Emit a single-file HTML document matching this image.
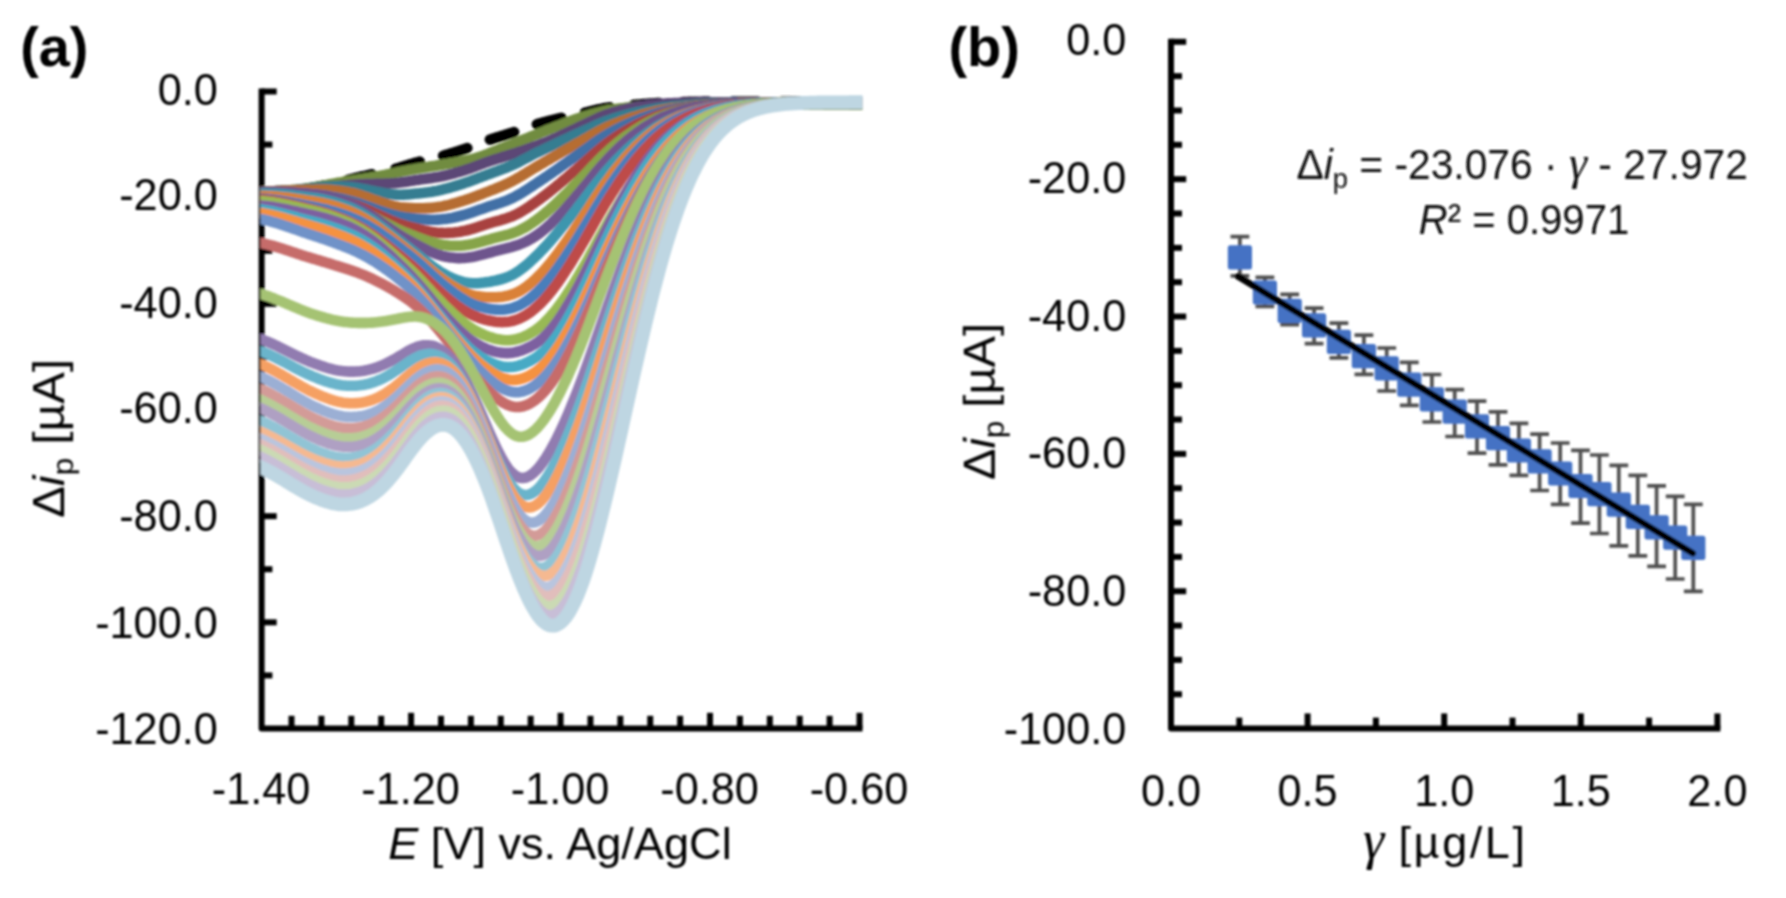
<!DOCTYPE html>
<html><head><meta charset="utf-8"><title>Figure</title>
<style>html,body{margin:0;padding:0;background:#fff;}svg{display:block;}</style></head>
<body>
<svg width="1786" height="898" viewBox="0 0 1786 898">
<defs><filter id="soft" x="0" y="0" width="1786" height="898" filterUnits="userSpaceOnUse"><feGaussianBlur stdDeviation="0.8"/></filter></defs>
<rect width="1786" height="898" fill="#fff"/>
<g filter="url(#soft)">
<g id="chartA">
<g stroke="#000" stroke-width="6" fill="none" stroke-linecap="butt">
<path d="M261.6,88.5 V728.5 H862.5" stroke-linejoin="round"/>
<path d="M261.6,91.50 H276.7"/>
<path d="M261.6,144.58 H272.4"/>
<path d="M261.6,197.67 H276.7"/>
<path d="M261.6,250.75 H272.4"/>
<path d="M261.6,303.83 H276.7"/>
<path d="M261.6,356.92 H272.4"/>
<path d="M261.6,410.00 H276.7"/>
<path d="M261.6,463.08 H272.4"/>
<path d="M261.6,516.17 H276.7"/>
<path d="M261.6,569.25 H272.4"/>
<path d="M261.6,622.33 H276.7"/>
<path d="M261.6,675.42 H272.4"/>
<path d="M291.50,728.5 V715.8"/>
<path d="M321.39,728.5 V715.8"/>
<path d="M351.29,728.5 V715.8"/>
<path d="M381.18,728.5 V715.8"/>
<path d="M411.08,728.5 V712.8"/>
<path d="M440.97,728.5 V715.8"/>
<path d="M470.87,728.5 V715.8"/>
<path d="M500.76,728.5 V715.8"/>
<path d="M530.65,728.5 V715.8"/>
<path d="M560.55,728.5 V712.8"/>
<path d="M590.44,728.5 V715.8"/>
<path d="M620.34,728.5 V715.8"/>
<path d="M650.24,728.5 V715.8"/>
<path d="M680.13,728.5 V715.8"/>
<path d="M710.03,728.5 V712.8"/>
<path d="M739.92,728.5 V715.8"/>
<path d="M769.82,728.5 V715.8"/>
<path d="M799.71,728.5 V715.8"/>
<path d="M829.61,728.5 V715.8"/>
<path d="M859.50,728.5 V712.8"/>
</g>
<clipPath id="clipA"><rect x="260.5" y="60" width="602" height="640"/></clipPath>
<path d="M262.0,192.0 L263.0,192.0 L264.0,192.0 L265.0,192.0 L266.0,191.9 L267.0,191.9 L268.0,191.9 L269.0,191.9 L270.0,191.8 L271.0,191.8 L272.0,191.7 L273.0,191.7 L274.0,191.6 L275.0,191.6 L276.0,191.5 L277.0,191.5 L278.0,191.4 L279.0,191.3 L280.0,191.3 L281.0,191.2 L282.0,191.1 L283.0,191.0 L284.0,191.0 L285.0,190.9 L286.0,190.8 L287.0,190.7 L288.0,190.6 L289.0,190.5 L290.0,190.4 L291.0,190.4 L292.0,190.3 L293.0,190.2 L294.0,190.1 L295.0,190.0 L296.0,189.9 L297.0,189.8 L298.0,189.7 L299.0,189.6 L300.0,189.5 L301.0,189.4 L302.0,189.3 L303.0,189.2 L304.0,189.0 L305.0,188.9 L306.0,188.8 L307.0,188.6 L308.0,188.5 L309.0,188.3 L310.0,188.2 L311.0,188.0 L312.0,187.8 L313.0,187.7 L314.0,187.5 L315.0,187.3 L316.0,187.1 L317.0,186.9 L318.0,186.7 L319.0,186.5 L320.0,186.3 L321.0,186.1 L322.0,185.9 L323.0,185.7 L324.0,185.5 L325.0,185.3 L326.0,185.1 L327.0,184.9 L328.0,184.7 L329.0,184.5 L330.0,184.3 L331.0,184.1 L332.0,183.9 L333.0,183.7 L334.0,183.4 L335.0,183.2 L336.0,183.0 L337.0,182.8 L338.0,182.5 L339.0,182.3 L340.0,182.0 L341.0,181.8 L342.0,181.5 L343.0,181.3 L344.0,181.0 L345.0,180.8 L346.0,180.5 L347.0,180.3 L348.0,180.0 L349.0,179.8 L350.0,179.5 L351.0,179.2 L352.0,179.0 L353.0,178.7 L354.0,178.5 L355.0,178.2 L356.0,178.0 L357.0,177.7 L358.0,177.5 L359.0,177.2 L360.0,177.0 L361.0,176.8 L362.0,176.5 L363.0,176.3 L364.0,176.1 L365.0,175.8 L366.0,175.6 L367.0,175.4 L368.0,175.2 L369.0,174.9 L370.0,174.7 L371.0,174.5 L372.0,174.3 L373.0,174.1 L374.0,173.8 L375.0,173.6 L376.0,173.4 L377.0,173.2 L378.0,173.0 L379.0,172.7 L380.0,172.5 L381.0,172.3 L382.0,172.1 L383.0,171.8 L384.0,171.6 L385.0,171.4 L386.0,171.1 L387.0,170.9 L388.0,170.7 L389.0,170.4 L390.0,170.2 L391.0,169.9 L392.0,169.7 L393.0,169.4 L394.0,169.2 L395.0,168.9 L396.0,168.6 L397.0,168.3 L398.0,168.1 L399.0,167.8 L400.0,167.5 L401.0,167.2 L402.0,166.9 L403.0,166.6 L404.0,166.2 L405.0,165.9 L406.0,165.6 L407.0,165.3 L408.0,165.0 L409.0,164.7 L410.0,164.4 L411.0,164.1 L412.0,163.8 L413.0,163.5 L414.0,163.2 L415.0,162.9 L416.0,162.6 L417.0,162.3 L418.0,162.1 L419.0,161.8 L420.0,161.5 L421.0,161.3 L422.0,161.0 L423.0,160.8 L424.0,160.5 L425.0,160.3 L426.0,160.1 L427.0,159.8 L428.0,159.6 L429.0,159.3 L430.0,159.1 L431.0,158.9 L432.0,158.6 L433.0,158.4 L434.0,158.1 L435.0,157.9 L436.0,157.6 L437.0,157.4 L438.0,157.1 L439.0,156.9 L440.0,156.6 L441.0,156.3 L442.0,156.1 L443.0,155.8 L444.0,155.5 L445.0,155.2 L446.0,154.9 L447.0,154.6 L448.0,154.3 L449.0,154.0 L450.0,153.7 L451.0,153.4 L452.0,153.1 L453.0,152.8 L454.0,152.5 L455.0,152.2 L456.0,151.9 L457.0,151.6 L458.0,151.2 L459.0,150.9 L460.0,150.6 L461.0,150.2 L462.0,149.9 L463.0,149.6 L464.0,149.2 L465.0,148.9 L466.0,148.6 L467.0,148.2 L468.0,147.9 L469.0,147.5 L470.0,147.1 L471.0,146.8 L472.0,146.4 L473.0,146.0 L474.0,145.6 L475.0,145.2 L476.0,144.9 L477.0,144.5 L478.0,144.1 L479.0,143.7 L480.0,143.3 L481.0,142.9 L482.0,142.5 L483.0,142.1 L484.0,141.8 L485.0,141.4 L486.0,141.0 L487.0,140.7 L488.0,140.3 L489.0,140.0 L490.0,139.6 L491.0,139.3 L492.0,139.0 L493.0,138.6 L494.0,138.3 L495.0,138.0 L496.0,137.7 L497.0,137.4 L498.0,137.1 L499.0,136.8 L500.0,136.5 L501.0,136.2 L502.0,135.9 L503.0,135.6 L504.0,135.3 L505.0,135.0 L506.0,134.6 L507.0,134.3 L508.0,134.0 L509.0,133.7 L510.0,133.4 L511.0,133.1 L512.0,132.8 L513.0,132.4 L514.0,132.1 L515.0,131.8 L516.0,131.4 L517.0,131.1 L518.0,130.7 L519.0,130.4 L520.0,130.0 L521.0,129.6 L522.0,129.3 L523.0,128.9 L524.0,128.6 L525.0,128.2 L526.0,127.9 L527.0,127.5 L528.0,127.2 L529.0,126.8 L530.0,126.5 L531.0,126.1 L532.0,125.8 L533.0,125.5 L534.0,125.2 L535.0,124.8 L536.0,124.5 L537.0,124.2 L538.0,124.0 L539.0,123.7 L540.0,123.4 L541.0,123.1 L542.0,122.8 L543.0,122.5 L544.0,122.3 L545.0,122.0 L546.0,121.7 L547.0,121.5 L548.0,121.2 L549.0,121.0 L550.0,120.7 L551.0,120.4 L552.0,120.2 L553.0,119.9 L554.0,119.7 L555.0,119.4 L556.0,119.2 L557.0,118.9 L558.0,118.7 L559.0,118.5 L560.0,118.2 L561.0,118.0 L562.0,117.7 L563.0,117.5 L564.0,117.3 L565.0,117.0 L566.0,116.8 L567.0,116.6 L568.0,116.4 L569.0,116.1 L570.0,115.9 L571.0,115.7 L572.0,115.5 L573.0,115.3 L574.0,115.0 L575.0,114.8 L576.0,114.6 L577.0,114.4 L578.0,114.2 L579.0,114.0 L580.0,113.7 L581.0,113.5 L582.0,113.3 L583.0,113.1 L584.0,112.9 L585.0,112.6 L586.0,112.4 L587.0,112.2 L588.0,111.9 L589.0,111.7 L590.0,111.4 L591.0,111.2 L592.0,111.0 L593.0,110.7 L594.0,110.5 L595.0,110.2 L596.0,110.0 L597.0,109.8 L598.0,109.5 L599.0,109.3 L600.0,109.1 L601.0,108.9 L602.0,108.7 L603.0,108.5 L604.0,108.3 L605.0,108.1 L606.0,108.0 L607.0,107.8 L608.0,107.7 L609.0,107.5 L610.0,107.4 L611.0,107.3 L612.0,107.1 L613.0,107.0 L614.0,106.9 L615.0,106.7 L616.0,106.6 L617.0,106.5 L618.0,106.4 L619.0,106.3 L620.0,106.2 L621.0,106.1 L622.0,106.0 L623.0,105.9 L624.0,105.8 L625.0,105.7 L626.0,105.6 L627.0,105.5 L628.0,105.4 L629.0,105.3 L630.0,105.2 L631.0,105.1 L632.0,105.0 L633.0,104.9 L634.0,104.9 L635.0,104.8 L636.0,104.7 L637.0,104.6 L638.0,104.5 L639.0,104.5 L640.0,104.4 L641.0,104.3 L642.0,104.2 L643.0,104.1 L644.0,104.1 L645.0,104.0 L646.0,103.9 L647.0,103.8 L648.0,103.7 L649.0,103.7 L650.0,103.6 L651.0,103.5 L652.0,103.5 L653.0,103.4 L654.0,103.3 L655.0,103.3 L656.0,103.2 L657.0,103.1 L658.0,103.1 L659.0,103.0 L660.0,102.9 L661.0,102.9 L662.0,102.8 L663.0,102.8 L664.0,102.7 L665.0,102.7 L666.0,102.6 L667.0,102.6 L668.0,102.6 L669.0,102.5 L670.0,102.5 L671.0,102.5 L672.0,102.4 L673.0,102.4 L674.0,102.4 L675.0,102.3 L676.0,102.3 L677.0,102.3 L678.0,102.3 L679.0,102.2 L680.0,102.2 L681.0,102.2 L682.0,102.1 L683.0,102.1 L684.0,102.1 L685.0,102.1 L686.0,102.0 L687.0,102.0 L688.0,102.0 L689.0,101.9 L690.0,101.9 L691.0,101.9 L692.0,101.9 L693.0,101.8 L694.0,101.8 L695.0,101.8 L696.0,101.8 L697.0,101.8 L698.0,101.7 L699.0,101.7 L700.0,101.7 L701.0,101.7 L702.0,101.7 L703.0,101.6 L704.0,101.6 L705.0,101.6 L706.0,101.6 L707.0,101.6 L708.0,101.6 L709.0,101.6 L710.0,101.6 L711.0,101.5 L712.0,101.5 L713.0,101.5 L714.0,101.5 L715.0,101.5 L716.0,101.5 L717.0,101.5 L718.0,101.5 L719.0,101.5 L720.0,101.5 L721.0,101.5 L722.0,101.5 L723.0,101.5 L724.0,101.5 L725.0,101.5 L726.0,101.5 L727.0,101.5 L728.0,101.5 L729.0,101.5 L730.0,101.5 L731.0,101.5 L732.0,101.5 L733.0,101.5 L734.0,101.5 L735.0,101.5 L736.0,101.5 L737.0,101.5 L738.0,101.5 L739.0,101.5 L740.0,101.5 L741.0,101.5 L742.0,101.5 L743.0,101.5 L744.0,101.5 L745.0,101.5 L746.0,101.5 L747.0,101.5 L748.0,101.5 L749.0,101.5 L750.0,101.5 L751.0,101.5 L752.0,101.5 L753.0,101.5 L754.0,101.5 L755.0,101.5 L756.0,101.5 L757.0,101.5 L758.0,101.5 L759.0,101.5 L760.0,101.5 L761.0,101.5 L762.0,101.5 L763.0,101.5 L764.0,101.5 L765.0,101.5 L766.0,101.5 L767.0,101.5 L768.0,101.5 L769.0,101.5 L770.0,101.5 L771.0,101.5 L772.0,101.5 L773.0,101.5 L774.0,101.5 L775.0,101.5 L776.0,101.5 L777.0,101.5 L778.0,101.5 L779.0,101.5 L780.0,101.5 L781.0,101.5 L782.0,101.5 L783.0,101.5 L784.0,101.5 L785.0,101.5 L786.0,101.5 L787.0,101.5 L788.0,101.5 L789.0,101.5 L790.0,101.5 L791.0,101.5 L792.0,101.5 L793.0,101.5 L794.0,101.5 L795.0,101.5 L796.0,101.5 L797.0,101.5 L798.0,101.5 L799.0,101.5 L800.0,101.5 L801.0,101.5 L802.0,101.5 L803.0,101.5 L804.0,101.5 L805.0,101.5 L806.0,101.5 L807.0,101.5 L808.0,101.5 L809.0,101.5 L810.0,101.5 L811.0,101.5 L812.0,101.5 L813.0,101.5 L814.0,101.5 L815.0,101.5 L816.0,101.5 L817.0,101.5 L818.0,101.5 L819.0,101.5 L820.0,101.5 L821.0,101.5 L822.0,101.5 L823.0,101.5 L824.0,101.5 L825.0,101.5 L826.0,101.5 L827.0,101.5 L828.0,101.5 L829.0,101.5 L830.0,101.5 L831.0,101.5 L832.0,101.5 L833.0,101.5 L834.0,101.5 L835.0,101.5 L836.0,101.5 L837.0,101.5 L838.0,101.5 L839.0,101.5 L840.0,101.5 L841.0,101.5 L842.0,101.5 L843.0,101.5 L844.0,101.5 L845.0,101.5 L846.0,101.5 L847.0,101.5 L848.0,101.5 L849.0,101.5 L850.0,101.5 L851.0,101.5 L852.0,101.5 L853.0,101.5 L854.0,101.5 L855.0,101.5 L856.0,101.5 L857.0,101.5 L858.0,101.5 L859.0,101.5 L860.0,101.5 L861.0,101.5 L862.0,101.5" fill="none" stroke="#000" stroke-width="10.6" stroke-dasharray="25.4 24.1" stroke-dashoffset="-36.9" stroke-linecap="round" clip-path="url(#clipA)"/>
<g fill="none" stroke-width="10.6" stroke-linejoin="round" stroke-linecap="butt" clip-path="url(#clipA)">
<path d="M240.0,191.8 L242.0,191.8 L244.0,191.8 L246.0,191.8 L248.0,191.8 L250.0,191.8 L252.0,191.8 L254.0,191.8 L256.0,191.8 L258.0,191.8 L260.0,191.8 L262.0,191.8 L264.0,191.8 L266.0,191.7 L268.0,191.6 L270.0,191.6 L272.0,191.5 L274.0,191.4 L276.0,191.3 L278.0,191.1 L280.0,191.0 L282.0,190.9 L284.0,190.7 L286.0,190.5 L288.0,190.4 L290.0,190.2 L292.0,190.0 L294.0,189.9 L296.0,189.7 L298.0,189.5 L300.0,189.3 L302.0,189.1 L304.0,188.9 L306.0,188.6 L308.0,188.3 L310.0,188.0 L312.0,187.7 L314.0,187.4 L316.0,187.0 L318.0,186.6 L320.0,186.3 L322.0,185.9 L324.0,185.5 L326.0,185.1 L328.0,184.7 L330.0,184.3 L332.0,183.9 L334.0,183.6 L336.0,183.2 L338.0,182.8 L340.0,182.5 L342.0,182.2 L344.0,181.8 L346.0,181.5 L348.0,181.2 L350.0,180.9 L352.0,180.6 L354.0,180.2 L356.0,179.9 L358.0,179.6 L360.0,179.3 L362.0,179.0 L364.0,178.6 L366.0,178.3 L368.0,178.0 L370.0,177.6 L372.0,177.3 L374.0,177.0 L376.0,176.6 L378.0,176.3 L380.0,175.9 L382.0,175.5 L384.0,175.1 L386.0,174.7 L388.0,174.3 L390.0,173.9 L392.0,173.5 L394.0,173.1 L396.0,172.6 L398.0,172.2 L400.0,171.8 L402.0,171.4 L404.0,171.0 L406.0,170.6 L408.0,170.2 L410.0,169.8 L412.0,169.5 L414.0,169.2 L416.0,168.8 L418.0,168.5 L420.0,168.2 L422.0,167.9 L424.0,167.6 L426.0,167.2 L428.0,166.9 L430.0,166.6 L432.0,166.3 L434.0,166.0 L436.0,165.7 L438.0,165.3 L440.0,165.0 L442.0,164.7 L444.0,164.3 L446.0,164.0 L448.0,163.7 L450.0,163.3 L452.0,163.0 L454.0,162.7 L456.0,162.3 L458.0,162.0 L460.0,161.6 L462.0,161.2 L464.0,160.8 L466.0,160.4 L468.0,160.0 L470.0,159.6 L472.0,159.1 L474.0,158.6 L476.0,158.0 L478.0,157.4 L480.0,156.8 L482.0,156.1 L484.0,155.3 L486.0,154.6 L488.0,153.8 L490.0,153.0 L492.0,152.2 L494.0,151.4 L496.0,150.6 L498.0,149.8 L500.0,149.0 L502.0,148.2 L504.0,147.5 L506.0,146.7 L508.0,145.9 L510.0,145.1 L512.0,144.3 L514.0,143.5 L516.0,142.7 L518.0,141.9 L520.0,141.1 L522.0,140.2 L524.0,139.4 L526.0,138.6 L528.0,137.8 L530.0,137.0 L532.0,136.2 L534.0,135.4 L536.0,134.6 L538.0,133.8 L540.0,132.9 L542.0,132.1 L544.0,131.3 L546.0,130.5 L548.0,129.7 L550.0,128.9 L552.0,128.2 L554.0,127.4 L556.0,126.6 L558.0,125.9 L560.0,125.1 L562.0,124.3 L564.0,123.5 L566.0,122.8 L568.0,122.0 L570.0,121.3 L572.0,120.5 L574.0,119.8 L576.0,119.1 L578.0,118.4 L580.0,117.8 L582.0,117.1 L584.0,116.5 L586.0,115.9 L588.0,115.4 L590.0,114.8 L592.0,114.2 L594.0,113.6 L596.0,113.1 L598.0,112.6 L600.0,112.1 L602.0,111.6 L604.0,111.1 L606.0,110.7 L608.0,110.3 L610.0,110.0 L612.0,109.7 L614.0,109.4 L616.0,109.1 L618.0,108.8 L620.0,108.5 L622.0,108.2 L624.0,108.0 L626.0,107.7 L628.0,107.5 L630.0,107.3 L632.0,107.1 L634.0,106.9 L636.0,106.7 L638.0,106.6 L640.0,106.5 L642.0,106.4 L644.0,106.3 L646.0,106.2 L648.0,106.1 L650.0,106.0 L652.0,105.9 L654.0,105.9 L656.0,105.8 L658.0,105.7 L660.0,105.6 L662.0,105.6 L664.0,105.5 L666.0,105.4 L668.0,105.3 L670.0,105.3 L672.0,105.2 L674.0,105.2 L676.0,105.1 L678.0,105.1 L680.0,105.0 L682.0,105.0 L684.0,104.9 L686.0,104.9 L688.0,104.9 L690.0,104.9 L692.0,104.8 L694.0,104.8 L696.0,104.8 L698.0,104.8 L700.0,104.8 L702.0,104.8 L704.0,104.8 L706.0,104.8 L708.0,104.8 L710.0,104.8 L712.0,104.8 L714.0,104.8 L716.0,104.8 L718.0,104.8 L720.0,104.8 L722.0,104.8 L724.0,104.8 L726.0,104.8 L728.0,104.8 L730.0,104.8 L732.0,104.8 L734.0,104.8 L736.0,104.8 L738.0,104.8 L740.0,104.8 L742.0,104.8 L744.0,104.8 L746.0,104.8 L748.0,104.8 L750.0,104.8 L752.0,104.8 L754.0,104.8 L756.0,104.8 L758.0,104.8 L760.0,104.8 L762.0,104.8 L764.0,104.8 L766.0,104.8 L768.0,104.8 L770.0,104.8 L772.0,104.8 L774.0,104.8 L776.0,104.8 L778.0,104.8 L780.0,104.8 L782.0,104.8 L784.0,104.8 L786.0,104.8 L788.0,104.8 L790.0,104.8 L792.0,104.8 L794.0,104.8 L796.0,104.8 L798.0,104.8 L800.0,104.8 L802.0,104.8 L804.0,104.8 L806.0,104.8 L808.0,104.8 L810.0,104.8 L812.0,104.8 L814.0,104.8 L816.0,104.8 L818.0,104.8 L820.0,104.8 L822.0,104.8 L824.0,104.8 L826.0,104.8 L828.0,104.8 L830.0,104.8 L832.0,104.8 L834.0,104.8 L836.0,104.8 L838.0,104.8 L840.0,104.8 L842.0,104.8 L844.0,104.8 L846.0,104.8 L848.0,104.8 L850.0,104.8 L852.0,104.8 L854.0,104.8 L856.0,104.8 L858.0,104.8 L860.0,104.8 L862.0,104.8 L864.0,104.8 L866.0,104.8 L868.0,104.8 L870.0,104.8 L872.0,104.8" stroke="#718C3F"/>
<path d="M240.0,194.6 L242.0,194.3 L244.0,194.1 L246.0,193.8 L248.0,193.5 L250.0,193.3 L252.0,193.0 L254.0,192.8 L256.0,192.6 L258.0,192.4 L260.0,192.2 L262.0,192.0 L264.0,191.9 L266.0,191.7 L268.0,191.6 L270.0,191.4 L272.0,191.3 L274.0,191.2 L276.0,191.1 L278.0,191.0 L280.0,191.0 L282.0,190.9 L284.0,190.8 L286.0,190.7 L288.0,190.6 L290.0,190.6 L292.0,190.5 L294.0,190.4 L296.0,190.3 L298.0,190.2 L300.0,190.0 L302.0,189.9 L304.0,189.7 L306.0,189.6 L308.0,189.4 L310.0,189.2 L312.0,188.9 L314.0,188.7 L316.0,188.5 L318.0,188.3 L320.0,188.0 L322.0,187.8 L324.0,187.6 L326.0,187.4 L328.0,187.2 L330.0,187.0 L332.0,186.8 L334.0,186.6 L336.0,186.4 L338.0,186.2 L340.0,186.0 L342.0,185.8 L344.0,185.6 L346.0,185.4 L348.0,185.2 L350.0,185.0 L352.0,184.9 L354.0,184.7 L356.0,184.6 L358.0,184.5 L360.0,184.4 L362.0,184.3 L364.0,184.2 L366.0,184.1 L368.0,184.1 L370.0,184.0 L372.0,184.0 L374.0,184.0 L376.0,183.9 L378.0,183.9 L380.0,183.8 L382.0,183.8 L384.0,183.7 L386.0,183.6 L388.0,183.6 L390.0,183.5 L392.0,183.3 L394.0,183.2 L396.0,183.0 L398.0,182.8 L400.0,182.6 L402.0,182.3 L404.0,182.0 L406.0,181.7 L408.0,181.4 L410.0,181.1 L412.0,180.8 L414.0,180.4 L416.0,180.1 L418.0,179.9 L420.0,179.6 L422.0,179.3 L424.0,179.1 L426.0,178.8 L428.0,178.5 L430.0,178.2 L432.0,177.9 L434.0,177.6 L436.0,177.3 L438.0,177.0 L440.0,176.6 L442.0,176.2 L444.0,175.8 L446.0,175.3 L448.0,174.8 L450.0,174.3 L452.0,173.8 L454.0,173.3 L456.0,172.7 L458.0,172.2 L460.0,171.6 L462.0,171.0 L464.0,170.4 L466.0,169.7 L468.0,169.1 L470.0,168.4 L472.0,167.7 L474.0,166.9 L476.0,166.2 L478.0,165.4 L480.0,164.7 L482.0,163.9 L484.0,163.2 L486.0,162.4 L488.0,161.7 L490.0,161.0 L492.0,160.4 L494.0,159.7 L496.0,159.1 L498.0,158.5 L500.0,157.9 L502.0,157.2 L504.0,156.6 L506.0,156.0 L508.0,155.4 L510.0,154.8 L512.0,154.2 L514.0,153.6 L516.0,152.9 L518.0,152.2 L520.0,151.6 L522.0,150.9 L524.0,150.2 L526.0,149.5 L528.0,148.8 L530.0,148.1 L532.0,147.3 L534.0,146.6 L536.0,145.9 L538.0,145.2 L540.0,144.5 L542.0,143.7 L544.0,142.9 L546.0,142.1 L548.0,141.3 L550.0,140.5 L552.0,139.6 L554.0,138.7 L556.0,137.9 L558.0,136.9 L560.0,136.0 L562.0,135.1 L564.0,134.2 L566.0,133.2 L568.0,132.3 L570.0,131.3 L572.0,130.4 L574.0,129.5 L576.0,128.5 L578.0,127.6 L580.0,126.6 L582.0,125.7 L584.0,124.7 L586.0,123.8 L588.0,122.8 L590.0,121.8 L592.0,120.9 L594.0,119.9 L596.0,119.0 L598.0,118.1 L600.0,117.2 L602.0,116.3 L604.0,115.5 L606.0,114.8 L608.0,114.1 L610.0,113.5 L612.0,112.8 L614.0,112.2 L616.0,111.6 L618.0,111.1 L620.0,110.5 L622.0,110.0 L624.0,109.6 L626.0,109.1 L628.0,108.7 L630.0,108.2 L632.0,107.9 L634.0,107.5 L636.0,107.1 L638.0,106.8 L640.0,106.5 L642.0,106.2 L644.0,105.9 L646.0,105.6 L648.0,105.3 L650.0,105.0 L652.0,104.8 L654.0,104.6 L656.0,104.4 L658.0,104.2 L660.0,104.0 L662.0,103.8 L664.0,103.7 L666.0,103.5 L668.0,103.4 L670.0,103.3 L672.0,103.2 L674.0,103.1 L676.0,103.0 L678.0,103.0 L680.0,102.9 L682.0,102.8 L684.0,102.8 L686.0,102.7 L688.0,102.7 L690.0,102.6 L692.0,102.6 L694.0,102.5 L696.0,102.5 L698.0,102.4 L700.0,102.4 L702.0,102.4 L704.0,102.3 L706.0,102.3 L708.0,102.3 L710.0,102.3 L712.0,102.3 L714.0,102.2 L716.0,102.2 L718.0,102.2 L720.0,102.2 L722.0,102.2 L724.0,102.2 L726.0,102.2 L728.0,102.2 L730.0,102.2 L732.0,102.2 L734.0,102.2 L736.0,102.2 L738.0,102.2 L740.0,102.2 L742.0,102.2 L744.0,102.2 L746.0,102.2 L748.0,102.2 L750.0,102.2 L752.0,102.2 L754.0,102.2 L756.0,102.2 L758.0,102.2 L760.0,102.2 L762.0,102.2 L764.0,102.2 L766.0,102.2 L768.0,102.2 L770.0,102.2 L772.0,102.2 L774.0,102.2 L776.0,102.2 L778.0,102.2 L780.0,102.2 L782.0,102.2 L784.0,102.2 L786.0,102.2 L788.0,102.2 L790.0,102.2 L792.0,102.2 L794.0,102.2 L796.0,102.2 L798.0,102.2 L800.0,102.2 L802.0,102.2 L804.0,102.2 L806.0,102.2 L808.0,102.2 L810.0,102.2 L812.0,102.2 L814.0,102.2 L816.0,102.2 L818.0,102.2 L820.0,102.2 L822.0,102.2 L824.0,102.2 L826.0,102.2 L828.0,102.2 L830.0,102.2 L832.0,102.2 L834.0,102.2 L836.0,102.2 L838.0,102.2 L840.0,102.2 L842.0,102.2 L844.0,102.2 L846.0,102.2 L848.0,102.2 L850.0,102.2 L852.0,102.2 L854.0,102.2 L856.0,102.2 L858.0,102.2 L860.0,102.2 L862.0,102.2 L864.0,102.2 L866.0,102.2 L868.0,102.2 L870.0,102.2 L872.0,102.2" stroke="#5C4776"/>
<path d="M240.0,194.6 L242.0,194.3 L244.0,194.1 L246.0,193.8 L248.0,193.5 L250.0,193.3 L252.0,193.0 L254.0,192.8 L256.0,192.6 L258.0,192.4 L260.0,192.2 L262.0,192.0 L264.0,191.8 L266.0,191.7 L268.0,191.5 L270.0,191.4 L272.0,191.3 L274.0,191.2 L276.0,191.1 L278.0,190.9 L280.0,190.8 L282.0,190.7 L284.0,190.6 L286.0,190.5 L288.0,190.4 L290.0,190.3 L292.0,190.2 L294.0,190.1 L296.0,189.9 L298.0,189.8 L300.0,189.7 L302.0,189.5 L304.0,189.3 L306.0,189.1 L308.0,188.9 L310.0,188.6 L312.0,188.4 L314.0,188.1 L316.0,187.9 L318.0,187.7 L320.0,187.5 L322.0,187.3 L324.0,187.1 L326.0,186.9 L328.0,186.8 L330.0,186.7 L332.0,186.7 L334.0,186.6 L336.0,186.6 L338.0,186.6 L340.0,186.6 L342.0,186.6 L344.0,186.7 L346.0,186.8 L348.0,186.9 L350.0,187.1 L352.0,187.3 L354.0,187.5 L356.0,187.8 L358.0,188.1 L360.0,188.4 L362.0,188.7 L364.0,189.1 L366.0,189.5 L368.0,189.9 L370.0,190.4 L372.0,190.8 L374.0,191.2 L376.0,191.6 L378.0,192.0 L380.0,192.4 L382.0,192.8 L384.0,193.2 L386.0,193.5 L388.0,193.8 L390.0,194.1 L392.0,194.3 L394.0,194.5 L396.0,194.6 L398.0,194.7 L400.0,194.7 L402.0,194.7 L404.0,194.6 L406.0,194.5 L408.0,194.4 L410.0,194.2 L412.0,194.0 L414.0,193.8 L416.0,193.6 L418.0,193.4 L420.0,193.2 L422.0,193.0 L424.0,192.8 L426.0,192.5 L428.0,192.3 L430.0,192.0 L432.0,191.7 L434.0,191.3 L436.0,191.0 L438.0,190.6 L440.0,190.1 L442.0,189.7 L444.0,189.2 L446.0,188.7 L448.0,188.2 L450.0,187.6 L452.0,187.0 L454.0,186.4 L456.0,185.8 L458.0,185.2 L460.0,184.6 L462.0,183.9 L464.0,183.3 L466.0,182.6 L468.0,181.9 L470.0,181.2 L472.0,180.5 L474.0,179.7 L476.0,179.0 L478.0,178.2 L480.0,177.4 L482.0,176.7 L484.0,175.9 L486.0,175.2 L488.0,174.4 L490.0,173.7 L492.0,173.0 L494.0,172.3 L496.0,171.6 L498.0,170.8 L500.0,170.1 L502.0,169.3 L504.0,168.6 L506.0,167.8 L508.0,166.9 L510.0,166.1 L512.0,165.2 L514.0,164.3 L516.0,163.4 L518.0,162.4 L520.0,161.4 L522.0,160.3 L524.0,159.3 L526.0,158.3 L528.0,157.2 L530.0,156.2 L532.0,155.1 L534.0,154.1 L536.0,153.1 L538.0,152.1 L540.0,151.2 L542.0,150.2 L544.0,149.2 L546.0,148.3 L548.0,147.3 L550.0,146.4 L552.0,145.4 L554.0,144.5 L556.0,143.5 L558.0,142.6 L560.0,141.7 L562.0,140.7 L564.0,139.8 L566.0,138.9 L568.0,138.0 L570.0,137.0 L572.0,136.1 L574.0,135.2 L576.0,134.3 L578.0,133.4 L580.0,132.5 L582.0,131.6 L584.0,130.7 L586.0,129.8 L588.0,128.9 L590.0,128.0 L592.0,127.1 L594.0,126.1 L596.0,125.2 L598.0,124.3 L600.0,123.5 L602.0,122.6 L604.0,121.8 L606.0,121.1 L608.0,120.4 L610.0,119.7 L612.0,119.0 L614.0,118.4 L616.0,117.8 L618.0,117.2 L620.0,116.6 L622.0,116.0 L624.0,115.5 L626.0,114.9 L628.0,114.4 L630.0,113.9 L632.0,113.4 L634.0,112.9 L636.0,112.5 L638.0,112.0 L640.0,111.6 L642.0,111.2 L644.0,110.8 L646.0,110.4 L648.0,110.0 L650.0,109.6 L652.0,109.2 L654.0,108.9 L656.0,108.5 L658.0,108.2 L660.0,107.9 L662.0,107.6 L664.0,107.3 L666.0,107.0 L668.0,106.8 L670.0,106.6 L672.0,106.3 L674.0,106.1 L676.0,105.9 L678.0,105.7 L680.0,105.6 L682.0,105.4 L684.0,105.2 L686.0,105.0 L688.0,104.9 L690.0,104.7 L692.0,104.6 L694.0,104.4 L696.0,104.3 L698.0,104.2 L700.0,104.1 L702.0,104.0 L704.0,103.8 L706.0,103.7 L708.0,103.6 L710.0,103.6 L712.0,103.5 L714.0,103.4 L716.0,103.3 L718.0,103.3 L720.0,103.2 L722.0,103.1 L724.0,103.1 L726.0,103.0 L728.0,103.0 L730.0,102.9 L732.0,102.9 L734.0,102.8 L736.0,102.8 L738.0,102.8 L740.0,102.7 L742.0,102.7 L744.0,102.7 L746.0,102.6 L748.0,102.6 L750.0,102.6 L752.0,102.6 L754.0,102.5 L756.0,102.5 L758.0,102.5 L760.0,102.5 L762.0,102.5 L764.0,102.4 L766.0,102.4 L768.0,102.4 L770.0,102.4 L772.0,102.4 L774.0,102.4 L776.0,102.4 L778.0,102.3 L780.0,102.3 L782.0,102.3 L784.0,102.3 L786.0,102.3 L788.0,102.3 L790.0,102.3 L792.0,102.3 L794.0,102.3 L796.0,102.3 L798.0,102.3 L800.0,102.3 L802.0,102.3 L804.0,102.3 L806.0,102.2 L808.0,102.2 L810.0,102.2 L812.0,102.2 L814.0,102.2 L816.0,102.2 L818.0,102.2 L820.0,102.2 L822.0,102.2 L824.0,102.2 L826.0,102.2 L828.0,102.2 L830.0,102.2 L832.0,102.2 L834.0,102.2 L836.0,102.2 L838.0,102.2 L840.0,102.2 L842.0,102.2 L844.0,102.2 L846.0,102.2 L848.0,102.2 L850.0,102.2 L852.0,102.2 L854.0,102.2 L856.0,102.2 L858.0,102.2 L860.0,102.2 L862.0,102.2 L864.0,102.2 L866.0,102.2 L868.0,102.2 L870.0,102.2 L872.0,102.2" stroke="#357D91"/>
<path d="M240.0,194.6 L242.0,194.3 L244.0,194.1 L246.0,193.8 L248.0,193.5 L250.0,193.3 L252.0,193.0 L254.0,192.8 L256.0,192.6 L258.0,192.4 L260.0,192.2 L262.0,192.0 L264.0,191.9 L266.0,191.7 L268.0,191.6 L270.0,191.4 L272.0,191.3 L274.0,191.2 L276.0,191.1 L278.0,191.0 L280.0,191.0 L282.0,190.9 L284.0,190.8 L286.0,190.8 L288.0,190.7 L290.0,190.6 L292.0,190.6 L294.0,190.5 L296.0,190.4 L298.0,190.4 L300.0,190.3 L302.0,190.2 L304.0,190.1 L306.0,190.0 L308.0,189.9 L310.0,189.8 L312.0,189.7 L314.0,189.7 L316.0,189.6 L318.0,189.5 L320.0,189.5 L322.0,189.5 L324.0,189.5 L326.0,189.6 L328.0,189.7 L330.0,189.8 L332.0,190.0 L334.0,190.2 L336.0,190.4 L338.0,190.6 L340.0,190.9 L342.0,191.1 L344.0,191.5 L346.0,191.8 L348.0,192.2 L350.0,192.6 L352.0,193.0 L354.0,193.5 L356.0,194.0 L358.0,194.6 L360.0,195.2 L362.0,195.8 L364.0,196.5 L366.0,197.1 L368.0,197.8 L370.0,198.5 L372.0,199.2 L374.0,199.9 L376.0,200.6 L378.0,201.3 L380.0,202.0 L382.0,202.7 L384.0,203.3 L386.0,203.9 L388.0,204.5 L390.0,205.1 L392.0,205.6 L394.0,206.1 L396.0,206.5 L398.0,206.9 L400.0,207.2 L402.0,207.4 L404.0,207.6 L406.0,207.8 L408.0,207.9 L410.0,208.0 L412.0,208.1 L414.0,208.2 L416.0,208.2 L418.0,208.2 L420.0,208.2 L422.0,208.2 L424.0,208.2 L426.0,208.1 L428.0,208.0 L430.0,207.9 L432.0,207.7 L434.0,207.5 L436.0,207.3 L438.0,207.0 L440.0,206.7 L442.0,206.4 L444.0,206.0 L446.0,205.5 L448.0,205.1 L450.0,204.6 L452.0,204.0 L454.0,203.5 L456.0,202.9 L458.0,202.3 L460.0,201.7 L462.0,201.1 L464.0,200.5 L466.0,199.8 L468.0,199.2 L470.0,198.5 L472.0,197.8 L474.0,197.0 L476.0,196.3 L478.0,195.5 L480.0,194.7 L482.0,194.0 L484.0,193.2 L486.0,192.4 L488.0,191.6 L490.0,190.8 L492.0,190.1 L494.0,189.3 L496.0,188.5 L498.0,187.7 L500.0,186.8 L502.0,186.0 L504.0,185.1 L506.0,184.2 L508.0,183.2 L510.0,182.2 L512.0,181.2 L514.0,180.2 L516.0,179.1 L518.0,177.9 L520.0,176.8 L522.0,175.6 L524.0,174.4 L526.0,173.2 L528.0,171.9 L530.0,170.7 L532.0,169.5 L534.0,168.3 L536.0,167.1 L538.0,165.9 L540.0,164.7 L542.0,163.6 L544.0,162.4 L546.0,161.2 L548.0,160.1 L550.0,158.9 L552.0,157.7 L554.0,156.6 L556.0,155.4 L558.0,154.3 L560.0,153.1 L562.0,151.9 L564.0,150.8 L566.0,149.6 L568.0,148.5 L570.0,147.4 L572.0,146.3 L574.0,145.1 L576.0,144.0 L578.0,142.9 L580.0,141.8 L582.0,140.7 L584.0,139.5 L586.0,138.4 L588.0,137.3 L590.0,136.1 L592.0,135.0 L594.0,133.9 L596.0,132.7 L598.0,131.6 L600.0,130.6 L602.0,129.5 L604.0,128.6 L606.0,127.6 L608.0,126.7 L610.0,125.8 L612.0,125.0 L614.0,124.2 L616.0,123.4 L618.0,122.6 L620.0,121.8 L622.0,121.1 L624.0,120.4 L626.0,119.7 L628.0,119.0 L630.0,118.3 L632.0,117.7 L634.0,117.1 L636.0,116.5 L638.0,115.9 L640.0,115.3 L642.0,114.7 L644.0,114.2 L646.0,113.7 L648.0,113.1 L650.0,112.6 L652.0,112.1 L654.0,111.7 L656.0,111.2 L658.0,110.8 L660.0,110.4 L662.0,110.0 L664.0,109.6 L666.0,109.2 L668.0,108.9 L670.0,108.6 L672.0,108.3 L674.0,108.0 L676.0,107.7 L678.0,107.4 L680.0,107.2 L682.0,106.9 L684.0,106.7 L686.0,106.4 L688.0,106.2 L690.0,106.0 L692.0,105.8 L694.0,105.6 L696.0,105.4 L698.0,105.2 L700.0,105.0 L702.0,104.9 L704.0,104.7 L706.0,104.6 L708.0,104.4 L710.0,104.3 L712.0,104.2 L714.0,104.1 L716.0,104.0 L718.0,103.9 L720.0,103.8 L722.0,103.7 L724.0,103.6 L726.0,103.5 L728.0,103.4 L730.0,103.4 L732.0,103.3 L734.0,103.2 L736.0,103.2 L738.0,103.1 L740.0,103.1 L742.0,103.0 L744.0,103.0 L746.0,102.9 L748.0,102.9 L750.0,102.8 L752.0,102.8 L754.0,102.7 L756.0,102.7 L758.0,102.7 L760.0,102.6 L762.0,102.6 L764.0,102.6 L766.0,102.6 L768.0,102.5 L770.0,102.5 L772.0,102.5 L774.0,102.5 L776.0,102.5 L778.0,102.4 L780.0,102.4 L782.0,102.4 L784.0,102.4 L786.0,102.4 L788.0,102.4 L790.0,102.4 L792.0,102.3 L794.0,102.3 L796.0,102.3 L798.0,102.3 L800.0,102.3 L802.0,102.3 L804.0,102.3 L806.0,102.3 L808.0,102.3 L810.0,102.3 L812.0,102.3 L814.0,102.3 L816.0,102.3 L818.0,102.3 L820.0,102.2 L822.0,102.2 L824.0,102.2 L826.0,102.2 L828.0,102.2 L830.0,102.2 L832.0,102.2 L834.0,102.2 L836.0,102.2 L838.0,102.2 L840.0,102.2 L842.0,102.2 L844.0,102.2 L846.0,102.2 L848.0,102.2 L850.0,102.2 L852.0,102.2 L854.0,102.2 L856.0,102.2 L858.0,102.2 L860.0,102.2 L862.0,102.2 L864.0,102.2 L866.0,102.2 L868.0,102.2 L870.0,102.2 L872.0,102.2" stroke="#B66D31"/>
<path d="M240.0,194.7 L242.0,194.4 L244.0,194.2 L246.0,193.9 L248.0,193.7 L250.0,193.5 L252.0,193.3 L254.0,193.1 L256.0,192.9 L258.0,192.7 L260.0,192.6 L262.0,192.5 L264.0,192.4 L266.0,192.3 L268.0,192.2 L270.0,192.2 L272.0,192.1 L274.0,192.1 L276.0,192.1 L278.0,192.2 L280.0,192.2 L282.0,192.3 L284.0,192.3 L286.0,192.4 L288.0,192.5 L290.0,192.6 L292.0,192.8 L294.0,192.9 L296.0,193.0 L298.0,193.2 L300.0,193.3 L302.0,193.5 L304.0,193.6 L306.0,193.8 L308.0,193.9 L310.0,194.1 L312.0,194.2 L314.0,194.4 L316.0,194.6 L318.0,194.8 L320.0,195.0 L322.0,195.2 L324.0,195.5 L326.0,195.8 L328.0,196.1 L330.0,196.5 L332.0,196.9 L334.0,197.2 L336.0,197.6 L338.0,198.1 L340.0,198.5 L342.0,198.9 L344.0,199.4 L346.0,199.9 L348.0,200.4 L350.0,200.9 L352.0,201.4 L354.0,202.0 L356.0,202.6 L358.0,203.2 L360.0,203.8 L362.0,204.5 L364.0,205.2 L366.0,205.9 L368.0,206.6 L370.0,207.3 L372.0,208.0 L374.0,208.7 L376.0,209.4 L378.0,210.2 L380.0,210.9 L382.0,211.5 L384.0,212.2 L386.0,212.9 L388.0,213.5 L390.0,214.1 L392.0,214.7 L394.0,215.2 L396.0,215.7 L398.0,216.2 L400.0,216.6 L402.0,216.9 L404.0,217.3 L406.0,217.6 L408.0,217.8 L410.0,218.1 L412.0,218.3 L414.0,218.5 L416.0,218.7 L418.0,218.9 L420.0,219.1 L422.0,219.2 L424.0,219.4 L426.0,219.5 L428.0,219.6 L430.0,219.7 L432.0,219.7 L434.0,219.7 L436.0,219.7 L438.0,219.6 L440.0,219.5 L442.0,219.3 L444.0,219.1 L446.0,218.9 L448.0,218.6 L450.0,218.2 L452.0,217.9 L454.0,217.5 L456.0,217.0 L458.0,216.5 L460.0,216.0 L462.0,215.5 L464.0,215.0 L466.0,214.4 L468.0,213.8 L470.0,213.1 L472.0,212.5 L474.0,211.7 L476.0,211.0 L478.0,210.3 L480.0,209.6 L482.0,208.9 L484.0,208.2 L486.0,207.5 L488.0,206.8 L490.0,206.1 L492.0,205.5 L494.0,204.9 L496.0,204.3 L498.0,203.6 L500.0,203.0 L502.0,202.3 L504.0,201.6 L506.0,200.8 L508.0,200.0 L510.0,199.1 L512.0,198.2 L514.0,197.2 L516.0,196.1 L518.0,195.0 L520.0,193.9 L522.0,192.7 L524.0,191.4 L526.0,190.2 L528.0,188.9 L530.0,187.6 L532.0,186.3 L534.0,184.9 L536.0,183.6 L538.0,182.3 L540.0,181.0 L542.0,179.6 L544.0,178.3 L546.0,176.9 L548.0,175.6 L550.0,174.2 L552.0,172.8 L554.0,171.4 L556.0,170.1 L558.0,168.7 L560.0,167.2 L562.0,165.8 L564.0,164.4 L566.0,163.0 L568.0,161.6 L570.0,160.2 L572.0,158.8 L574.0,157.4 L576.0,155.9 L578.0,154.5 L580.0,153.1 L582.0,151.7 L584.0,150.3 L586.0,148.9 L588.0,147.4 L590.0,146.0 L592.0,144.6 L594.0,143.1 L596.0,141.7 L598.0,140.3 L600.0,139.0 L602.0,137.7 L604.0,136.4 L606.0,135.2 L608.0,134.0 L610.0,132.9 L612.0,131.7 L614.0,130.6 L616.0,129.6 L618.0,128.6 L620.0,127.5 L622.0,126.6 L624.0,125.6 L626.0,124.7 L628.0,123.8 L630.0,122.9 L632.0,122.0 L634.0,121.2 L636.0,120.4 L638.0,119.6 L640.0,118.8 L642.0,118.1 L644.0,117.4 L646.0,116.7 L648.0,116.0 L650.0,115.3 L652.0,114.7 L654.0,114.1 L656.0,113.5 L658.0,112.9 L660.0,112.3 L662.0,111.8 L664.0,111.3 L666.0,110.8 L668.0,110.4 L670.0,110.0 L672.0,109.6 L674.0,109.2 L676.0,108.8 L678.0,108.5 L680.0,108.1 L682.0,107.8 L684.0,107.5 L686.0,107.2 L688.0,106.9 L690.0,106.6 L692.0,106.4 L694.0,106.1 L696.0,105.9 L698.0,105.7 L700.0,105.4 L702.0,105.2 L704.0,105.1 L706.0,104.9 L708.0,104.7 L710.0,104.5 L712.0,104.4 L714.0,104.2 L716.0,104.1 L718.0,104.0 L720.0,103.9 L722.0,103.8 L724.0,103.7 L726.0,103.6 L728.0,103.5 L730.0,103.4 L732.0,103.3 L734.0,103.2 L736.0,103.2 L738.0,103.1 L740.0,103.0 L742.0,103.0 L744.0,102.9 L746.0,102.9 L748.0,102.8 L750.0,102.8 L752.0,102.7 L754.0,102.7 L756.0,102.7 L758.0,102.6 L760.0,102.6 L762.0,102.6 L764.0,102.5 L766.0,102.5 L768.0,102.5 L770.0,102.5 L772.0,102.5 L774.0,102.4 L776.0,102.4 L778.0,102.4 L780.0,102.4 L782.0,102.4 L784.0,102.4 L786.0,102.3 L788.0,102.3 L790.0,102.3 L792.0,102.3 L794.0,102.3 L796.0,102.3 L798.0,102.3 L800.0,102.3 L802.0,102.3 L804.0,102.3 L806.0,102.3 L808.0,102.3 L810.0,102.2 L812.0,102.2 L814.0,102.2 L816.0,102.2 L818.0,102.2 L820.0,102.2 L822.0,102.2 L824.0,102.2 L826.0,102.2 L828.0,102.2 L830.0,102.2 L832.0,102.2 L834.0,102.2 L836.0,102.2 L838.0,102.2 L840.0,102.2 L842.0,102.2 L844.0,102.2 L846.0,102.2 L848.0,102.2 L850.0,102.2 L852.0,102.2 L854.0,102.2 L856.0,102.2 L858.0,102.2 L860.0,102.2 L862.0,102.2 L864.0,102.2 L866.0,102.2 L868.0,102.2 L870.0,102.2 L872.0,102.2" stroke="#426FA6"/>
<path d="M240.0,194.8 L242.0,194.5 L244.0,194.3 L246.0,194.0 L248.0,193.8 L250.0,193.6 L252.0,193.4 L254.0,193.2 L256.0,193.1 L258.0,192.9 L260.0,192.8 L262.0,192.7 L264.0,192.6 L266.0,192.5 L268.0,192.5 L270.0,192.5 L272.0,192.5 L274.0,192.5 L276.0,192.6 L278.0,192.6 L280.0,192.7 L282.0,192.8 L284.0,192.9 L286.0,193.0 L288.0,193.1 L290.0,193.3 L292.0,193.4 L294.0,193.6 L296.0,193.8 L298.0,193.9 L300.0,194.1 L302.0,194.3 L304.0,194.5 L306.0,194.7 L308.0,194.9 L310.0,195.1 L312.0,195.3 L314.0,195.5 L316.0,195.7 L318.0,196.0 L320.0,196.3 L322.0,196.5 L324.0,196.9 L326.0,197.2 L328.0,197.6 L330.0,198.0 L332.0,198.5 L334.0,198.9 L336.0,199.4 L338.0,199.9 L340.0,200.4 L342.0,200.9 L344.0,201.5 L346.0,202.0 L348.0,202.6 L350.0,203.2 L352.0,203.9 L354.0,204.6 L356.0,205.3 L358.0,206.0 L360.0,206.8 L362.0,207.6 L364.0,208.4 L366.0,209.3 L368.0,210.2 L370.0,211.0 L372.0,211.9 L374.0,212.9 L376.0,213.8 L378.0,214.7 L380.0,215.6 L382.0,216.5 L384.0,217.4 L386.0,218.3 L388.0,219.2 L390.0,220.1 L392.0,220.9 L394.0,221.7 L396.0,222.5 L398.0,223.2 L400.0,223.9 L402.0,224.6 L404.0,225.2 L406.0,225.8 L408.0,226.3 L410.0,226.9 L412.0,227.4 L414.0,227.9 L416.0,228.5 L418.0,229.0 L420.0,229.5 L422.0,229.9 L424.0,230.4 L426.0,230.8 L428.0,231.2 L430.0,231.6 L432.0,232.0 L434.0,232.2 L436.0,232.5 L438.0,232.7 L440.0,232.9 L442.0,232.9 L444.0,233.0 L446.0,233.0 L448.0,232.9 L450.0,232.8 L452.0,232.7 L454.0,232.5 L456.0,232.2 L458.0,232.0 L460.0,231.7 L462.0,231.3 L464.0,230.9 L466.0,230.5 L468.0,230.0 L470.0,229.5 L472.0,228.9 L474.0,228.3 L476.0,227.7 L478.0,227.0 L480.0,226.3 L482.0,225.7 L484.0,225.0 L486.0,224.3 L488.0,223.7 L490.0,223.1 L492.0,222.5 L494.0,221.9 L496.0,221.4 L498.0,220.8 L500.0,220.3 L502.0,219.7 L504.0,219.1 L506.0,218.5 L508.0,217.8 L510.0,217.1 L512.0,216.3 L514.0,215.4 L516.0,214.5 L518.0,213.5 L520.0,212.4 L522.0,211.2 L524.0,210.0 L526.0,208.8 L528.0,207.5 L530.0,206.1 L532.0,204.7 L534.0,203.3 L536.0,201.9 L538.0,200.5 L540.0,199.1 L542.0,197.6 L544.0,196.1 L546.0,194.5 L548.0,193.0 L550.0,191.4 L552.0,189.8 L554.0,188.2 L556.0,186.6 L558.0,184.9 L560.0,183.3 L562.0,181.6 L564.0,179.9 L566.0,178.2 L568.0,176.5 L570.0,174.8 L572.0,173.1 L574.0,171.4 L576.0,169.7 L578.0,167.9 L580.0,166.2 L582.0,164.5 L584.0,162.7 L586.0,161.0 L588.0,159.2 L590.0,157.5 L592.0,155.7 L594.0,153.9 L596.0,152.2 L598.0,150.5 L600.0,148.8 L602.0,147.2 L604.0,145.6 L606.0,144.0 L608.0,142.5 L610.0,141.1 L612.0,139.7 L614.0,138.3 L616.0,136.9 L618.0,135.6 L620.0,134.3 L622.0,133.1 L624.0,131.8 L626.0,130.6 L628.0,129.5 L630.0,128.3 L632.0,127.2 L634.0,126.2 L636.0,125.1 L638.0,124.1 L640.0,123.1 L642.0,122.2 L644.0,121.2 L646.0,120.3 L648.0,119.5 L650.0,118.6 L652.0,117.8 L654.0,117.0 L656.0,116.3 L658.0,115.5 L660.0,114.8 L662.0,114.2 L664.0,113.5 L666.0,112.9 L668.0,112.3 L670.0,111.8 L672.0,111.3 L674.0,110.8 L676.0,110.3 L678.0,109.9 L680.0,109.4 L682.0,109.0 L684.0,108.6 L686.0,108.2 L688.0,107.9 L690.0,107.5 L692.0,107.2 L694.0,106.9 L696.0,106.6 L698.0,106.3 L700.0,106.1 L702.0,105.8 L704.0,105.6 L706.0,105.3 L708.0,105.1 L710.0,104.9 L712.0,104.7 L714.0,104.6 L716.0,104.4 L718.0,104.3 L720.0,104.1 L722.0,104.0 L724.0,103.9 L726.0,103.8 L728.0,103.6 L730.0,103.5 L732.0,103.4 L734.0,103.4 L736.0,103.3 L738.0,103.2 L740.0,103.1 L742.0,103.1 L744.0,103.0 L746.0,102.9 L748.0,102.9 L750.0,102.8 L752.0,102.8 L754.0,102.7 L756.0,102.7 L758.0,102.7 L760.0,102.6 L762.0,102.6 L764.0,102.6 L766.0,102.5 L768.0,102.5 L770.0,102.5 L772.0,102.5 L774.0,102.4 L776.0,102.4 L778.0,102.4 L780.0,102.4 L782.0,102.4 L784.0,102.3 L786.0,102.3 L788.0,102.3 L790.0,102.3 L792.0,102.3 L794.0,102.3 L796.0,102.3 L798.0,102.3 L800.0,102.3 L802.0,102.3 L804.0,102.3 L806.0,102.3 L808.0,102.2 L810.0,102.2 L812.0,102.2 L814.0,102.2 L816.0,102.2 L818.0,102.2 L820.0,102.2 L822.0,102.2 L824.0,102.2 L826.0,102.2 L828.0,102.2 L830.0,102.2 L832.0,102.2 L834.0,102.2 L836.0,102.2 L838.0,102.2 L840.0,102.2 L842.0,102.2 L844.0,102.2 L846.0,102.2 L848.0,102.2 L850.0,102.2 L852.0,102.2 L854.0,102.2 L856.0,102.2 L858.0,102.2 L860.0,102.2 L862.0,102.2 L864.0,102.2 L866.0,102.2 L868.0,102.2 L870.0,102.2 L872.0,102.2" stroke="#A8423F"/>
<path d="M240.0,195.0 L242.0,194.7 L244.0,194.5 L246.0,194.3 L248.0,194.1 L250.0,193.9 L252.0,193.7 L254.0,193.6 L256.0,193.4 L258.0,193.3 L260.0,193.2 L262.0,193.2 L264.0,193.1 L266.0,193.1 L268.0,193.1 L270.0,193.1 L272.0,193.2 L274.0,193.2 L276.0,193.3 L278.0,193.4 L280.0,193.5 L282.0,193.7 L284.0,193.8 L286.0,194.0 L288.0,194.2 L290.0,194.4 L292.0,194.6 L294.0,194.8 L296.0,195.1 L298.0,195.3 L300.0,195.5 L302.0,195.8 L304.0,196.0 L306.0,196.3 L308.0,196.5 L310.0,196.8 L312.0,197.1 L314.0,197.3 L316.0,197.6 L318.0,198.0 L320.0,198.3 L322.0,198.6 L324.0,199.0 L326.0,199.5 L328.0,199.9 L330.0,200.4 L332.0,200.9 L334.0,201.4 L336.0,202.0 L338.0,202.5 L340.0,203.1 L342.0,203.7 L344.0,204.3 L346.0,204.9 L348.0,205.6 L350.0,206.3 L352.0,207.0 L354.0,207.8 L356.0,208.6 L358.0,209.4 L360.0,210.3 L362.0,211.2 L364.0,212.1 L366.0,213.1 L368.0,214.1 L370.0,215.1 L372.0,216.1 L374.0,217.1 L376.0,218.2 L378.0,219.2 L380.0,220.3 L382.0,221.4 L384.0,222.4 L386.0,223.5 L388.0,224.5 L390.0,225.6 L392.0,226.6 L394.0,227.6 L396.0,228.6 L398.0,229.5 L400.0,230.4 L402.0,231.3 L404.0,232.1 L406.0,232.9 L408.0,233.7 L410.0,234.5 L412.0,235.3 L414.0,236.0 L416.0,236.8 L418.0,237.6 L420.0,238.3 L422.0,239.1 L424.0,239.8 L426.0,240.5 L428.0,241.2 L430.0,241.8 L432.0,242.4 L434.0,243.0 L436.0,243.5 L438.0,244.0 L440.0,244.4 L442.0,244.8 L444.0,245.1 L446.0,245.3 L448.0,245.5 L450.0,245.7 L452.0,245.8 L454.0,245.8 L456.0,245.8 L458.0,245.8 L460.0,245.7 L462.0,245.6 L464.0,245.4 L466.0,245.1 L468.0,244.9 L470.0,244.5 L472.0,244.1 L474.0,243.7 L476.0,243.2 L478.0,242.6 L480.0,242.1 L482.0,241.5 L484.0,241.0 L486.0,240.4 L488.0,239.8 L490.0,239.3 L492.0,238.7 L494.0,238.2 L496.0,237.7 L498.0,237.2 L500.0,236.7 L502.0,236.2 L504.0,235.7 L506.0,235.1 L508.0,234.6 L510.0,234.0 L512.0,233.3 L514.0,232.7 L516.0,231.9 L518.0,231.0 L520.0,230.1 L522.0,229.1 L524.0,228.1 L526.0,226.9 L528.0,225.7 L530.0,224.4 L532.0,223.1 L534.0,221.7 L536.0,220.3 L538.0,218.8 L540.0,217.3 L542.0,215.7 L544.0,214.1 L546.0,212.4 L548.0,210.7 L550.0,209.0 L552.0,207.2 L554.0,205.4 L556.0,203.5 L558.0,201.7 L560.0,199.7 L562.0,197.8 L564.0,195.8 L566.0,193.9 L568.0,191.9 L570.0,189.9 L572.0,187.8 L574.0,185.8 L576.0,183.8 L578.0,181.7 L580.0,179.6 L582.0,177.5 L584.0,175.5 L586.0,173.4 L588.0,171.3 L590.0,169.1 L592.0,167.0 L594.0,164.9 L596.0,162.8 L598.0,160.7 L600.0,158.7 L602.0,156.7 L604.0,154.8 L606.0,152.9 L608.0,151.1 L610.0,149.3 L612.0,147.5 L614.0,145.8 L616.0,144.1 L618.0,142.5 L620.0,140.9 L622.0,139.3 L624.0,137.8 L626.0,136.3 L628.0,134.9 L630.0,133.5 L632.0,132.1 L634.0,130.8 L636.0,129.5 L638.0,128.3 L640.0,127.1 L642.0,125.9 L644.0,124.7 L646.0,123.6 L648.0,122.5 L650.0,121.5 L652.0,120.5 L654.0,119.5 L656.0,118.6 L658.0,117.7 L660.0,116.9 L662.0,116.1 L664.0,115.3 L666.0,114.6 L668.0,113.9 L670.0,113.2 L672.0,112.6 L674.0,112.0 L676.0,111.4 L678.0,110.9 L680.0,110.4 L682.0,109.9 L684.0,109.4 L686.0,108.9 L688.0,108.5 L690.0,108.1 L692.0,107.7 L694.0,107.4 L696.0,107.0 L698.0,106.7 L700.0,106.4 L702.0,106.1 L704.0,105.8 L706.0,105.6 L708.0,105.3 L710.0,105.1 L712.0,104.9 L714.0,104.7 L716.0,104.5 L718.0,104.3 L720.0,104.2 L722.0,104.0 L724.0,103.9 L726.0,103.8 L728.0,103.7 L730.0,103.5 L732.0,103.4 L734.0,103.4 L736.0,103.3 L738.0,103.2 L740.0,103.1 L742.0,103.0 L744.0,103.0 L746.0,102.9 L748.0,102.8 L750.0,102.8 L752.0,102.7 L754.0,102.7 L756.0,102.7 L758.0,102.6 L760.0,102.6 L762.0,102.5 L764.0,102.5 L766.0,102.5 L768.0,102.5 L770.0,102.4 L772.0,102.4 L774.0,102.4 L776.0,102.4 L778.0,102.4 L780.0,102.3 L782.0,102.3 L784.0,102.3 L786.0,102.3 L788.0,102.3 L790.0,102.3 L792.0,102.3 L794.0,102.3 L796.0,102.3 L798.0,102.3 L800.0,102.3 L802.0,102.2 L804.0,102.2 L806.0,102.2 L808.0,102.2 L810.0,102.2 L812.0,102.2 L814.0,102.2 L816.0,102.2 L818.0,102.2 L820.0,102.2 L822.0,102.2 L824.0,102.2 L826.0,102.2 L828.0,102.2 L830.0,102.2 L832.0,102.2 L834.0,102.2 L836.0,102.2 L838.0,102.2 L840.0,102.2 L842.0,102.2 L844.0,102.2 L846.0,102.2 L848.0,102.2 L850.0,102.2 L852.0,102.2 L854.0,102.2 L856.0,102.2 L858.0,102.2 L860.0,102.2 L862.0,102.2 L864.0,102.2 L866.0,102.2 L868.0,102.2 L870.0,102.2 L872.0,102.2" stroke="#86A44A"/>
<path d="M240.0,194.7 L242.0,194.4 L244.0,194.2 L246.0,193.9 L248.0,193.7 L250.0,193.5 L252.0,193.2 L254.0,193.0 L256.0,192.9 L258.0,192.7 L260.0,192.5 L262.0,192.4 L264.0,192.3 L266.0,192.2 L268.0,192.1 L270.0,192.1 L272.0,192.0 L274.0,192.0 L276.0,192.0 L278.0,192.1 L280.0,192.1 L282.0,192.1 L284.0,192.2 L286.0,192.3 L288.0,192.4 L290.0,192.5 L292.0,192.6 L294.0,192.7 L296.0,192.8 L298.0,193.0 L300.0,193.1 L302.0,193.3 L304.0,193.5 L306.0,193.6 L308.0,193.8 L310.0,194.0 L312.0,194.2 L314.0,194.4 L316.0,194.6 L318.0,194.9 L320.0,195.1 L322.0,195.5 L324.0,195.8 L326.0,196.2 L328.0,196.7 L330.0,197.2 L332.0,197.7 L334.0,198.2 L336.0,198.8 L338.0,199.4 L340.0,200.1 L342.0,200.7 L344.0,201.5 L346.0,202.2 L348.0,203.0 L350.0,203.8 L352.0,204.7 L354.0,205.7 L356.0,206.6 L358.0,207.7 L360.0,208.8 L362.0,209.9 L364.0,211.1 L366.0,212.3 L368.0,213.5 L370.0,214.8 L372.0,216.1 L374.0,217.5 L376.0,218.8 L378.0,220.2 L380.0,221.6 L382.0,223.0 L384.0,224.4 L386.0,225.8 L388.0,227.2 L390.0,228.6 L392.0,230.0 L394.0,231.3 L396.0,232.7 L398.0,234.0 L400.0,235.2 L402.0,236.5 L404.0,237.7 L406.0,238.8 L408.0,240.0 L410.0,241.1 L412.0,242.2 L414.0,243.3 L416.0,244.4 L418.0,245.5 L420.0,246.6 L422.0,247.6 L424.0,248.6 L426.0,249.6 L428.0,250.6 L430.0,251.5 L432.0,252.3 L434.0,253.1 L436.0,253.9 L438.0,254.6 L440.0,255.2 L442.0,255.8 L444.0,256.3 L446.0,256.7 L448.0,257.1 L450.0,257.4 L452.0,257.6 L454.0,257.8 L456.0,258.0 L458.0,258.1 L460.0,258.1 L462.0,258.0 L464.0,258.0 L466.0,257.8 L468.0,257.6 L470.0,257.3 L472.0,257.0 L474.0,256.6 L476.0,256.2 L478.0,255.7 L480.0,255.2 L482.0,254.7 L484.0,254.1 L486.0,253.6 L488.0,253.0 L490.0,252.5 L492.0,252.0 L494.0,251.4 L496.0,250.9 L498.0,250.4 L500.0,249.9 L502.0,249.4 L504.0,248.9 L506.0,248.4 L508.0,247.8 L510.0,247.3 L512.0,246.8 L514.0,246.2 L516.0,245.6 L518.0,244.9 L520.0,244.2 L522.0,243.4 L524.0,242.5 L526.0,241.6 L528.0,240.5 L530.0,239.4 L532.0,238.3 L534.0,237.0 L536.0,235.7 L538.0,234.3 L540.0,232.9 L542.0,231.3 L544.0,229.7 L546.0,228.0 L548.0,226.3 L550.0,224.5 L552.0,222.6 L554.0,220.6 L556.0,218.6 L558.0,216.6 L560.0,214.5 L562.0,212.4 L564.0,210.2 L566.0,208.0 L568.0,205.8 L570.0,203.5 L572.0,201.2 L574.0,198.9 L576.0,196.6 L578.0,194.2 L580.0,191.9 L582.0,189.5 L584.0,187.1 L586.0,184.7 L588.0,182.3 L590.0,179.8 L592.0,177.4 L594.0,174.9 L596.0,172.5 L598.0,170.1 L600.0,167.8 L602.0,165.4 L604.0,163.2 L606.0,161.0 L608.0,158.8 L610.0,156.7 L612.0,154.7 L614.0,152.6 L616.0,150.7 L618.0,148.7 L620.0,146.8 L622.0,145.0 L624.0,143.2 L626.0,141.4 L628.0,139.7 L630.0,138.1 L632.0,136.5 L634.0,134.9 L636.0,133.4 L638.0,131.9 L640.0,130.5 L642.0,129.1 L644.0,127.7 L646.0,126.4 L648.0,125.2 L650.0,124.0 L652.0,122.8 L654.0,121.7 L656.0,120.6 L658.0,119.6 L660.0,118.6 L662.0,117.6 L664.0,116.7 L666.0,115.9 L668.0,115.1 L670.0,114.3 L672.0,113.6 L674.0,112.9 L676.0,112.3 L678.0,111.6 L680.0,111.0 L682.0,110.5 L684.0,109.9 L686.0,109.4 L688.0,108.9 L690.0,108.5 L692.0,108.1 L694.0,107.7 L696.0,107.3 L698.0,106.9 L700.0,106.6 L702.0,106.2 L704.0,105.9 L706.0,105.7 L708.0,105.4 L710.0,105.2 L712.0,104.9 L714.0,104.7 L716.0,104.5 L718.0,104.3 L720.0,104.2 L722.0,104.0 L724.0,103.9 L726.0,103.8 L728.0,103.6 L730.0,103.5 L732.0,103.4 L734.0,103.3 L736.0,103.2 L738.0,103.1 L740.0,103.1 L742.0,103.0 L744.0,102.9 L746.0,102.9 L748.0,102.8 L750.0,102.7 L752.0,102.7 L754.0,102.7 L756.0,102.6 L758.0,102.6 L760.0,102.5 L762.0,102.5 L764.0,102.5 L766.0,102.5 L768.0,102.4 L770.0,102.4 L772.0,102.4 L774.0,102.4 L776.0,102.4 L778.0,102.3 L780.0,102.3 L782.0,102.3 L784.0,102.3 L786.0,102.3 L788.0,102.3 L790.0,102.3 L792.0,102.3 L794.0,102.3 L796.0,102.3 L798.0,102.2 L800.0,102.2 L802.0,102.2 L804.0,102.2 L806.0,102.2 L808.0,102.2 L810.0,102.2 L812.0,102.2 L814.0,102.2 L816.0,102.2 L818.0,102.2 L820.0,102.2 L822.0,102.2 L824.0,102.2 L826.0,102.2 L828.0,102.2 L830.0,102.2 L832.0,102.2 L834.0,102.2 L836.0,102.2 L838.0,102.2 L840.0,102.2 L842.0,102.2 L844.0,102.2 L846.0,102.2 L848.0,102.2 L850.0,102.2 L852.0,102.2 L854.0,102.2 L856.0,102.2 L858.0,102.2 L860.0,102.2 L862.0,102.2 L864.0,102.2 L866.0,102.2 L868.0,102.2 L870.0,102.2 L872.0,102.2" stroke="#6E548D"/>
<path d="M240.0,195.3 L242.0,195.1 L244.0,194.9 L246.0,194.7 L248.0,194.5 L250.0,194.3 L252.0,194.2 L254.0,194.0 L256.0,193.9 L258.0,193.8 L260.0,193.7 L262.0,193.7 L264.0,193.6 L266.0,193.6 L268.0,193.6 L270.0,193.7 L272.0,193.7 L274.0,193.8 L276.0,193.9 L278.0,194.0 L280.0,194.1 L282.0,194.3 L284.0,194.4 L286.0,194.6 L288.0,194.8 L290.0,195.0 L292.0,195.2 L294.0,195.5 L296.0,195.7 L298.0,195.9 L300.0,196.2 L302.0,196.4 L304.0,196.7 L306.0,196.9 L308.0,197.2 L310.0,197.4 L312.0,197.7 L314.0,198.0 L316.0,198.3 L318.0,198.6 L320.0,198.9 L322.0,199.3 L324.0,199.7 L326.0,200.1 L328.0,200.6 L330.0,201.1 L332.0,201.6 L334.0,202.2 L336.0,202.8 L338.0,203.4 L340.0,204.0 L342.0,204.7 L344.0,205.4 L346.0,206.1 L348.0,206.9 L350.0,207.7 L352.0,208.5 L354.0,209.5 L356.0,210.4 L358.0,211.4 L360.0,212.5 L362.0,213.6 L364.0,214.7 L366.0,216.0 L368.0,217.2 L370.0,218.5 L372.0,219.8 L374.0,221.2 L376.0,222.6 L378.0,224.1 L380.0,225.5 L382.0,227.0 L384.0,228.6 L386.0,230.1 L388.0,231.7 L390.0,233.2 L392.0,234.8 L394.0,236.4 L396.0,238.0 L398.0,239.5 L400.0,241.1 L402.0,242.6 L404.0,244.2 L406.0,245.7 L408.0,247.3 L410.0,248.8 L412.0,250.4 L414.0,251.9 L416.0,253.5 L418.0,255.1 L420.0,256.7 L422.0,258.3 L424.0,259.9 L426.0,261.5 L428.0,263.1 L430.0,264.6 L432.0,266.1 L434.0,267.5 L436.0,269.0 L438.0,270.3 L440.0,271.6 L442.0,272.9 L444.0,274.0 L446.0,275.1 L448.0,276.2 L450.0,277.2 L452.0,278.1 L454.0,278.9 L456.0,279.7 L458.0,280.4 L460.0,281.0 L462.0,281.6 L464.0,282.1 L466.0,282.5 L468.0,282.8 L470.0,283.0 L472.0,283.2 L474.0,283.3 L476.0,283.2 L478.0,283.2 L480.0,283.0 L482.0,282.8 L484.0,282.6 L486.0,282.3 L488.0,282.0 L490.0,281.7 L492.0,281.3 L494.0,280.9 L496.0,280.5 L498.0,280.0 L500.0,279.5 L502.0,279.0 L504.0,278.3 L506.0,277.7 L508.0,276.9 L510.0,276.0 L512.0,275.1 L514.0,274.0 L516.0,272.8 L518.0,271.5 L520.0,270.1 L522.0,268.6 L524.0,267.0 L526.0,265.4 L528.0,263.7 L530.0,261.9 L532.0,260.0 L534.0,258.1 L536.0,256.2 L538.0,254.2 L540.0,252.2 L542.0,250.1 L544.0,248.0 L546.0,245.9 L548.0,243.7 L550.0,241.4 L552.0,239.2 L554.0,236.8 L556.0,234.5 L558.0,232.1 L560.0,229.7 L562.0,227.2 L564.0,224.8 L566.0,222.3 L568.0,219.8 L570.0,217.3 L572.0,214.7 L574.0,212.2 L576.0,209.7 L578.0,207.1 L580.0,204.5 L582.0,202.0 L584.0,199.4 L586.0,196.8 L588.0,194.2 L590.0,191.6 L592.0,188.9 L594.0,186.4 L596.0,183.8 L598.0,181.2 L600.0,178.7 L602.0,176.3 L604.0,173.8 L606.0,171.5 L608.0,169.2 L610.0,167.0 L612.0,164.8 L614.0,162.6 L616.0,160.5 L618.0,158.4 L620.0,156.4 L622.0,154.4 L624.0,152.5 L626.0,150.6 L628.0,148.7 L630.0,146.9 L632.0,145.1 L634.0,143.4 L636.0,141.8 L638.0,140.1 L640.0,138.5 L642.0,137.0 L644.0,135.5 L646.0,134.0 L648.0,132.6 L650.0,131.2 L652.0,129.9 L654.0,128.6 L656.0,127.3 L658.0,126.1 L660.0,124.9 L662.0,123.8 L664.0,122.8 L666.0,121.7 L668.0,120.8 L670.0,119.8 L672.0,118.9 L674.0,118.1 L676.0,117.3 L678.0,116.5 L680.0,115.7 L682.0,115.0 L684.0,114.3 L686.0,113.6 L688.0,113.0 L690.0,112.4 L692.0,111.8 L694.0,111.2 L696.0,110.7 L698.0,110.2 L700.0,109.7 L702.0,109.3 L704.0,108.8 L706.0,108.4 L708.0,108.1 L710.0,107.7 L712.0,107.3 L714.0,107.0 L716.0,106.7 L718.0,106.4 L720.0,106.2 L722.0,105.9 L724.0,105.7 L726.0,105.4 L728.0,105.2 L730.0,105.0 L732.0,104.8 L734.0,104.7 L736.0,104.5 L738.0,104.3 L740.0,104.2 L742.0,104.0 L744.0,103.9 L746.0,103.8 L748.0,103.7 L750.0,103.6 L752.0,103.5 L754.0,103.4 L756.0,103.3 L758.0,103.2 L760.0,103.1 L762.0,103.1 L764.0,103.0 L766.0,102.9 L768.0,102.9 L770.0,102.8 L772.0,102.8 L774.0,102.7 L776.0,102.7 L778.0,102.7 L780.0,102.6 L782.0,102.6 L784.0,102.6 L786.0,102.5 L788.0,102.5 L790.0,102.5 L792.0,102.4 L794.0,102.4 L796.0,102.4 L798.0,102.4 L800.0,102.4 L802.0,102.4 L804.0,102.3 L806.0,102.3 L808.0,102.3 L810.0,102.3 L812.0,102.3 L814.0,102.3 L816.0,102.3 L818.0,102.3 L820.0,102.3 L822.0,102.3 L824.0,102.3 L826.0,102.3 L828.0,102.2 L830.0,102.2 L832.0,102.2 L834.0,102.2 L836.0,102.2 L838.0,102.2 L840.0,102.2 L842.0,102.2 L844.0,102.2 L846.0,102.2 L848.0,102.2 L850.0,102.2 L852.0,102.2 L854.0,102.2 L856.0,102.2 L858.0,102.2 L860.0,102.2 L862.0,102.2 L864.0,102.2 L866.0,102.2 L868.0,102.2 L870.0,102.2 L872.0,102.2" stroke="#3D96AE"/>
<path d="M240.0,197.4 L242.0,197.2 L244.0,197.0 L246.0,196.8 L248.0,196.7 L250.0,196.5 L252.0,196.4 L254.0,196.3 L256.0,196.2 L258.0,196.2 L260.0,196.1 L262.0,196.1 L264.0,196.1 L266.0,196.1 L268.0,196.2 L270.0,196.3 L272.0,196.4 L274.0,196.5 L276.0,196.6 L278.0,196.8 L280.0,197.0 L282.0,197.2 L284.0,197.4 L286.0,197.6 L288.0,197.8 L290.0,198.1 L292.0,198.4 L294.0,198.6 L296.0,198.9 L298.0,199.2 L300.0,199.5 L302.0,199.8 L304.0,200.1 L306.0,200.4 L308.0,200.7 L310.0,201.0 L312.0,201.3 L314.0,201.6 L316.0,201.9 L318.0,202.3 L320.0,202.6 L322.0,203.0 L324.0,203.5 L326.0,203.9 L328.0,204.4 L330.0,204.9 L332.0,205.5 L334.0,206.0 L336.0,206.6 L338.0,207.2 L340.0,207.9 L342.0,208.5 L344.0,209.2 L346.0,209.9 L348.0,210.7 L350.0,211.5 L352.0,212.3 L354.0,213.2 L356.0,214.2 L358.0,215.1 L360.0,216.2 L362.0,217.3 L364.0,218.4 L366.0,219.6 L368.0,220.8 L370.0,222.0 L372.0,223.3 L374.0,224.7 L376.0,226.1 L378.0,227.5 L380.0,228.9 L382.0,230.4 L384.0,231.9 L386.0,233.4 L388.0,234.9 L390.0,236.5 L392.0,238.0 L394.0,239.6 L396.0,241.2 L398.0,242.8 L400.0,244.3 L402.0,245.9 L404.0,247.5 L406.0,249.1 L408.0,250.7 L410.0,252.3 L412.0,253.9 L414.0,255.6 L416.0,257.2 L418.0,258.9 L420.0,260.7 L422.0,262.4 L424.0,264.1 L426.0,265.9 L428.0,267.6 L430.0,269.3 L432.0,271.0 L434.0,272.7 L436.0,274.4 L438.0,276.0 L440.0,277.6 L442.0,279.1 L444.0,280.5 L446.0,282.0 L448.0,283.3 L450.0,284.6 L452.0,285.9 L454.0,287.1 L456.0,288.3 L458.0,289.3 L460.0,290.4 L462.0,291.3 L464.0,292.2 L466.0,293.1 L468.0,293.8 L470.0,294.5 L472.0,295.1 L474.0,295.6 L476.0,296.0 L478.0,296.3 L480.0,296.6 L482.0,296.9 L484.0,297.0 L486.0,297.2 L488.0,297.2 L490.0,297.3 L492.0,297.3 L494.0,297.3 L496.0,297.2 L498.0,297.1 L500.0,296.9 L502.0,296.7 L504.0,296.4 L506.0,296.0 L508.0,295.6 L510.0,295.0 L512.0,294.4 L514.0,293.7 L516.0,292.9 L518.0,292.0 L520.0,290.9 L522.0,289.7 L524.0,288.4 L526.0,287.0 L528.0,285.5 L530.0,283.9 L532.0,282.2 L534.0,280.4 L536.0,278.6 L538.0,276.6 L540.0,274.6 L542.0,272.5 L544.0,270.3 L546.0,268.1 L548.0,265.7 L550.0,263.3 L552.0,260.9 L554.0,258.4 L556.0,255.8 L558.0,253.1 L560.0,250.4 L562.0,247.7 L564.0,244.9 L566.0,242.1 L568.0,239.2 L570.0,236.3 L572.0,233.4 L574.0,230.5 L576.0,227.5 L578.0,224.5 L580.0,221.5 L582.0,218.5 L584.0,215.5 L586.0,212.4 L588.0,209.4 L590.0,206.3 L592.0,203.2 L594.0,200.2 L596.0,197.1 L598.0,194.1 L600.0,191.1 L602.0,188.2 L604.0,185.3 L606.0,182.5 L608.0,179.8 L610.0,177.1 L612.0,174.4 L614.0,171.8 L616.0,169.3 L618.0,166.8 L620.0,164.3 L622.0,161.9 L624.0,159.6 L626.0,157.3 L628.0,155.1 L630.0,152.9 L632.0,150.8 L634.0,148.7 L636.0,146.7 L638.0,144.8 L640.0,142.9 L642.0,141.0 L644.0,139.2 L646.0,137.5 L648.0,135.8 L650.0,134.2 L652.0,132.6 L654.0,131.1 L656.0,129.6 L658.0,128.2 L660.0,126.9 L662.0,125.6 L664.0,124.3 L666.0,123.2 L668.0,122.0 L670.0,120.9 L672.0,119.9 L674.0,118.9 L676.0,118.0 L678.0,117.1 L680.0,116.2 L682.0,115.4 L684.0,114.6 L686.0,113.9 L688.0,113.2 L690.0,112.5 L692.0,111.9 L694.0,111.3 L696.0,110.7 L698.0,110.1 L700.0,109.6 L702.0,109.1 L704.0,108.7 L706.0,108.2 L708.0,107.8 L710.0,107.4 L712.0,107.1 L714.0,106.7 L716.0,106.4 L718.0,106.1 L720.0,105.9 L722.0,105.6 L724.0,105.4 L726.0,105.1 L728.0,104.9 L730.0,104.7 L732.0,104.5 L734.0,104.4 L736.0,104.2 L738.0,104.0 L740.0,103.9 L742.0,103.8 L744.0,103.6 L746.0,103.5 L748.0,103.4 L750.0,103.3 L752.0,103.2 L754.0,103.2 L756.0,103.1 L758.0,103.0 L760.0,102.9 L762.0,102.9 L764.0,102.8 L766.0,102.8 L768.0,102.7 L770.0,102.7 L772.0,102.6 L774.0,102.6 L776.0,102.6 L778.0,102.5 L780.0,102.5 L782.0,102.5 L784.0,102.4 L786.0,102.4 L788.0,102.4 L790.0,102.4 L792.0,102.4 L794.0,102.4 L796.0,102.3 L798.0,102.3 L800.0,102.3 L802.0,102.3 L804.0,102.3 L806.0,102.3 L808.0,102.3 L810.0,102.3 L812.0,102.3 L814.0,102.3 L816.0,102.2 L818.0,102.2 L820.0,102.2 L822.0,102.2 L824.0,102.2 L826.0,102.2 L828.0,102.2 L830.0,102.2 L832.0,102.2 L834.0,102.2 L836.0,102.2 L838.0,102.2 L840.0,102.2 L842.0,102.2 L844.0,102.2 L846.0,102.2 L848.0,102.2 L850.0,102.2 L852.0,102.2 L854.0,102.2 L856.0,102.2 L858.0,102.2 L860.0,102.2 L862.0,102.2 L864.0,102.2 L866.0,102.2 L868.0,102.2 L870.0,102.2 L872.0,102.2" stroke="#DA8137"/>
<path d="M240.0,198.6 L242.0,198.5 L244.0,198.4 L246.0,198.3 L248.0,198.3 L250.0,198.3 L252.0,198.3 L254.0,198.3 L256.0,198.3 L258.0,198.4 L260.0,198.5 L262.0,198.6 L264.0,198.7 L266.0,198.9 L268.0,199.0 L270.0,199.2 L272.0,199.5 L274.0,199.7 L276.0,200.0 L278.0,200.3 L280.0,200.6 L282.0,200.9 L284.0,201.2 L286.0,201.6 L288.0,201.9 L290.0,202.3 L292.0,202.7 L294.0,203.1 L296.0,203.4 L298.0,203.8 L300.0,204.2 L302.0,204.6 L304.0,205.0 L306.0,205.4 L308.0,205.8 L310.0,206.1 L312.0,206.5 L314.0,206.9 L316.0,207.3 L318.0,207.7 L320.0,208.1 L322.0,208.6 L324.0,209.0 L326.0,209.5 L328.0,210.0 L330.0,210.6 L332.0,211.1 L334.0,211.7 L336.0,212.3 L338.0,212.9 L340.0,213.5 L342.0,214.2 L344.0,214.8 L346.0,215.5 L348.0,216.2 L350.0,217.0 L352.0,217.8 L354.0,218.6 L356.0,219.5 L358.0,220.4 L360.0,221.3 L362.0,222.3 L364.0,223.4 L366.0,224.5 L368.0,225.6 L370.0,226.8 L372.0,228.0 L374.0,229.2 L376.0,230.5 L378.0,231.8 L380.0,233.2 L382.0,234.6 L384.0,236.0 L386.0,237.4 L388.0,238.8 L390.0,240.3 L392.0,241.8 L394.0,243.3 L396.0,244.8 L398.0,246.3 L400.0,247.8 L402.0,249.3 L404.0,250.9 L406.0,252.4 L408.0,254.0 L410.0,255.6 L412.0,257.2 L414.0,258.8 L416.0,260.5 L418.0,262.2 L420.0,264.0 L422.0,265.8 L424.0,267.6 L426.0,269.4 L428.0,271.2 L430.0,273.0 L432.0,274.9 L434.0,276.7 L436.0,278.5 L438.0,280.2 L440.0,282.0 L442.0,283.7 L444.0,285.3 L446.0,286.9 L448.0,288.5 L450.0,290.1 L452.0,291.6 L454.0,293.1 L456.0,294.5 L458.0,295.8 L460.0,297.2 L462.0,298.4 L464.0,299.6 L466.0,300.8 L468.0,301.9 L470.0,302.9 L472.0,303.8 L474.0,304.6 L476.0,305.4 L478.0,306.1 L480.0,306.7 L482.0,307.2 L484.0,307.7 L486.0,308.2 L488.0,308.6 L490.0,308.9 L492.0,309.2 L494.0,309.5 L496.0,309.6 L498.0,309.7 L500.0,309.8 L502.0,309.7 L504.0,309.6 L506.0,309.4 L508.0,309.0 L510.0,308.6 L512.0,308.1 L514.0,307.5 L516.0,306.7 L518.0,305.9 L520.0,304.9 L522.0,303.8 L524.0,302.6 L526.0,301.3 L528.0,299.9 L530.0,298.3 L532.0,296.7 L534.0,295.0 L536.0,293.2 L538.0,291.3 L540.0,289.3 L542.0,287.3 L544.0,285.1 L546.0,282.8 L548.0,280.5 L550.0,278.0 L552.0,275.5 L554.0,272.9 L556.0,270.3 L558.0,267.5 L560.0,264.7 L562.0,261.9 L564.0,259.0 L566.0,256.0 L568.0,253.0 L570.0,249.9 L572.0,246.8 L574.0,243.7 L576.0,240.6 L578.0,237.4 L580.0,234.1 L582.0,230.9 L584.0,227.6 L586.0,224.4 L588.0,221.0 L590.0,217.7 L592.0,214.4 L594.0,211.0 L596.0,207.7 L598.0,204.4 L600.0,201.2 L602.0,198.0 L604.0,194.8 L606.0,191.8 L608.0,188.7 L610.0,185.8 L612.0,182.8 L614.0,180.0 L616.0,177.2 L618.0,174.4 L620.0,171.7 L622.0,169.0 L624.0,166.4 L626.0,163.9 L628.0,161.4 L630.0,158.9 L632.0,156.6 L634.0,154.3 L636.0,152.0 L638.0,149.9 L640.0,147.7 L642.0,145.7 L644.0,143.6 L646.0,141.7 L648.0,139.8 L650.0,138.0 L652.0,136.2 L654.0,134.5 L656.0,132.9 L658.0,131.3 L660.0,129.8 L662.0,128.3 L664.0,126.9 L666.0,125.6 L668.0,124.3 L670.0,123.1 L672.0,122.0 L674.0,120.8 L676.0,119.8 L678.0,118.8 L680.0,117.8 L682.0,116.9 L684.0,116.0 L686.0,115.2 L688.0,114.4 L690.0,113.6 L692.0,112.9 L694.0,112.2 L696.0,111.6 L698.0,111.0 L700.0,110.4 L702.0,109.8 L704.0,109.3 L706.0,108.8 L708.0,108.4 L710.0,107.9 L712.0,107.5 L714.0,107.2 L716.0,106.8 L718.0,106.5 L720.0,106.2 L722.0,105.9 L724.0,105.6 L726.0,105.4 L728.0,105.1 L730.0,104.9 L732.0,104.7 L734.0,104.5 L736.0,104.3 L738.0,104.2 L740.0,104.0 L742.0,103.9 L744.0,103.7 L746.0,103.6 L748.0,103.5 L750.0,103.4 L752.0,103.3 L754.0,103.2 L756.0,103.1 L758.0,103.0 L760.0,103.0 L762.0,102.9 L764.0,102.8 L766.0,102.8 L768.0,102.7 L770.0,102.7 L772.0,102.6 L774.0,102.6 L776.0,102.6 L778.0,102.5 L780.0,102.5 L782.0,102.5 L784.0,102.5 L786.0,102.4 L788.0,102.4 L790.0,102.4 L792.0,102.4 L794.0,102.4 L796.0,102.3 L798.0,102.3 L800.0,102.3 L802.0,102.3 L804.0,102.3 L806.0,102.3 L808.0,102.3 L810.0,102.3 L812.0,102.3 L814.0,102.3 L816.0,102.2 L818.0,102.2 L820.0,102.2 L822.0,102.2 L824.0,102.2 L826.0,102.2 L828.0,102.2 L830.0,102.2 L832.0,102.2 L834.0,102.2 L836.0,102.2 L838.0,102.2 L840.0,102.2 L842.0,102.2 L844.0,102.2 L846.0,102.2 L848.0,102.2 L850.0,102.2 L852.0,102.2 L854.0,102.2 L856.0,102.2 L858.0,102.2 L860.0,102.2 L862.0,102.2 L864.0,102.2 L866.0,102.2 L868.0,102.2 L870.0,102.2 L872.0,102.2" stroke="#4A7EBB"/>
<path d="M240.0,199.2 L242.0,199.1 L244.0,199.0 L246.0,199.0 L248.0,199.0 L250.0,199.0 L252.0,199.1 L254.0,199.1 L256.0,199.2 L258.0,199.3 L260.0,199.4 L262.0,199.6 L264.0,199.8 L266.0,200.0 L268.0,200.2 L270.0,200.5 L272.0,200.8 L274.0,201.1 L276.0,201.4 L278.0,201.7 L280.0,202.1 L282.0,202.5 L284.0,202.9 L286.0,203.3 L288.0,203.7 L290.0,204.2 L292.0,204.6 L294.0,205.1 L296.0,205.6 L298.0,206.1 L300.0,206.5 L302.0,207.0 L304.0,207.5 L306.0,208.0 L308.0,208.4 L310.0,208.9 L312.0,209.4 L314.0,209.9 L316.0,210.4 L318.0,210.9 L320.0,211.4 L322.0,212.0 L324.0,212.5 L326.0,213.1 L328.0,213.8 L330.0,214.4 L332.0,215.1 L334.0,215.8 L336.0,216.5 L338.0,217.2 L340.0,218.0 L342.0,218.7 L344.0,219.5 L346.0,220.3 L348.0,221.2 L350.0,222.1 L352.0,223.0 L354.0,223.9 L356.0,224.9 L358.0,226.0 L360.0,227.1 L362.0,228.2 L364.0,229.4 L366.0,230.6 L368.0,231.9 L370.0,233.2 L372.0,234.5 L374.0,235.9 L376.0,237.3 L378.0,238.7 L380.0,240.2 L382.0,241.7 L384.0,243.2 L386.0,244.7 L388.0,246.3 L390.0,247.9 L392.0,249.5 L394.0,251.1 L396.0,252.7 L398.0,254.3 L400.0,255.9 L402.0,257.6 L404.0,259.2 L406.0,260.8 L408.0,262.5 L410.0,264.2 L412.0,265.9 L414.0,267.7 L416.0,269.4 L418.0,271.3 L420.0,273.1 L422.0,275.0 L424.0,276.9 L426.0,278.8 L428.0,280.7 L430.0,282.6 L432.0,284.5 L434.0,286.3 L436.0,288.2 L438.0,290.0 L440.0,291.9 L442.0,293.6 L444.0,295.4 L446.0,297.1 L448.0,298.7 L450.0,300.3 L452.0,301.9 L454.0,303.5 L456.0,305.0 L458.0,306.4 L460.0,307.8 L462.0,309.1 L464.0,310.4 L466.0,311.6 L468.0,312.8 L470.0,313.8 L472.0,314.8 L474.0,315.7 L476.0,316.6 L478.0,317.3 L480.0,318.1 L482.0,318.7 L484.0,319.3 L486.0,319.8 L488.0,320.3 L490.0,320.7 L492.0,321.1 L494.0,321.4 L496.0,321.7 L498.0,321.9 L500.0,322.0 L502.0,322.1 L504.0,322.0 L506.0,321.9 L508.0,321.7 L510.0,321.4 L512.0,321.0 L514.0,320.5 L516.0,319.9 L518.0,319.1 L520.0,318.3 L522.0,317.3 L524.0,316.3 L526.0,315.1 L528.0,313.8 L530.0,312.4 L532.0,310.9 L534.0,309.3 L536.0,307.6 L538.0,305.8 L540.0,303.9 L542.0,301.9 L544.0,299.8 L546.0,297.6 L548.0,295.3 L550.0,292.9 L552.0,290.4 L554.0,287.8 L556.0,285.1 L558.0,282.3 L560.0,279.5 L562.0,276.5 L564.0,273.6 L566.0,270.5 L568.0,267.4 L570.0,264.3 L572.0,261.1 L574.0,257.8 L576.0,254.5 L578.0,251.2 L580.0,247.8 L582.0,244.4 L584.0,241.0 L586.0,237.5 L588.0,234.0 L590.0,230.5 L592.0,227.0 L594.0,223.4 L596.0,219.9 L598.0,216.4 L600.0,212.9 L602.0,209.5 L604.0,206.1 L606.0,202.8 L608.0,199.6 L610.0,196.4 L612.0,193.2 L614.0,190.1 L616.0,187.0 L618.0,184.0 L620.0,181.0 L622.0,178.1 L624.0,175.2 L626.0,172.4 L628.0,169.7 L630.0,167.0 L632.0,164.4 L634.0,161.9 L636.0,159.4 L638.0,157.0 L640.0,154.6 L642.0,152.3 L644.0,150.1 L646.0,147.9 L648.0,145.8 L650.0,143.7 L652.0,141.7 L654.0,139.8 L656.0,138.0 L658.0,136.2 L660.0,134.4 L662.0,132.8 L664.0,131.2 L666.0,129.7 L668.0,128.2 L670.0,126.9 L672.0,125.5 L674.0,124.3 L676.0,123.0 L678.0,121.9 L680.0,120.8 L682.0,119.7 L684.0,118.7 L686.0,117.7 L688.0,116.8 L690.0,115.9 L692.0,115.0 L694.0,114.3 L696.0,113.5 L698.0,112.8 L700.0,112.1 L702.0,111.5 L704.0,110.8 L706.0,110.3 L708.0,109.7 L710.0,109.2 L712.0,108.7 L714.0,108.3 L716.0,107.9 L718.0,107.5 L720.0,107.1 L722.0,106.8 L724.0,106.4 L726.0,106.1 L728.0,105.8 L730.0,105.6 L732.0,105.3 L734.0,105.1 L736.0,104.9 L738.0,104.7 L740.0,104.5 L742.0,104.3 L744.0,104.1 L746.0,104.0 L748.0,103.8 L750.0,103.7 L752.0,103.6 L754.0,103.5 L756.0,103.4 L758.0,103.3 L760.0,103.2 L762.0,103.1 L764.0,103.0 L766.0,103.0 L768.0,102.9 L770.0,102.8 L772.0,102.8 L774.0,102.7 L776.0,102.7 L778.0,102.6 L780.0,102.6 L782.0,102.6 L784.0,102.5 L786.0,102.5 L788.0,102.5 L790.0,102.4 L792.0,102.4 L794.0,102.4 L796.0,102.4 L798.0,102.4 L800.0,102.3 L802.0,102.3 L804.0,102.3 L806.0,102.3 L808.0,102.3 L810.0,102.3 L812.0,102.3 L814.0,102.3 L816.0,102.3 L818.0,102.3 L820.0,102.3 L822.0,102.2 L824.0,102.2 L826.0,102.2 L828.0,102.2 L830.0,102.2 L832.0,102.2 L834.0,102.2 L836.0,102.2 L838.0,102.2 L840.0,102.2 L842.0,102.2 L844.0,102.2 L846.0,102.2 L848.0,102.2 L850.0,102.2 L852.0,102.2 L854.0,102.2 L856.0,102.2 L858.0,102.2 L860.0,102.2 L862.0,102.2 L864.0,102.2 L866.0,102.2 L868.0,102.2 L870.0,102.2 L872.0,102.2" stroke="#BE4B48"/>
<path d="M240.0,201.0 L242.0,200.9 L244.0,200.8 L246.0,200.8 L248.0,200.8 L250.0,200.8 L252.0,200.8 L254.0,200.8 L256.0,200.9 L258.0,201.0 L260.0,201.1 L262.0,201.3 L264.0,201.4 L266.0,201.6 L268.0,201.8 L270.0,202.1 L272.0,202.3 L274.0,202.6 L276.0,203.0 L278.0,203.3 L280.0,203.6 L282.0,204.0 L284.0,204.4 L286.0,204.8 L288.0,205.2 L290.0,205.6 L292.0,206.1 L294.0,206.5 L296.0,207.0 L298.0,207.4 L300.0,207.9 L302.0,208.4 L304.0,208.9 L306.0,209.3 L308.0,209.8 L310.0,210.2 L312.0,210.7 L314.0,211.2 L316.0,211.7 L318.0,212.2 L320.0,212.7 L322.0,213.3 L324.0,213.8 L326.0,214.4 L328.0,215.1 L330.0,215.7 L332.0,216.4 L334.0,217.1 L336.0,217.9 L338.0,218.6 L340.0,219.4 L342.0,220.2 L344.0,221.0 L346.0,221.8 L348.0,222.7 L350.0,223.6 L352.0,224.6 L354.0,225.6 L356.0,226.7 L358.0,227.8 L360.0,228.9 L362.0,230.1 L364.0,231.4 L366.0,232.7 L368.0,234.0 L370.0,235.4 L372.0,236.8 L374.0,238.3 L376.0,239.8 L378.0,241.3 L380.0,242.9 L382.0,244.5 L384.0,246.2 L386.0,247.8 L388.0,249.5 L390.0,251.3 L392.0,253.0 L394.0,254.8 L396.0,256.6 L398.0,258.4 L400.0,260.2 L402.0,262.0 L404.0,263.8 L406.0,265.6 L408.0,267.5 L410.0,269.4 L412.0,271.3 L414.0,273.3 L416.0,275.3 L418.0,277.3 L420.0,279.4 L422.0,281.5 L424.0,283.6 L426.0,285.8 L428.0,287.9 L430.0,290.1 L432.0,292.3 L434.0,294.4 L436.0,296.6 L438.0,298.7 L440.0,300.8 L442.0,302.8 L444.0,304.9 L446.0,306.9 L448.0,308.8 L450.0,310.7 L452.0,312.6 L454.0,314.5 L456.0,316.2 L458.0,318.0 L460.0,319.7 L462.0,321.3 L464.0,322.9 L466.0,324.4 L468.0,325.9 L470.0,327.3 L472.0,328.6 L474.0,329.8 L476.0,330.9 L478.0,332.0 L480.0,333.0 L482.0,333.9 L484.0,334.8 L486.0,335.6 L488.0,336.4 L490.0,337.1 L492.0,337.7 L494.0,338.3 L496.0,338.8 L498.0,339.3 L500.0,339.6 L502.0,339.9 L504.0,340.1 L506.0,340.2 L508.0,340.2 L510.0,340.1 L512.0,339.9 L514.0,339.6 L516.0,339.2 L518.0,338.7 L520.0,338.1 L522.0,337.4 L524.0,336.6 L526.0,335.7 L528.0,334.7 L530.0,333.6 L532.0,332.4 L534.0,331.2 L536.0,329.8 L538.0,328.3 L540.0,326.7 L542.0,324.9 L544.0,323.1 L546.0,321.1 L548.0,319.1 L550.0,316.9 L552.0,314.6 L554.0,312.2 L556.0,309.7 L558.0,307.1 L560.0,304.4 L562.0,301.6 L564.0,298.7 L566.0,295.8 L568.0,292.7 L570.0,289.7 L572.0,286.5 L574.0,283.3 L576.0,280.0 L578.0,276.6 L580.0,273.2 L582.0,269.8 L584.0,266.3 L586.0,262.8 L588.0,259.2 L590.0,255.5 L592.0,251.8 L594.0,248.2 L596.0,244.5 L598.0,240.8 L600.0,237.1 L602.0,233.4 L604.0,229.8 L606.0,226.2 L608.0,222.7 L610.0,219.2 L612.0,215.7 L614.0,212.3 L616.0,208.9 L618.0,205.6 L620.0,202.2 L622.0,199.0 L624.0,195.7 L626.0,192.6 L628.0,189.4 L630.0,186.4 L632.0,183.4 L634.0,180.4 L636.0,177.5 L638.0,174.7 L640.0,171.9 L642.0,169.2 L644.0,166.5 L646.0,163.9 L648.0,161.3 L650.0,158.8 L652.0,156.4 L654.0,154.1 L656.0,151.8 L658.0,149.6 L660.0,147.4 L662.0,145.4 L664.0,143.4 L666.0,141.4 L668.0,139.6 L670.0,137.8 L672.0,136.1 L674.0,134.4 L676.0,132.8 L678.0,131.3 L680.0,129.8 L682.0,128.4 L684.0,127.0 L686.0,125.7 L688.0,124.4 L690.0,123.2 L692.0,122.1 L694.0,120.9 L696.0,119.9 L698.0,118.9 L700.0,117.9 L702.0,117.0 L704.0,116.1 L706.0,115.3 L708.0,114.5 L710.0,113.8 L712.0,113.0 L714.0,112.4 L716.0,111.7 L718.0,111.1 L720.0,110.6 L722.0,110.0 L724.0,109.5 L726.0,109.0 L728.0,108.6 L730.0,108.2 L732.0,107.8 L734.0,107.4 L736.0,107.0 L738.0,106.7 L740.0,106.4 L742.0,106.1 L744.0,105.8 L746.0,105.6 L748.0,105.3 L750.0,105.1 L752.0,104.9 L754.0,104.7 L756.0,104.5 L758.0,104.3 L760.0,104.2 L762.0,104.0 L764.0,103.9 L766.0,103.7 L768.0,103.6 L770.0,103.5 L772.0,103.4 L774.0,103.3 L776.0,103.2 L778.0,103.1 L780.0,103.1 L782.0,103.0 L784.0,102.9 L786.0,102.9 L788.0,102.8 L790.0,102.8 L792.0,102.7 L794.0,102.7 L796.0,102.6 L798.0,102.6 L800.0,102.6 L802.0,102.5 L804.0,102.5 L806.0,102.5 L808.0,102.4 L810.0,102.4 L812.0,102.4 L814.0,102.4 L816.0,102.4 L818.0,102.3 L820.0,102.3 L822.0,102.3 L824.0,102.3 L826.0,102.3 L828.0,102.3 L830.0,102.3 L832.0,102.3 L834.0,102.3 L836.0,102.3 L838.0,102.3 L840.0,102.2 L842.0,102.2 L844.0,102.2 L846.0,102.2 L848.0,102.2 L850.0,102.2 L852.0,102.2 L854.0,102.2 L856.0,102.2 L858.0,102.2 L860.0,102.2 L862.0,102.2 L864.0,102.2 L866.0,102.2 L868.0,102.2 L870.0,102.2 L872.0,102.2" stroke="#98B954"/>
<path d="M240.0,205.2 L242.0,205.1 L244.0,205.1 L246.0,205.1 L248.0,205.1 L250.0,205.1 L252.0,205.1 L254.0,205.2 L256.0,205.3 L258.0,205.4 L260.0,205.5 L262.0,205.7 L264.0,205.9 L266.0,206.1 L268.0,206.3 L270.0,206.6 L272.0,206.8 L274.0,207.1 L276.0,207.5 L278.0,207.8 L280.0,208.2 L282.0,208.5 L284.0,208.9 L286.0,209.3 L288.0,209.7 L290.0,210.1 L292.0,210.6 L294.0,211.0 L296.0,211.4 L298.0,211.9 L300.0,212.3 L302.0,212.8 L304.0,213.2 L306.0,213.6 L308.0,214.1 L310.0,214.5 L312.0,214.9 L314.0,215.4 L316.0,215.8 L318.0,216.3 L320.0,216.8 L322.0,217.3 L324.0,217.8 L326.0,218.4 L328.0,219.0 L330.0,219.6 L332.0,220.3 L334.0,220.9 L336.0,221.6 L338.0,222.3 L340.0,223.0 L342.0,223.8 L344.0,224.6 L346.0,225.4 L348.0,226.2 L350.0,227.1 L352.0,228.1 L354.0,229.0 L356.0,230.1 L358.0,231.2 L360.0,232.3 L362.0,233.5 L364.0,234.7 L366.0,236.1 L368.0,237.4 L370.0,238.8 L372.0,240.3 L374.0,241.8 L376.0,243.3 L378.0,244.9 L380.0,246.6 L382.0,248.2 L384.0,250.0 L386.0,251.7 L388.0,253.5 L390.0,255.3 L392.0,257.2 L394.0,259.1 L396.0,261.0 L398.0,262.9 L400.0,264.9 L402.0,266.8 L404.0,268.8 L406.0,270.8 L408.0,272.8 L410.0,274.9 L412.0,277.0 L414.0,279.2 L416.0,281.4 L418.0,283.7 L420.0,286.0 L422.0,288.3 L424.0,290.7 L426.0,293.1 L428.0,295.5 L430.0,297.9 L432.0,300.3 L434.0,302.7 L436.0,305.1 L438.0,307.4 L440.0,309.8 L442.0,312.1 L444.0,314.3 L446.0,316.6 L448.0,318.8 L450.0,320.9 L452.0,323.0 L454.0,325.1 L456.0,327.1 L458.0,329.1 L460.0,331.0 L462.0,332.8 L464.0,334.6 L466.0,336.3 L468.0,337.9 L470.0,339.4 L472.0,340.9 L474.0,342.2 L476.0,343.5 L478.0,344.6 L480.0,345.7 L482.0,346.7 L484.0,347.7 L486.0,348.6 L488.0,349.4 L490.0,350.1 L492.0,350.8 L494.0,351.4 L496.0,351.9 L498.0,352.3 L500.0,352.6 L502.0,352.9 L504.0,353.0 L506.0,353.1 L508.0,353.1 L510.0,353.0 L512.0,352.7 L514.0,352.4 L516.0,352.0 L518.0,351.5 L520.0,350.9 L522.0,350.2 L524.0,349.5 L526.0,348.6 L528.0,347.7 L530.0,346.8 L532.0,345.7 L534.0,344.6 L536.0,343.4 L538.0,342.0 L540.0,340.5 L542.0,338.9 L544.0,337.1 L546.0,335.1 L548.0,333.1 L550.0,330.8 L552.0,328.4 L554.0,325.9 L556.0,323.3 L558.0,320.5 L560.0,317.6 L562.0,314.5 L564.0,311.4 L566.0,308.1 L568.0,304.8 L570.0,301.4 L572.0,297.9 L574.0,294.3 L576.0,290.6 L578.0,286.9 L580.0,283.1 L582.0,279.2 L584.0,275.3 L586.0,271.4 L588.0,267.3 L590.0,263.2 L592.0,259.1 L594.0,255.0 L596.0,250.9 L598.0,246.7 L600.0,242.6 L602.0,238.5 L604.0,234.5 L606.0,230.5 L608.0,226.5 L610.0,222.6 L612.0,218.7 L614.0,214.9 L616.0,211.1 L618.0,207.4 L620.0,203.7 L622.0,200.1 L624.0,196.5 L626.0,193.0 L628.0,189.6 L630.0,186.2 L632.0,182.9 L634.0,179.7 L636.0,176.5 L638.0,173.4 L640.0,170.4 L642.0,167.5 L644.0,164.6 L646.0,161.8 L648.0,159.1 L650.0,156.5 L652.0,153.9 L654.0,151.4 L656.0,149.0 L658.0,146.7 L660.0,144.5 L662.0,142.3 L664.0,140.3 L666.0,138.3 L668.0,136.4 L670.0,134.6 L672.0,132.8 L674.0,131.2 L676.0,129.6 L678.0,128.0 L680.0,126.6 L682.0,125.2 L684.0,123.8 L686.0,122.5 L688.0,121.3 L690.0,120.2 L692.0,119.1 L694.0,118.0 L696.0,117.0 L698.0,116.1 L700.0,115.2 L702.0,114.3 L704.0,113.5 L706.0,112.8 L708.0,112.0 L710.0,111.4 L712.0,110.7 L714.0,110.1 L716.0,109.6 L718.0,109.1 L720.0,108.6 L722.0,108.1 L724.0,107.7 L726.0,107.3 L728.0,106.9 L730.0,106.6 L732.0,106.2 L734.0,105.9 L736.0,105.6 L738.0,105.4 L740.0,105.1 L742.0,104.9 L744.0,104.7 L746.0,104.5 L748.0,104.3 L750.0,104.1 L752.0,104.0 L754.0,103.8 L756.0,103.7 L758.0,103.6 L760.0,103.4 L762.0,103.3 L764.0,103.2 L766.0,103.1 L768.0,103.1 L770.0,103.0 L772.0,102.9 L774.0,102.9 L776.0,102.8 L778.0,102.7 L780.0,102.7 L782.0,102.6 L784.0,102.6 L786.0,102.6 L788.0,102.5 L790.0,102.5 L792.0,102.5 L794.0,102.4 L796.0,102.4 L798.0,102.4 L800.0,102.4 L802.0,102.4 L804.0,102.3 L806.0,102.3 L808.0,102.3 L810.0,102.3 L812.0,102.3 L814.0,102.3 L816.0,102.3 L818.0,102.3 L820.0,102.3 L822.0,102.3 L824.0,102.2 L826.0,102.2 L828.0,102.2 L830.0,102.2 L832.0,102.2 L834.0,102.2 L836.0,102.2 L838.0,102.2 L840.0,102.2 L842.0,102.2 L844.0,102.2 L846.0,102.2 L848.0,102.2 L850.0,102.2 L852.0,102.2 L854.0,102.2 L856.0,102.2 L858.0,102.2 L860.0,102.2 L862.0,102.2 L864.0,102.2 L866.0,102.2 L868.0,102.2 L870.0,102.2 L872.0,102.2" stroke="#7D60A0"/>
<path d="M240.0,207.9 L242.0,208.0 L244.0,208.1 L246.0,208.1 L248.0,208.2 L250.0,208.4 L252.0,208.5 L254.0,208.7 L256.0,208.9 L258.0,209.1 L260.0,209.3 L262.0,209.6 L264.0,209.9 L266.0,210.2 L268.0,210.6 L270.0,210.9 L272.0,211.3 L274.0,211.7 L276.0,212.2 L278.0,212.6 L280.0,213.1 L282.0,213.6 L284.0,214.1 L286.0,214.6 L288.0,215.1 L290.0,215.6 L292.0,216.1 L294.0,216.7 L296.0,217.2 L298.0,217.8 L300.0,218.3 L302.0,218.9 L304.0,219.4 L306.0,219.9 L308.0,220.4 L310.0,220.9 L312.0,221.4 L314.0,221.9 L316.0,222.5 L318.0,223.0 L320.0,223.5 L322.0,224.1 L324.0,224.7 L326.0,225.3 L328.0,225.9 L330.0,226.6 L332.0,227.2 L334.0,227.9 L336.0,228.6 L338.0,229.3 L340.0,230.0 L342.0,230.8 L344.0,231.5 L346.0,232.3 L348.0,233.1 L350.0,234.0 L352.0,234.9 L354.0,235.8 L356.0,236.8 L358.0,237.8 L360.0,238.9 L362.0,240.0 L364.0,241.2 L366.0,242.4 L368.0,243.7 L370.0,245.1 L372.0,246.4 L374.0,247.8 L376.0,249.3 L378.0,250.8 L380.0,252.4 L382.0,254.0 L384.0,255.6 L386.0,257.3 L388.0,259.0 L390.0,260.7 L392.0,262.5 L394.0,264.3 L396.0,266.2 L398.0,268.0 L400.0,269.9 L402.0,271.8 L404.0,273.8 L406.0,275.7 L408.0,277.7 L410.0,279.8 L412.0,281.9 L414.0,284.1 L416.0,286.3 L418.0,288.6 L420.0,290.9 L422.0,293.3 L424.0,295.7 L426.0,298.2 L428.0,300.7 L430.0,303.2 L432.0,305.7 L434.0,308.2 L436.0,310.7 L438.0,313.3 L440.0,315.8 L442.0,318.2 L444.0,320.7 L446.0,323.1 L448.0,325.5 L450.0,327.9 L452.0,330.2 L454.0,332.5 L456.0,334.8 L458.0,337.0 L460.0,339.1 L462.0,341.2 L464.0,343.3 L466.0,345.2 L468.0,347.1 L470.0,348.9 L472.0,350.7 L474.0,352.3 L476.0,353.8 L478.0,355.3 L480.0,356.6 L482.0,357.9 L484.0,359.1 L486.0,360.3 L488.0,361.3 L490.0,362.3 L492.0,363.2 L494.0,364.1 L496.0,364.8 L498.0,365.4 L500.0,366.0 L502.0,366.4 L504.0,366.7 L506.0,367.0 L508.0,367.1 L510.0,367.0 L512.0,366.9 L514.0,366.7 L516.0,366.3 L518.0,365.8 L520.0,365.2 L522.0,364.6 L524.0,363.8 L526.0,362.9 L528.0,362.0 L530.0,361.0 L532.0,359.9 L534.0,358.7 L536.0,357.5 L538.0,356.1 L540.0,354.6 L542.0,352.9 L544.0,351.1 L546.0,349.2 L548.0,347.1 L550.0,344.8 L552.0,342.4 L554.0,339.8 L556.0,337.1 L558.0,334.2 L560.0,331.2 L562.0,328.1 L564.0,324.8 L566.0,321.5 L568.0,318.0 L570.0,314.5 L572.0,310.8 L574.0,307.1 L576.0,303.3 L578.0,299.4 L580.0,295.4 L582.0,291.3 L584.0,287.2 L586.0,283.1 L588.0,278.8 L590.0,274.5 L592.0,270.2 L594.0,265.9 L596.0,261.5 L598.0,257.2 L600.0,252.8 L602.0,248.5 L604.0,244.2 L606.0,239.9 L608.0,235.8 L610.0,231.6 L612.0,227.5 L614.0,223.4 L616.0,219.4 L618.0,215.4 L620.0,211.5 L622.0,207.6 L624.0,203.8 L626.0,200.1 L628.0,196.4 L630.0,192.8 L632.0,189.2 L634.0,185.8 L636.0,182.4 L638.0,179.1 L640.0,175.9 L642.0,172.7 L644.0,169.6 L646.0,166.6 L648.0,163.7 L650.0,160.9 L652.0,158.1 L654.0,155.4 L656.0,152.9 L658.0,150.4 L660.0,148.0 L662.0,145.7 L664.0,143.4 L666.0,141.3 L668.0,139.2 L670.0,137.3 L672.0,135.4 L674.0,133.6 L676.0,131.9 L678.0,130.2 L680.0,128.6 L682.0,127.1 L684.0,125.6 L686.0,124.3 L688.0,122.9 L690.0,121.7 L692.0,120.5 L694.0,119.3 L696.0,118.3 L698.0,117.2 L700.0,116.3 L702.0,115.3 L704.0,114.5 L706.0,113.7 L708.0,112.9 L710.0,112.1 L712.0,111.5 L714.0,110.8 L716.0,110.2 L718.0,109.6 L720.0,109.1 L722.0,108.6 L724.0,108.2 L726.0,107.7 L728.0,107.3 L730.0,106.9 L732.0,106.6 L734.0,106.2 L736.0,105.9 L738.0,105.6 L740.0,105.4 L742.0,105.1 L744.0,104.9 L746.0,104.7 L748.0,104.5 L750.0,104.3 L752.0,104.1 L754.0,104.0 L756.0,103.8 L758.0,103.7 L760.0,103.5 L762.0,103.4 L764.0,103.3 L766.0,103.2 L768.0,103.1 L770.0,103.0 L772.0,103.0 L774.0,102.9 L776.0,102.8 L778.0,102.8 L780.0,102.7 L782.0,102.7 L784.0,102.6 L786.0,102.6 L788.0,102.6 L790.0,102.5 L792.0,102.5 L794.0,102.5 L796.0,102.4 L798.0,102.4 L800.0,102.4 L802.0,102.4 L804.0,102.4 L806.0,102.3 L808.0,102.3 L810.0,102.3 L812.0,102.3 L814.0,102.3 L816.0,102.3 L818.0,102.3 L820.0,102.3 L822.0,102.3 L824.0,102.3 L826.0,102.2 L828.0,102.2 L830.0,102.2 L832.0,102.2 L834.0,102.2 L836.0,102.2 L838.0,102.2 L840.0,102.2 L842.0,102.2 L844.0,102.2 L846.0,102.2 L848.0,102.2 L850.0,102.2 L852.0,102.2 L854.0,102.2 L856.0,102.2 L858.0,102.2 L860.0,102.2 L862.0,102.2 L864.0,102.2 L866.0,102.2 L868.0,102.2 L870.0,102.2 L872.0,102.2" stroke="#46AAC5"/>
<path d="M240.0,211.3 L242.0,211.4 L244.0,211.5 L246.0,211.6 L248.0,211.7 L250.0,211.9 L252.0,212.0 L254.0,212.2 L256.0,212.5 L258.0,212.7 L260.0,213.0 L262.0,213.3 L264.0,213.6 L266.0,214.0 L268.0,214.4 L270.0,214.8 L272.0,215.2 L274.0,215.6 L276.0,216.1 L278.0,216.6 L280.0,217.1 L282.0,217.7 L284.0,218.2 L286.0,218.8 L288.0,219.3 L290.0,219.9 L292.0,220.5 L294.0,221.1 L296.0,221.7 L298.0,222.3 L300.0,222.9 L302.0,223.5 L304.0,224.0 L306.0,224.6 L308.0,225.2 L310.0,225.7 L312.0,226.3 L314.0,226.9 L316.0,227.4 L318.0,228.0 L320.0,228.6 L322.0,229.2 L324.0,229.8 L326.0,230.5 L328.0,231.1 L330.0,231.8 L332.0,232.5 L334.0,233.3 L336.0,234.0 L338.0,234.7 L340.0,235.5 L342.0,236.2 L344.0,237.0 L346.0,237.8 L348.0,238.7 L350.0,239.5 L352.0,240.4 L354.0,241.4 L356.0,242.3 L358.0,243.3 L360.0,244.4 L362.0,245.5 L364.0,246.7 L366.0,247.9 L368.0,249.1 L370.0,250.4 L372.0,251.7 L374.0,253.1 L376.0,254.5 L378.0,256.0 L380.0,257.4 L382.0,259.0 L384.0,260.5 L386.0,262.1 L388.0,263.8 L390.0,265.4 L392.0,267.1 L394.0,268.8 L396.0,270.6 L398.0,272.3 L400.0,274.1 L402.0,275.9 L404.0,277.8 L406.0,279.6 L408.0,281.6 L410.0,283.5 L412.0,285.5 L414.0,287.6 L416.0,289.8 L418.0,292.0 L420.0,294.2 L422.0,296.6 L424.0,298.9 L426.0,301.3 L428.0,303.8 L430.0,306.3 L432.0,308.8 L434.0,311.3 L436.0,313.8 L438.0,316.3 L440.0,318.9 L442.0,321.4 L444.0,323.9 L446.0,326.4 L448.0,328.9 L450.0,331.4 L452.0,333.8 L454.0,336.3 L456.0,338.7 L458.0,341.1 L460.0,343.4 L462.0,345.7 L464.0,348.0 L466.0,350.2 L468.0,352.4 L470.0,354.5 L472.0,356.5 L474.0,358.4 L476.0,360.3 L478.0,362.1 L480.0,363.8 L482.0,365.4 L484.0,367.0 L486.0,368.5 L488.0,370.0 L490.0,371.3 L492.0,372.6 L494.0,373.9 L496.0,375.0 L498.0,376.0 L500.0,377.0 L502.0,377.8 L504.0,378.5 L506.0,379.0 L508.0,379.5 L510.0,379.8 L512.0,380.0 L514.0,380.0 L516.0,379.9 L518.0,379.6 L520.0,379.2 L522.0,378.7 L524.0,378.0 L526.0,377.2 L528.0,376.3 L530.0,375.3 L532.0,374.1 L534.0,372.9 L536.0,371.5 L538.0,370.0 L540.0,368.3 L542.0,366.6 L544.0,364.6 L546.0,362.5 L548.0,360.3 L550.0,357.9 L552.0,355.4 L554.0,352.8 L556.0,350.0 L558.0,347.1 L560.0,344.0 L562.0,340.9 L564.0,337.6 L566.0,334.2 L568.0,330.7 L570.0,327.1 L572.0,323.4 L574.0,319.7 L576.0,315.8 L578.0,311.9 L580.0,307.9 L582.0,303.8 L584.0,299.6 L586.0,295.4 L588.0,291.1 L590.0,286.8 L592.0,282.4 L594.0,278.0 L596.0,273.6 L598.0,269.1 L600.0,264.7 L602.0,260.3 L604.0,255.9 L606.0,251.6 L608.0,247.3 L610.0,243.0 L612.0,238.8 L614.0,234.6 L616.0,230.5 L618.0,226.4 L620.0,222.3 L622.0,218.3 L624.0,214.3 L626.0,210.4 L628.0,206.6 L630.0,202.9 L632.0,199.2 L634.0,195.5 L636.0,192.0 L638.0,188.5 L640.0,185.1 L642.0,181.7 L644.0,178.5 L646.0,175.3 L648.0,172.2 L650.0,169.1 L652.0,166.2 L654.0,163.3 L656.0,160.5 L658.0,157.9 L660.0,155.3 L662.0,152.7 L664.0,150.3 L666.0,148.0 L668.0,145.7 L670.0,143.6 L672.0,141.5 L674.0,139.5 L676.0,137.5 L678.0,135.7 L680.0,133.9 L682.0,132.2 L684.0,130.5 L686.0,129.0 L688.0,127.5 L690.0,126.0 L692.0,124.7 L694.0,123.4 L696.0,122.1 L698.0,120.9 L700.0,119.8 L702.0,118.7 L704.0,117.7 L706.0,116.7 L708.0,115.8 L710.0,114.9 L712.0,114.1 L714.0,113.3 L716.0,112.6 L718.0,111.9 L720.0,111.3 L722.0,110.7 L724.0,110.1 L726.0,109.5 L728.0,109.0 L730.0,108.6 L732.0,108.1 L734.0,107.7 L736.0,107.3 L738.0,106.9 L740.0,106.6 L742.0,106.2 L744.0,105.9 L746.0,105.7 L748.0,105.4 L750.0,105.2 L752.0,104.9 L754.0,104.7 L756.0,104.5 L758.0,104.3 L760.0,104.2 L762.0,104.0 L764.0,103.9 L766.0,103.7 L768.0,103.6 L770.0,103.5 L772.0,103.4 L774.0,103.3 L776.0,103.2 L778.0,103.1 L780.0,103.0 L782.0,102.9 L784.0,102.9 L786.0,102.8 L788.0,102.8 L790.0,102.7 L792.0,102.7 L794.0,102.6 L796.0,102.6 L798.0,102.5 L800.0,102.5 L802.0,102.5 L804.0,102.5 L806.0,102.4 L808.0,102.4 L810.0,102.4 L812.0,102.4 L814.0,102.4 L816.0,102.3 L818.0,102.3 L820.0,102.3 L822.0,102.3 L824.0,102.3 L826.0,102.3 L828.0,102.3 L830.0,102.3 L832.0,102.3 L834.0,102.3 L836.0,102.2 L838.0,102.2 L840.0,102.2 L842.0,102.2 L844.0,102.2 L846.0,102.2 L848.0,102.2 L850.0,102.2 L852.0,102.2 L854.0,102.2 L856.0,102.2 L858.0,102.2 L860.0,102.2 L862.0,102.2 L864.0,102.2 L866.0,102.2 L868.0,102.2 L870.0,102.2 L872.0,102.2" stroke="#F59240"/>
<path d="M240.0,216.2 L242.0,216.3 L244.0,216.5 L246.0,216.7 L248.0,217.0 L250.0,217.2 L252.0,217.5 L254.0,217.8 L256.0,218.1 L258.0,218.5 L260.0,218.9 L262.0,219.3 L264.0,219.7 L266.0,220.2 L268.0,220.7 L270.0,221.2 L272.0,221.8 L274.0,222.3 L276.0,222.9 L278.0,223.5 L280.0,224.2 L282.0,224.8 L284.0,225.5 L286.0,226.2 L288.0,226.8 L290.0,227.5 L292.0,228.2 L294.0,228.9 L296.0,229.6 L298.0,230.3 L300.0,231.1 L302.0,231.8 L304.0,232.4 L306.0,233.1 L308.0,233.8 L310.0,234.4 L312.0,235.1 L314.0,235.7 L316.0,236.4 L318.0,237.0 L320.0,237.7 L322.0,238.4 L324.0,239.1 L326.0,239.8 L328.0,240.5 L330.0,241.2 L332.0,241.9 L334.0,242.7 L336.0,243.4 L338.0,244.2 L340.0,244.9 L342.0,245.7 L344.0,246.5 L346.0,247.2 L348.0,248.0 L350.0,248.9 L352.0,249.7 L354.0,250.6 L356.0,251.5 L358.0,252.4 L360.0,253.4 L362.0,254.4 L364.0,255.5 L366.0,256.6 L368.0,257.7 L370.0,258.9 L372.0,260.1 L374.0,261.3 L376.0,262.5 L378.0,263.8 L380.0,265.2 L382.0,266.5 L384.0,267.9 L386.0,269.3 L388.0,270.7 L390.0,272.2 L392.0,273.7 L394.0,275.2 L396.0,276.8 L398.0,278.4 L400.0,279.9 L402.0,281.6 L404.0,283.2 L406.0,284.9 L408.0,286.6 L410.0,288.4 L412.0,290.2 L414.0,292.1 L416.0,294.1 L418.0,296.2 L420.0,298.3 L422.0,300.5 L424.0,302.7 L426.0,305.0 L428.0,307.3 L430.0,309.7 L432.0,312.2 L434.0,314.6 L436.0,317.1 L438.0,319.6 L440.0,322.1 L442.0,324.7 L444.0,327.2 L446.0,329.7 L448.0,332.3 L450.0,334.8 L452.0,337.4 L454.0,340.0 L456.0,342.5 L458.0,345.0 L460.0,347.5 L462.0,350.0 L464.0,352.5 L466.0,355.0 L468.0,357.3 L470.0,359.7 L472.0,361.9 L474.0,364.2 L476.0,366.3 L478.0,368.4 L480.0,370.4 L482.0,372.4 L484.0,374.3 L486.0,376.2 L488.0,378.0 L490.0,379.7 L492.0,381.3 L494.0,382.9 L496.0,384.4 L498.0,385.8 L500.0,387.0 L502.0,388.2 L504.0,389.2 L506.0,390.1 L508.0,390.8 L510.0,391.4 L512.0,391.9 L514.0,392.1 L516.0,392.2 L518.0,392.2 L520.0,391.9 L522.0,391.5 L524.0,391.0 L526.0,390.3 L528.0,389.4 L530.0,388.4 L532.0,387.2 L534.0,386.0 L536.0,384.5 L538.0,383.0 L540.0,381.3 L542.0,379.5 L544.0,377.5 L546.0,375.3 L548.0,373.1 L550.0,370.6 L552.0,368.1 L554.0,365.4 L556.0,362.5 L558.0,359.6 L560.0,356.5 L562.0,353.3 L564.0,349.9 L566.0,346.5 L568.0,342.9 L570.0,339.3 L572.0,335.5 L574.0,331.6 L576.0,327.7 L578.0,323.7 L580.0,319.6 L582.0,315.4 L584.0,311.1 L586.0,306.8 L588.0,302.4 L590.0,297.9 L592.0,293.4 L594.0,288.8 L596.0,284.2 L598.0,279.7 L600.0,275.1 L602.0,270.5 L604.0,266.0 L606.0,261.4 L608.0,257.0 L610.0,252.6 L612.0,248.1 L614.0,243.8 L616.0,239.4 L618.0,235.1 L620.0,230.9 L622.0,226.7 L624.0,222.6 L626.0,218.5 L628.0,214.5 L630.0,210.5 L632.0,206.6 L634.0,202.8 L636.0,199.0 L638.0,195.3 L640.0,191.7 L642.0,188.2 L644.0,184.7 L646.0,181.4 L648.0,178.1 L650.0,174.8 L652.0,171.7 L654.0,168.7 L656.0,165.7 L658.0,162.8 L660.0,160.0 L662.0,157.3 L664.0,154.7 L666.0,152.2 L668.0,149.8 L670.0,147.5 L672.0,145.3 L674.0,143.1 L676.0,141.0 L678.0,139.0 L680.0,137.1 L682.0,135.2 L684.0,133.5 L686.0,131.8 L688.0,130.1 L690.0,128.6 L692.0,127.1 L694.0,125.7 L696.0,124.3 L698.0,123.0 L700.0,121.8 L702.0,120.6 L704.0,119.5 L706.0,118.4 L708.0,117.4 L710.0,116.4 L712.0,115.5 L714.0,114.7 L716.0,113.9 L718.0,113.1 L720.0,112.4 L722.0,111.7 L724.0,111.1 L726.0,110.5 L728.0,109.9 L730.0,109.4 L732.0,108.9 L734.0,108.4 L736.0,108.0 L738.0,107.6 L740.0,107.2 L742.0,106.8 L744.0,106.5 L746.0,106.2 L748.0,105.9 L750.0,105.6 L752.0,105.3 L754.0,105.1 L756.0,104.9 L758.0,104.6 L760.0,104.5 L762.0,104.3 L764.0,104.1 L766.0,104.0 L768.0,103.8 L770.0,103.7 L772.0,103.6 L774.0,103.4 L776.0,103.3 L778.0,103.2 L780.0,103.1 L782.0,103.1 L784.0,103.0 L786.0,102.9 L788.0,102.9 L790.0,102.8 L792.0,102.7 L794.0,102.7 L796.0,102.7 L798.0,102.6 L800.0,102.6 L802.0,102.5 L804.0,102.5 L806.0,102.5 L808.0,102.5 L810.0,102.4 L812.0,102.4 L814.0,102.4 L816.0,102.4 L818.0,102.4 L820.0,102.3 L822.0,102.3 L824.0,102.3 L826.0,102.3 L828.0,102.3 L830.0,102.3 L832.0,102.3 L834.0,102.3 L836.0,102.3 L838.0,102.3 L840.0,102.2 L842.0,102.2 L844.0,102.2 L846.0,102.2 L848.0,102.2 L850.0,102.2 L852.0,102.2 L854.0,102.2 L856.0,102.2 L858.0,102.2 L860.0,102.2 L862.0,102.2 L864.0,102.2 L866.0,102.2 L868.0,102.2 L870.0,102.2 L872.0,102.2" stroke="#7092C8"/>
<path d="M240.0,240.1 L242.0,240.3 L244.0,240.5 L246.0,240.7 L248.0,240.9 L250.0,241.2 L252.0,241.4 L254.0,241.7 L256.0,242.1 L258.0,242.4 L260.0,242.8 L262.0,243.2 L264.0,243.6 L266.0,244.1 L268.0,244.6 L270.0,245.1 L272.0,245.6 L274.0,246.2 L276.0,246.8 L278.0,247.4 L280.0,248.0 L282.0,248.6 L284.0,249.3 L286.0,249.9 L288.0,250.6 L290.0,251.2 L292.0,251.9 L294.0,252.6 L296.0,253.2 L298.0,253.9 L300.0,254.6 L302.0,255.3 L304.0,255.9 L306.0,256.5 L308.0,257.1 L310.0,257.7 L312.0,258.3 L314.0,258.9 L316.0,259.5 L318.0,260.1 L320.0,260.7 L322.0,261.3 L324.0,261.9 L326.0,262.5 L328.0,263.1 L330.0,263.7 L332.0,264.3 L334.0,265.0 L336.0,265.6 L338.0,266.2 L340.0,266.8 L342.0,267.4 L344.0,268.1 L346.0,268.7 L348.0,269.3 L350.0,270.0 L352.0,270.7 L354.0,271.3 L356.0,272.1 L358.0,272.8 L360.0,273.6 L362.0,274.4 L364.0,275.2 L366.0,276.0 L368.0,276.9 L370.0,277.8 L372.0,278.7 L374.0,279.7 L376.0,280.7 L378.0,281.7 L380.0,282.7 L382.0,283.7 L384.0,284.8 L386.0,285.9 L388.0,287.0 L390.0,288.2 L392.0,289.3 L394.0,290.5 L396.0,291.8 L398.0,293.0 L400.0,294.2 L402.0,295.5 L404.0,296.8 L406.0,298.2 L408.0,299.6 L410.0,301.1 L412.0,302.6 L414.0,304.2 L416.0,305.9 L418.0,307.7 L420.0,309.5 L422.0,311.4 L424.0,313.4 L426.0,315.5 L428.0,317.6 L430.0,319.8 L432.0,322.1 L434.0,324.4 L436.0,326.7 L438.0,329.1 L440.0,331.5 L442.0,334.0 L444.0,336.4 L446.0,339.0 L448.0,341.5 L450.0,344.1 L452.0,346.6 L454.0,349.2 L456.0,351.8 L458.0,354.5 L460.0,357.1 L462.0,359.7 L464.0,362.3 L466.0,364.9 L468.0,367.4 L470.0,369.9 L472.0,372.4 L474.0,374.8 L476.0,377.1 L478.0,379.4 L480.0,381.7 L482.0,383.9 L484.0,386.0 L486.0,388.1 L488.0,390.1 L490.0,392.1 L492.0,394.0 L494.0,395.8 L496.0,397.5 L498.0,399.1 L500.0,400.5 L502.0,401.9 L504.0,403.1 L506.0,404.2 L508.0,405.1 L510.0,405.8 L512.0,406.4 L514.0,406.8 L516.0,407.0 L518.0,407.0 L520.0,406.9 L522.0,406.5 L524.0,406.0 L526.0,405.3 L528.0,404.4 L530.0,403.4 L532.0,402.2 L534.0,400.9 L536.0,399.4 L538.0,397.8 L540.0,396.0 L542.0,394.0 L544.0,391.9 L546.0,389.7 L548.0,387.2 L550.0,384.7 L552.0,382.0 L554.0,379.1 L556.0,376.1 L558.0,372.9 L560.0,369.6 L562.0,366.2 L564.0,362.7 L566.0,359.0 L568.0,355.2 L570.0,351.4 L572.0,347.4 L574.0,343.3 L576.0,339.1 L578.0,334.8 L580.0,330.4 L582.0,326.0 L584.0,321.5 L586.0,316.9 L588.0,312.2 L590.0,307.4 L592.0,302.6 L594.0,297.8 L596.0,293.0 L598.0,288.1 L600.0,283.2 L602.0,278.4 L604.0,273.6 L606.0,268.8 L608.0,264.1 L610.0,259.4 L612.0,254.7 L614.0,250.1 L616.0,245.5 L618.0,240.9 L620.0,236.4 L622.0,232.0 L624.0,227.6 L626.0,223.3 L628.0,219.1 L630.0,214.9 L632.0,210.8 L634.0,206.7 L636.0,202.8 L638.0,198.9 L640.0,195.1 L642.0,191.4 L644.0,187.7 L646.0,184.2 L648.0,180.7 L650.0,177.3 L652.0,174.0 L654.0,170.8 L656.0,167.7 L658.0,164.7 L660.0,161.8 L662.0,159.0 L664.0,156.3 L666.0,153.7 L668.0,151.2 L670.0,148.7 L672.0,146.4 L674.0,144.1 L676.0,142.0 L678.0,139.9 L680.0,137.9 L682.0,136.0 L684.0,134.1 L686.0,132.4 L688.0,130.7 L690.0,129.1 L692.0,127.5 L694.0,126.1 L696.0,124.6 L698.0,123.3 L700.0,122.0 L702.0,120.8 L704.0,119.7 L706.0,118.6 L708.0,117.6 L710.0,116.6 L712.0,115.6 L714.0,114.8 L716.0,113.9 L718.0,113.2 L720.0,112.4 L722.0,111.8 L724.0,111.1 L726.0,110.5 L728.0,109.9 L730.0,109.4 L732.0,108.9 L734.0,108.4 L736.0,107.9 L738.0,107.5 L740.0,107.1 L742.0,106.8 L744.0,106.4 L746.0,106.1 L748.0,105.8 L750.0,105.5 L752.0,105.3 L754.0,105.0 L756.0,104.8 L758.0,104.6 L760.0,104.4 L762.0,104.2 L764.0,104.1 L766.0,103.9 L768.0,103.8 L770.0,103.6 L772.0,103.5 L774.0,103.4 L776.0,103.3 L778.0,103.2 L780.0,103.1 L782.0,103.0 L784.0,103.0 L786.0,102.9 L788.0,102.8 L790.0,102.8 L792.0,102.7 L794.0,102.7 L796.0,102.6 L798.0,102.6 L800.0,102.6 L802.0,102.5 L804.0,102.5 L806.0,102.5 L808.0,102.4 L810.0,102.4 L812.0,102.4 L814.0,102.4 L816.0,102.4 L818.0,102.3 L820.0,102.3 L822.0,102.3 L824.0,102.3 L826.0,102.3 L828.0,102.3 L830.0,102.3 L832.0,102.3 L834.0,102.3 L836.0,102.3 L838.0,102.2 L840.0,102.2 L842.0,102.2 L844.0,102.2 L846.0,102.2 L848.0,102.2 L850.0,102.2 L852.0,102.2 L854.0,102.2 L856.0,102.2 L858.0,102.2 L860.0,102.2 L862.0,102.2 L864.0,102.2 L866.0,102.2 L868.0,102.2 L870.0,102.2 L872.0,102.2" stroke="#C66C6B"/>
<path d="M240.0,289.2 L242.0,289.5 L244.0,289.9 L246.0,290.3 L248.0,290.7 L250.0,291.1 L252.0,291.5 L254.0,292.0 L256.0,292.5 L258.0,293.1 L260.0,293.7 L262.0,294.3 L264.0,294.9 L266.0,295.6 L268.0,296.2 L270.0,297.0 L272.0,297.7 L274.0,298.5 L276.0,299.3 L278.0,300.1 L280.0,300.9 L282.0,301.7 L284.0,302.6 L286.0,303.4 L288.0,304.3 L290.0,305.1 L292.0,306.0 L294.0,306.8 L296.0,307.7 L298.0,308.5 L300.0,309.4 L302.0,310.2 L304.0,311.0 L306.0,311.7 L308.0,312.5 L310.0,313.2 L312.0,313.9 L314.0,314.5 L316.0,315.2 L318.0,315.8 L320.0,316.4 L322.0,317.0 L324.0,317.5 L326.0,318.1 L328.0,318.6 L330.0,319.2 L332.0,319.7 L334.0,320.1 L336.0,320.5 L338.0,320.9 L340.0,321.3 L342.0,321.6 L344.0,321.9 L346.0,322.1 L348.0,322.3 L350.0,322.5 L352.0,322.6 L354.0,322.7 L356.0,322.8 L358.0,322.9 L360.0,322.9 L362.0,322.9 L364.0,322.9 L366.0,322.9 L368.0,322.8 L370.0,322.8 L372.0,322.6 L374.0,322.5 L376.0,322.3 L378.0,322.1 L380.0,321.8 L382.0,321.6 L384.0,321.3 L386.0,321.0 L388.0,320.6 L390.0,320.3 L392.0,319.9 L394.0,319.5 L396.0,319.1 L398.0,318.7 L400.0,318.3 L402.0,317.9 L404.0,317.6 L406.0,317.2 L408.0,316.9 L410.0,316.7 L412.0,316.6 L414.0,316.5 L416.0,316.5 L418.0,316.7 L420.0,317.0 L422.0,317.4 L424.0,317.9 L426.0,318.6 L428.0,319.4 L430.0,320.3 L432.0,321.3 L434.0,322.5 L436.0,323.9 L438.0,325.4 L440.0,327.0 L442.0,328.7 L444.0,330.6 L446.0,332.7 L448.0,334.8 L450.0,337.2 L452.0,339.7 L454.0,342.3 L456.0,345.0 L458.0,347.9 L460.0,350.9 L462.0,354.1 L464.0,357.3 L466.0,360.7 L468.0,364.1 L470.0,367.6 L472.0,371.2 L474.0,374.8 L476.0,378.4 L478.0,382.1 L480.0,385.8 L482.0,389.5 L484.0,393.2 L486.0,396.8 L488.0,400.5 L490.0,404.1 L492.0,407.6 L494.0,411.0 L496.0,414.3 L498.0,417.5 L500.0,420.5 L502.0,423.3 L504.0,425.9 L506.0,428.2 L508.0,430.3 L510.0,432.1 L512.0,433.7 L514.0,434.9 L516.0,435.8 L518.0,436.4 L520.0,436.7 L522.0,436.7 L524.0,436.4 L526.0,435.8 L528.0,435.0 L530.0,433.9 L532.0,432.5 L534.0,430.9 L536.0,429.1 L538.0,427.0 L540.0,424.8 L542.0,422.3 L544.0,419.7 L546.0,416.8 L548.0,413.8 L550.0,410.7 L552.0,407.3 L554.0,403.9 L556.0,400.2 L558.0,396.4 L560.0,392.5 L562.0,388.5 L564.0,384.3 L566.0,380.1 L568.0,375.7 L570.0,371.2 L572.0,366.6 L574.0,362.0 L576.0,357.2 L578.0,352.3 L580.0,347.4 L582.0,342.4 L584.0,337.3 L586.0,332.1 L588.0,326.9 L590.0,321.6 L592.0,316.2 L594.0,310.8 L596.0,305.4 L598.0,300.0 L600.0,294.7 L602.0,289.3 L604.0,283.9 L606.0,278.6 L608.0,273.4 L610.0,268.2 L612.0,263.1 L614.0,257.9 L616.0,252.9 L618.0,247.9 L620.0,242.9 L622.0,238.1 L624.0,233.2 L626.0,228.5 L628.0,223.9 L630.0,219.3 L632.0,214.8 L634.0,210.4 L636.0,206.1 L638.0,201.9 L640.0,197.8 L642.0,193.8 L644.0,189.8 L646.0,186.0 L648.0,182.3 L650.0,178.7 L652.0,175.2 L654.0,171.7 L656.0,168.4 L658.0,165.3 L660.0,162.2 L662.0,159.2 L664.0,156.3 L666.0,153.6 L668.0,150.9 L670.0,148.4 L672.0,145.9 L674.0,143.6 L676.0,141.3 L678.0,139.2 L680.0,137.1 L682.0,135.1 L684.0,133.3 L686.0,131.4 L688.0,129.7 L690.0,128.1 L692.0,126.5 L694.0,125.0 L696.0,123.6 L698.0,122.3 L700.0,121.0 L702.0,119.8 L704.0,118.6 L706.0,117.6 L708.0,116.5 L710.0,115.6 L712.0,114.7 L714.0,113.8 L716.0,113.0 L718.0,112.3 L720.0,111.6 L722.0,110.9 L724.0,110.3 L726.0,109.7 L728.0,109.1 L730.0,108.6 L732.0,108.1 L734.0,107.7 L736.0,107.3 L738.0,106.9 L740.0,106.5 L742.0,106.2 L744.0,105.9 L746.0,105.6 L748.0,105.3 L750.0,105.1 L752.0,104.8 L754.0,104.6 L756.0,104.4 L758.0,104.2 L760.0,104.1 L762.0,103.9 L764.0,103.8 L766.0,103.6 L768.0,103.5 L770.0,103.4 L772.0,103.3 L774.0,103.2 L776.0,103.1 L778.0,103.0 L780.0,102.9 L782.0,102.9 L784.0,102.8 L786.0,102.7 L788.0,102.7 L790.0,102.6 L792.0,102.6 L794.0,102.6 L796.0,102.5 L798.0,102.5 L800.0,102.5 L802.0,102.4 L804.0,102.4 L806.0,102.4 L808.0,102.4 L810.0,102.4 L812.0,102.3 L814.0,102.3 L816.0,102.3 L818.0,102.3 L820.0,102.3 L822.0,102.3 L824.0,102.3 L826.0,102.3 L828.0,102.3 L830.0,102.3 L832.0,102.2 L834.0,102.2 L836.0,102.2 L838.0,102.2 L840.0,102.2 L842.0,102.2 L844.0,102.2 L846.0,102.2 L848.0,102.2 L850.0,102.2 L852.0,102.2 L854.0,102.2 L856.0,102.2 L858.0,102.2 L860.0,102.2 L862.0,102.2 L864.0,102.2 L866.0,102.2 L868.0,102.2 L870.0,102.2 L872.0,102.2" stroke="#A5C373"/>
<path d="M240.0,333.2 L242.0,333.7 L244.0,334.1 L246.0,334.6 L248.0,335.1 L250.0,335.7 L252.0,336.2 L254.0,336.8 L256.0,337.5 L258.0,338.1 L260.0,338.8 L262.0,339.5 L264.0,340.3 L266.0,341.1 L268.0,341.9 L270.0,342.8 L272.0,343.7 L274.0,344.6 L276.0,345.5 L278.0,346.4 L280.0,347.4 L282.0,348.4 L284.0,349.4 L286.0,350.4 L288.0,351.4 L290.0,352.4 L292.0,353.4 L294.0,354.4 L296.0,355.4 L298.0,356.4 L300.0,357.3 L302.0,358.3 L304.0,359.2 L306.0,360.1 L308.0,360.9 L310.0,361.8 L312.0,362.6 L314.0,363.3 L316.0,364.1 L318.0,364.8 L320.0,365.5 L322.0,366.2 L324.0,366.8 L326.0,367.5 L328.0,368.1 L330.0,368.6 L332.0,369.2 L334.0,369.7 L336.0,370.1 L338.0,370.5 L340.0,370.8 L342.0,371.1 L344.0,371.3 L346.0,371.4 L348.0,371.6 L350.0,371.6 L352.0,371.6 L354.0,371.6 L356.0,371.5 L358.0,371.4 L360.0,371.2 L362.0,370.9 L364.0,370.7 L366.0,370.3 L368.0,369.9 L370.0,369.4 L372.0,368.9 L374.0,368.3 L376.0,367.7 L378.0,367.0 L380.0,366.2 L382.0,365.4 L384.0,364.5 L386.0,363.6 L388.0,362.6 L390.0,361.6 L392.0,360.5 L394.0,359.4 L396.0,358.3 L398.0,357.1 L400.0,355.9 L402.0,354.7 L404.0,353.5 L406.0,352.3 L408.0,351.1 L410.0,350.1 L412.0,349.0 L414.0,348.1 L416.0,347.3 L418.0,346.6 L420.0,346.0 L422.0,345.6 L424.0,345.3 L426.0,345.2 L428.0,345.2 L430.0,345.4 L432.0,345.7 L434.0,346.2 L436.0,347.0 L438.0,347.9 L440.0,348.9 L442.0,350.2 L444.0,351.7 L446.0,353.4 L448.0,355.3 L450.0,357.4 L452.0,359.7 L454.0,362.2 L456.0,365.0 L458.0,367.9 L460.0,371.1 L462.0,374.4 L464.0,377.9 L466.0,381.6 L468.0,385.5 L470.0,389.5 L472.0,393.6 L474.0,397.8 L476.0,402.1 L478.0,406.5 L480.0,411.0 L482.0,415.5 L484.0,420.1 L486.0,424.7 L488.0,429.3 L490.0,433.8 L492.0,438.3 L494.0,442.7 L496.0,447.0 L498.0,451.1 L500.0,455.0 L502.0,458.7 L504.0,462.2 L506.0,465.3 L508.0,468.2 L510.0,470.7 L512.0,472.8 L514.0,474.6 L516.0,476.1 L518.0,477.1 L520.0,477.7 L522.0,478.0 L524.0,477.9 L526.0,477.5 L528.0,476.7 L530.0,475.6 L532.0,474.2 L534.0,472.6 L536.0,470.6 L538.0,468.5 L540.0,466.1 L542.0,463.5 L544.0,460.6 L546.0,457.6 L548.0,454.4 L550.0,451.0 L552.0,447.4 L554.0,443.7 L556.0,439.9 L558.0,435.9 L560.0,431.7 L562.0,427.5 L564.0,423.1 L566.0,418.6 L568.0,414.0 L570.0,409.2 L572.0,404.4 L574.0,399.5 L576.0,394.5 L578.0,389.4 L580.0,384.1 L582.0,378.9 L584.0,373.5 L586.0,368.0 L588.0,362.5 L590.0,356.9 L592.0,351.2 L594.0,345.5 L596.0,339.7 L598.0,334.0 L600.0,328.2 L602.0,322.4 L604.0,316.7 L606.0,311.0 L608.0,305.3 L610.0,299.7 L612.0,294.1 L614.0,288.5 L616.0,283.0 L618.0,277.5 L620.0,272.0 L622.0,266.7 L624.0,261.3 L626.0,256.1 L628.0,250.9 L630.0,245.8 L632.0,240.8 L634.0,235.8 L636.0,231.0 L638.0,226.2 L640.0,221.5 L642.0,216.9 L644.0,212.4 L646.0,208.0 L648.0,203.7 L650.0,199.5 L652.0,195.4 L654.0,191.4 L656.0,187.5 L658.0,183.8 L660.0,180.1 L662.0,176.6 L664.0,173.1 L666.0,169.8 L668.0,166.6 L670.0,163.6 L672.0,160.6 L674.0,157.7 L676.0,155.0 L678.0,152.3 L680.0,149.7 L682.0,147.3 L684.0,144.9 L686.0,142.6 L688.0,140.4 L690.0,138.3 L692.0,136.3 L694.0,134.4 L696.0,132.6 L698.0,130.8 L700.0,129.2 L702.0,127.6 L704.0,126.1 L706.0,124.6 L708.0,123.3 L710.0,122.0 L712.0,120.7 L714.0,119.6 L716.0,118.5 L718.0,117.4 L720.0,116.4 L722.0,115.5 L724.0,114.6 L726.0,113.8 L728.0,113.0 L730.0,112.3 L732.0,111.6 L734.0,111.0 L736.0,110.4 L738.0,109.8 L740.0,109.2 L742.0,108.7 L744.0,108.3 L746.0,107.8 L748.0,107.4 L750.0,107.0 L752.0,106.7 L754.0,106.3 L756.0,106.0 L758.0,105.7 L760.0,105.4 L762.0,105.2 L764.0,104.9 L766.0,104.7 L768.0,104.5 L770.0,104.3 L772.0,104.2 L774.0,104.0 L776.0,103.9 L778.0,103.7 L780.0,103.6 L782.0,103.5 L784.0,103.4 L786.0,103.3 L788.0,103.2 L790.0,103.1 L792.0,103.0 L794.0,102.9 L796.0,102.9 L798.0,102.8 L800.0,102.8 L802.0,102.7 L804.0,102.7 L806.0,102.6 L808.0,102.6 L810.0,102.5 L812.0,102.5 L814.0,102.5 L816.0,102.5 L818.0,102.4 L820.0,102.4 L822.0,102.4 L824.0,102.4 L826.0,102.3 L828.0,102.3 L830.0,102.3 L832.0,102.3 L834.0,102.3 L836.0,102.3 L838.0,102.3 L840.0,102.3 L842.0,102.3 L844.0,102.3 L846.0,102.3 L848.0,102.2 L850.0,102.2 L852.0,102.2 L854.0,102.2 L856.0,102.2 L858.0,102.2 L860.0,102.2 L862.0,102.2 L864.0,102.2 L866.0,102.2 L868.0,102.2 L870.0,102.2 L872.0,102.2" stroke="#917BB0"/>
<path d="M240.0,344.8 L242.0,345.3 L244.0,345.8 L246.0,346.3 L248.0,346.9 L250.0,347.4 L252.0,348.1 L254.0,348.7 L256.0,349.4 L258.0,350.1 L260.0,350.8 L262.0,351.6 L264.0,352.4 L266.0,353.3 L268.0,354.2 L270.0,355.1 L272.0,356.0 L274.0,357.0 L276.0,357.9 L278.0,359.0 L280.0,360.0 L282.0,361.0 L284.0,362.1 L286.0,363.1 L288.0,364.2 L290.0,365.2 L292.0,366.3 L294.0,367.4 L296.0,368.4 L298.0,369.5 L300.0,370.5 L302.0,371.5 L304.0,372.5 L306.0,373.4 L308.0,374.3 L310.0,375.2 L312.0,376.1 L314.0,376.9 L316.0,377.7 L318.0,378.5 L320.0,379.3 L322.0,380.0 L324.0,380.7 L326.0,381.4 L328.0,382.0 L330.0,382.6 L332.0,383.2 L334.0,383.7 L336.0,384.2 L338.0,384.6 L340.0,384.9 L342.0,385.2 L344.0,385.4 L346.0,385.6 L348.0,385.7 L350.0,385.8 L352.0,385.8 L354.0,385.8 L356.0,385.7 L358.0,385.5 L360.0,385.3 L362.0,385.0 L364.0,384.7 L366.0,384.3 L368.0,383.9 L370.0,383.3 L372.0,382.7 L374.0,382.1 L376.0,381.3 L378.0,380.6 L380.0,379.7 L382.0,378.8 L384.0,377.8 L386.0,376.7 L388.0,375.6 L390.0,374.4 L392.0,373.2 L394.0,371.9 L396.0,370.6 L398.0,369.2 L400.0,367.8 L402.0,366.4 L404.0,365.0 L406.0,363.6 L408.0,362.3 L410.0,360.9 L412.0,359.7 L414.0,358.5 L416.0,357.5 L418.0,356.6 L420.0,355.7 L422.0,355.1 L424.0,354.5 L426.0,354.2 L428.0,353.9 L430.0,353.9 L432.0,354.0 L434.0,354.3 L436.0,354.8 L438.0,355.5 L440.0,356.3 L442.0,357.4 L444.0,358.7 L446.0,360.2 L448.0,361.9 L450.0,363.8 L452.0,366.0 L454.0,368.4 L456.0,371.0 L458.0,373.8 L460.0,376.9 L462.0,380.2 L464.0,383.6 L466.0,387.3 L468.0,391.2 L470.0,395.2 L472.0,399.3 L474.0,403.6 L476.0,408.0 L478.0,412.6 L480.0,417.2 L482.0,421.9 L484.0,426.7 L486.0,431.6 L488.0,436.5 L490.0,441.3 L492.0,446.2 L494.0,451.0 L496.0,455.7 L498.0,460.3 L500.0,464.7 L502.0,468.9 L504.0,472.9 L506.0,476.7 L508.0,480.1 L510.0,483.3 L512.0,486.1 L514.0,488.5 L516.0,490.6 L518.0,492.3 L520.0,493.5 L522.0,494.4 L524.0,494.9 L526.0,495.1 L528.0,494.8 L530.0,494.2 L532.0,493.3 L534.0,492.0 L536.0,490.5 L538.0,488.7 L540.0,486.6 L542.0,484.2 L544.0,481.5 L546.0,478.7 L548.0,475.6 L550.0,472.3 L552.0,468.8 L554.0,465.1 L556.0,461.3 L558.0,457.2 L560.0,453.0 L562.0,448.7 L564.0,444.2 L566.0,439.6 L568.0,434.8 L570.0,429.9 L572.0,424.9 L574.0,419.8 L576.0,414.6 L578.0,409.2 L580.0,403.8 L582.0,398.2 L584.0,392.6 L586.0,386.8 L588.0,381.0 L590.0,375.0 L592.0,369.0 L594.0,363.0 L596.0,356.9 L598.0,350.7 L600.0,344.6 L602.0,338.5 L604.0,332.3 L606.0,326.2 L608.0,320.2 L610.0,314.1 L612.0,308.1 L614.0,302.1 L616.0,296.2 L618.0,290.3 L620.0,284.4 L622.0,278.6 L624.0,272.9 L626.0,267.2 L628.0,261.6 L630.0,256.1 L632.0,250.7 L634.0,245.4 L636.0,240.1 L638.0,235.0 L640.0,229.9 L642.0,224.9 L644.0,220.1 L646.0,215.3 L648.0,210.6 L650.0,206.1 L652.0,201.7 L654.0,197.4 L656.0,193.2 L658.0,189.1 L660.0,185.2 L662.0,181.4 L664.0,177.7 L666.0,174.1 L668.0,170.6 L670.0,167.3 L672.0,164.1 L674.0,161.0 L676.0,158.0 L678.0,155.2 L680.0,152.4 L682.0,149.8 L684.0,147.2 L686.0,144.8 L688.0,142.4 L690.0,140.2 L692.0,138.0 L694.0,136.0 L696.0,134.0 L698.0,132.2 L700.0,130.4 L702.0,128.7 L704.0,127.1 L706.0,125.6 L708.0,124.1 L710.0,122.7 L712.0,121.4 L714.0,120.2 L716.0,119.0 L718.0,117.9 L720.0,116.9 L722.0,115.9 L724.0,115.0 L726.0,114.1 L728.0,113.3 L730.0,112.5 L732.0,111.8 L734.0,111.1 L736.0,110.5 L738.0,109.9 L740.0,109.3 L742.0,108.8 L744.0,108.3 L746.0,107.9 L748.0,107.4 L750.0,107.0 L752.0,106.7 L754.0,106.3 L756.0,106.0 L758.0,105.7 L760.0,105.4 L762.0,105.2 L764.0,104.9 L766.0,104.7 L768.0,104.5 L770.0,104.3 L772.0,104.1 L774.0,104.0 L776.0,103.8 L778.0,103.7 L780.0,103.5 L782.0,103.4 L784.0,103.3 L786.0,103.2 L788.0,103.1 L790.0,103.0 L792.0,103.0 L794.0,102.9 L796.0,102.8 L798.0,102.8 L800.0,102.7 L802.0,102.7 L804.0,102.6 L806.0,102.6 L808.0,102.6 L810.0,102.5 L812.0,102.5 L814.0,102.5 L816.0,102.4 L818.0,102.4 L820.0,102.4 L822.0,102.4 L824.0,102.4 L826.0,102.3 L828.0,102.3 L830.0,102.3 L832.0,102.3 L834.0,102.3 L836.0,102.3 L838.0,102.3 L840.0,102.3 L842.0,102.3 L844.0,102.3 L846.0,102.2 L848.0,102.2 L850.0,102.2 L852.0,102.2 L854.0,102.2 L856.0,102.2 L858.0,102.2 L860.0,102.2 L862.0,102.2 L864.0,102.2 L866.0,102.2 L868.0,102.2 L870.0,102.2 L872.0,102.2" stroke="#6BB4CB"/>
<path d="M240.0,357.0 L242.0,357.5 L244.0,358.1 L246.0,358.7 L248.0,359.3 L250.0,360.0 L252.0,360.6 L254.0,361.4 L256.0,362.1 L258.0,362.9 L260.0,363.8 L262.0,364.6 L264.0,365.6 L266.0,366.5 L268.0,367.5 L270.0,368.5 L272.0,369.5 L274.0,370.6 L276.0,371.7 L278.0,372.8 L280.0,373.9 L282.0,375.0 L284.0,376.2 L286.0,377.4 L288.0,378.5 L290.0,379.7 L292.0,380.9 L294.0,382.1 L296.0,383.2 L298.0,384.4 L300.0,385.5 L302.0,386.7 L304.0,387.8 L306.0,388.8 L308.0,389.9 L310.0,390.9 L312.0,391.8 L314.0,392.8 L316.0,393.7 L318.0,394.6 L320.0,395.4 L322.0,396.3 L324.0,397.1 L326.0,397.8 L328.0,398.6 L330.0,399.3 L332.0,399.9 L334.0,400.6 L336.0,401.1 L338.0,401.6 L340.0,402.0 L342.0,402.4 L344.0,402.7 L346.0,402.9 L348.0,403.1 L350.0,403.2 L352.0,403.2 L354.0,403.2 L356.0,403.1 L358.0,403.0 L360.0,402.7 L362.0,402.5 L364.0,402.1 L366.0,401.7 L368.0,401.2 L370.0,400.6 L372.0,399.9 L374.0,399.2 L376.0,398.4 L378.0,397.5 L380.0,396.5 L382.0,395.4 L384.0,394.2 L386.0,393.0 L388.0,391.7 L390.0,390.3 L392.0,388.9 L394.0,387.4 L396.0,385.8 L398.0,384.2 L400.0,382.5 L402.0,380.8 L404.0,379.1 L406.0,377.4 L408.0,375.7 L410.0,374.0 L412.0,372.4 L414.0,370.9 L416.0,369.4 L418.0,368.1 L420.0,366.9 L422.0,365.8 L424.0,364.8 L426.0,364.0 L428.0,363.3 L430.0,362.8 L432.0,362.5 L434.0,362.3 L436.0,362.3 L438.0,362.6 L440.0,363.0 L442.0,363.6 L444.0,364.5 L446.0,365.5 L448.0,366.8 L450.0,368.4 L452.0,370.1 L454.0,372.1 L456.0,374.4 L458.0,376.9 L460.0,379.6 L462.0,382.6 L464.0,385.8 L466.0,389.3 L468.0,392.9 L470.0,396.7 L472.0,400.7 L474.0,404.9 L476.0,409.3 L478.0,413.8 L480.0,418.5 L482.0,423.3 L484.0,428.2 L486.0,433.1 L488.0,438.2 L490.0,443.3 L492.0,448.5 L494.0,453.6 L496.0,458.7 L498.0,463.7 L500.0,468.6 L502.0,473.3 L504.0,477.8 L506.0,482.2 L508.0,486.2 L510.0,490.0 L512.0,493.5 L514.0,496.6 L516.0,499.3 L518.0,501.6 L520.0,503.6 L522.0,505.1 L524.0,506.3 L526.0,507.0 L528.0,507.4 L530.0,507.4 L532.0,507.0 L534.0,506.2 L536.0,505.1 L538.0,503.7 L540.0,501.9 L542.0,499.9 L544.0,497.5 L546.0,494.9 L548.0,492.1 L550.0,488.9 L552.0,485.6 L554.0,482.1 L556.0,478.3 L558.0,474.4 L560.0,470.2 L562.0,465.9 L564.0,461.5 L566.0,456.9 L568.0,452.1 L570.0,447.2 L572.0,442.2 L574.0,437.0 L576.0,431.7 L578.0,426.3 L580.0,420.7 L582.0,415.1 L584.0,409.3 L586.0,403.4 L588.0,397.5 L590.0,391.4 L592.0,385.2 L594.0,379.0 L596.0,372.7 L598.0,366.4 L600.0,360.0 L602.0,353.7 L604.0,347.3 L606.0,341.0 L608.0,334.7 L610.0,328.4 L612.0,322.1 L614.0,315.9 L616.0,309.6 L618.0,303.4 L620.0,297.3 L622.0,291.2 L624.0,285.2 L626.0,279.2 L628.0,273.3 L630.0,267.5 L632.0,261.7 L634.0,256.1 L636.0,250.5 L638.0,245.0 L640.0,239.6 L642.0,234.4 L644.0,229.2 L646.0,224.1 L648.0,219.1 L650.0,214.3 L652.0,209.6 L654.0,205.0 L656.0,200.5 L658.0,196.1 L660.0,191.9 L662.0,187.8 L664.0,183.8 L666.0,180.0 L668.0,176.3 L670.0,172.7 L672.0,169.3 L674.0,165.9 L676.0,162.7 L678.0,159.6 L680.0,156.6 L682.0,153.8 L684.0,151.0 L686.0,148.4 L688.0,145.9 L690.0,143.4 L692.0,141.1 L694.0,138.9 L696.0,136.8 L698.0,134.7 L700.0,132.8 L702.0,131.0 L704.0,129.2 L706.0,127.6 L708.0,126.0 L710.0,124.5 L712.0,123.1 L714.0,121.8 L716.0,120.5 L718.0,119.3 L720.0,118.2 L722.0,117.1 L724.0,116.1 L726.0,115.2 L728.0,114.3 L730.0,113.4 L732.0,112.6 L734.0,111.9 L736.0,111.2 L738.0,110.6 L740.0,109.9 L742.0,109.4 L744.0,108.8 L746.0,108.3 L748.0,107.9 L750.0,107.4 L752.0,107.0 L754.0,106.7 L756.0,106.3 L758.0,106.0 L760.0,105.7 L762.0,105.4 L764.0,105.1 L766.0,104.9 L768.0,104.7 L770.0,104.5 L772.0,104.3 L774.0,104.1 L776.0,103.9 L778.0,103.8 L780.0,103.7 L782.0,103.5 L784.0,103.4 L786.0,103.3 L788.0,103.2 L790.0,103.1 L792.0,103.0 L794.0,103.0 L796.0,102.9 L798.0,102.8 L800.0,102.8 L802.0,102.7 L804.0,102.7 L806.0,102.6 L808.0,102.6 L810.0,102.5 L812.0,102.5 L814.0,102.5 L816.0,102.4 L818.0,102.4 L820.0,102.4 L822.0,102.4 L824.0,102.4 L826.0,102.3 L828.0,102.3 L830.0,102.3 L832.0,102.3 L834.0,102.3 L836.0,102.3 L838.0,102.3 L840.0,102.3 L842.0,102.3 L844.0,102.3 L846.0,102.2 L848.0,102.2 L850.0,102.2 L852.0,102.2 L854.0,102.2 L856.0,102.2 L858.0,102.2 L860.0,102.2 L862.0,102.2 L864.0,102.2 L866.0,102.2 L868.0,102.2 L870.0,102.2 L872.0,102.2" stroke="#F5A064"/>
<path d="M240.0,369.2 L242.0,369.8 L244.0,370.4 L246.0,371.0 L248.0,371.7 L250.0,372.4 L252.0,373.1 L254.0,373.8 L256.0,374.6 L258.0,375.5 L260.0,376.3 L262.0,377.2 L264.0,378.2 L266.0,379.2 L268.0,380.2 L270.0,381.2 L272.0,382.3 L274.0,383.4 L276.0,384.5 L278.0,385.7 L280.0,386.8 L282.0,388.0 L284.0,389.2 L286.0,390.4 L288.0,391.6 L290.0,392.8 L292.0,394.1 L294.0,395.3 L296.0,396.5 L298.0,397.7 L300.0,398.9 L302.0,400.0 L304.0,401.2 L306.0,402.3 L308.0,403.3 L310.0,404.4 L312.0,405.4 L314.0,406.4 L316.0,407.3 L318.0,408.2 L320.0,409.1 L322.0,410.0 L324.0,410.8 L326.0,411.6 L328.0,412.3 L330.0,413.1 L332.0,413.7 L334.0,414.4 L336.0,414.9 L338.0,415.4 L340.0,415.8 L342.0,416.2 L344.0,416.5 L346.0,416.7 L348.0,416.9 L350.0,417.0 L352.0,417.0 L354.0,416.9 L356.0,416.8 L358.0,416.6 L360.0,416.3 L362.0,416.0 L364.0,415.6 L366.0,415.1 L368.0,414.5 L370.0,413.9 L372.0,413.1 L374.0,412.3 L376.0,411.4 L378.0,410.4 L380.0,409.3 L382.0,408.1 L384.0,406.8 L386.0,405.4 L388.0,404.0 L390.0,402.4 L392.0,400.8 L394.0,399.2 L396.0,397.4 L398.0,395.6 L400.0,393.8 L402.0,391.9 L404.0,389.9 L406.0,388.0 L408.0,386.1 L410.0,384.2 L412.0,382.4 L414.0,380.6 L416.0,378.9 L418.0,377.3 L420.0,375.9 L422.0,374.5 L424.0,373.3 L426.0,372.3 L428.0,371.4 L430.0,370.6 L432.0,370.0 L434.0,369.6 L436.0,369.4 L438.0,369.4 L440.0,369.6 L442.0,370.0 L444.0,370.6 L446.0,371.4 L448.0,372.5 L450.0,373.8 L452.0,375.4 L454.0,377.2 L456.0,379.3 L458.0,381.6 L460.0,384.2 L462.0,387.0 L464.0,390.1 L466.0,393.4 L468.0,397.0 L470.0,400.7 L472.0,404.7 L474.0,408.8 L476.0,413.2 L478.0,417.7 L480.0,422.4 L482.0,427.2 L484.0,432.2 L486.0,437.3 L488.0,442.5 L490.0,447.8 L492.0,453.2 L494.0,458.5 L496.0,463.9 L498.0,469.2 L500.0,474.5 L502.0,479.6 L504.0,484.6 L506.0,489.4 L508.0,494.0 L510.0,498.3 L512.0,502.4 L514.0,506.1 L516.0,509.5 L518.0,512.5 L520.0,515.1 L522.0,517.4 L524.0,519.2 L526.0,520.7 L528.0,521.7 L530.0,522.4 L532.0,522.6 L534.0,522.5 L536.0,522.0 L538.0,521.1 L540.0,519.8 L542.0,518.3 L544.0,516.4 L546.0,514.1 L548.0,511.6 L550.0,508.8 L552.0,505.7 L554.0,502.4 L556.0,498.8 L558.0,495.0 L560.0,491.0 L562.0,486.8 L564.0,482.4 L566.0,477.8 L568.0,473.1 L570.0,468.1 L572.0,463.0 L574.0,457.8 L576.0,452.4 L578.0,446.9 L580.0,441.2 L582.0,435.4 L584.0,429.5 L586.0,423.5 L588.0,417.3 L590.0,411.0 L592.0,404.6 L594.0,398.1 L596.0,391.6 L598.0,385.0 L600.0,378.3 L602.0,371.7 L604.0,365.0 L606.0,358.3 L608.0,351.7 L610.0,345.0 L612.0,338.4 L614.0,331.8 L616.0,325.2 L618.0,318.6 L620.0,312.1 L622.0,305.6 L624.0,299.1 L626.0,292.8 L628.0,286.5 L630.0,280.2 L632.0,274.1 L634.0,268.0 L636.0,262.1 L638.0,256.2 L640.0,250.4 L642.0,244.7 L644.0,239.2 L646.0,233.7 L648.0,228.4 L650.0,223.1 L652.0,218.1 L654.0,213.1 L656.0,208.3 L658.0,203.6 L660.0,199.0 L662.0,194.6 L664.0,190.3 L666.0,186.1 L668.0,182.1 L670.0,178.2 L672.0,174.5 L674.0,170.9 L676.0,167.4 L678.0,164.1 L680.0,160.8 L682.0,157.7 L684.0,154.8 L686.0,151.9 L688.0,149.2 L690.0,146.5 L692.0,144.0 L694.0,141.6 L696.0,139.3 L698.0,137.1 L700.0,135.1 L702.0,133.1 L704.0,131.2 L706.0,129.4 L708.0,127.7 L710.0,126.1 L712.0,124.6 L714.0,123.1 L716.0,121.7 L718.0,120.5 L720.0,119.2 L722.0,118.1 L724.0,117.0 L726.0,116.0 L728.0,115.0 L730.0,114.1 L732.0,113.3 L734.0,112.5 L736.0,111.8 L738.0,111.1 L740.0,110.4 L742.0,109.8 L744.0,109.2 L746.0,108.7 L748.0,108.2 L750.0,107.7 L752.0,107.3 L754.0,106.9 L756.0,106.5 L758.0,106.2 L760.0,105.9 L762.0,105.6 L764.0,105.3 L766.0,105.0 L768.0,104.8 L770.0,104.6 L772.0,104.4 L774.0,104.2 L776.0,104.0 L778.0,103.9 L780.0,103.7 L782.0,103.6 L784.0,103.4 L786.0,103.3 L788.0,103.2 L790.0,103.1 L792.0,103.1 L794.0,103.0 L796.0,102.9 L798.0,102.8 L800.0,102.8 L802.0,102.7 L804.0,102.7 L806.0,102.6 L808.0,102.6 L810.0,102.5 L812.0,102.5 L814.0,102.5 L816.0,102.5 L818.0,102.4 L820.0,102.4 L822.0,102.4 L824.0,102.4 L826.0,102.3 L828.0,102.3 L830.0,102.3 L832.0,102.3 L834.0,102.3 L836.0,102.3 L838.0,102.3 L840.0,102.3 L842.0,102.3 L844.0,102.3 L846.0,102.2 L848.0,102.2 L850.0,102.2 L852.0,102.2 L854.0,102.2 L856.0,102.2 L858.0,102.2 L860.0,102.2 L862.0,102.2 L864.0,102.2 L866.0,102.2 L868.0,102.2 L870.0,102.2 L872.0,102.2" stroke="#9BAFD4"/>
<path d="M240.0,381.7 L242.0,382.2 L244.0,382.8 L246.0,383.5 L248.0,384.1 L250.0,384.8 L252.0,385.5 L254.0,386.3 L256.0,387.1 L258.0,387.9 L260.0,388.8 L262.0,389.7 L264.0,390.6 L266.0,391.6 L268.0,392.6 L270.0,393.6 L272.0,394.7 L274.0,395.8 L276.0,396.9 L278.0,398.0 L280.0,399.2 L282.0,400.4 L284.0,401.5 L286.0,402.7 L288.0,403.9 L290.0,405.1 L292.0,406.3 L294.0,407.5 L296.0,408.7 L298.0,409.9 L300.0,411.1 L302.0,412.2 L304.0,413.3 L306.0,414.4 L308.0,415.5 L310.0,416.5 L312.0,417.5 L314.0,418.4 L316.0,419.4 L318.0,420.2 L320.0,421.1 L322.0,421.9 L324.0,422.7 L326.0,423.5 L328.0,424.2 L330.0,424.9 L332.0,425.5 L334.0,426.1 L336.0,426.6 L338.0,427.1 L340.0,427.4 L342.0,427.7 L344.0,428.0 L346.0,428.1 L348.0,428.2 L350.0,428.3 L352.0,428.2 L354.0,428.1 L356.0,427.9 L358.0,427.6 L360.0,427.3 L362.0,426.9 L364.0,426.4 L366.0,425.8 L368.0,425.1 L370.0,424.4 L372.0,423.6 L374.0,422.6 L376.0,421.6 L378.0,420.5 L380.0,419.3 L382.0,417.9 L384.0,416.6 L386.0,415.1 L388.0,413.5 L390.0,411.9 L392.0,410.1 L394.0,408.3 L396.0,406.5 L398.0,404.5 L400.0,402.6 L402.0,400.5 L404.0,398.5 L406.0,396.4 L408.0,394.4 L410.0,392.4 L412.0,390.4 L414.0,388.6 L416.0,386.8 L418.0,385.1 L420.0,383.5 L422.0,382.1 L424.0,380.8 L426.0,379.6 L428.0,378.6 L430.0,377.8 L432.0,377.1 L434.0,376.7 L436.0,376.4 L438.0,376.3 L440.0,376.5 L442.0,376.8 L444.0,377.4 L446.0,378.2 L448.0,379.2 L450.0,380.5 L452.0,382.1 L454.0,383.8 L456.0,385.9 L458.0,388.2 L460.0,390.8 L462.0,393.6 L464.0,396.7 L466.0,400.0 L468.0,403.5 L470.0,407.3 L472.0,411.2 L474.0,415.4 L476.0,419.7 L478.0,424.3 L480.0,429.0 L482.0,433.9 L484.0,438.9 L486.0,444.0 L488.0,449.3 L490.0,454.7 L492.0,460.1 L494.0,465.6 L496.0,471.1 L498.0,476.6 L500.0,482.0 L502.0,487.3 L504.0,492.5 L506.0,497.5 L508.0,502.3 L510.0,506.9 L512.0,511.2 L514.0,515.3 L516.0,519.0 L518.0,522.4 L520.0,525.4 L522.0,528.1 L524.0,530.3 L526.0,532.2 L528.0,533.7 L530.0,534.7 L532.0,535.4 L534.0,535.7 L536.0,535.6 L538.0,535.1 L540.0,534.3 L542.0,533.0 L544.0,531.5 L546.0,529.6 L548.0,527.3 L550.0,524.8 L552.0,521.9 L554.0,518.8 L556.0,515.4 L558.0,511.7 L560.0,507.9 L562.0,503.7 L564.0,499.4 L566.0,494.9 L568.0,490.1 L570.0,485.2 L572.0,480.1 L574.0,474.8 L576.0,469.4 L578.0,463.8 L580.0,458.0 L582.0,452.1 L584.0,446.1 L586.0,439.9 L588.0,433.5 L590.0,427.1 L592.0,420.5 L594.0,413.8 L596.0,407.1 L598.0,400.2 L600.0,393.4 L602.0,386.5 L604.0,379.5 L606.0,372.6 L608.0,365.7 L610.0,358.8 L612.0,351.8 L614.0,344.9 L616.0,338.0 L618.0,331.1 L620.0,324.3 L622.0,317.5 L624.0,310.7 L626.0,304.0 L628.0,297.4 L630.0,290.8 L632.0,284.4 L634.0,278.0 L636.0,271.7 L638.0,265.5 L640.0,259.4 L642.0,253.4 L644.0,247.5 L646.0,241.7 L648.0,236.1 L650.0,230.6 L652.0,225.2 L654.0,219.9 L656.0,214.8 L658.0,209.8 L660.0,205.0 L662.0,200.3 L664.0,195.7 L666.0,191.3 L668.0,187.0 L670.0,182.9 L672.0,179.0 L674.0,175.1 L676.0,171.4 L678.0,167.9 L680.0,164.4 L682.0,161.1 L684.0,158.0 L686.0,154.9 L688.0,152.0 L690.0,149.2 L692.0,146.6 L694.0,144.0 L696.0,141.6 L698.0,139.2 L700.0,137.0 L702.0,134.9 L704.0,132.9 L706.0,131.0 L708.0,129.2 L710.0,127.5 L712.0,125.9 L714.0,124.3 L716.0,122.9 L718.0,121.5 L720.0,120.2 L722.0,119.0 L724.0,117.8 L726.0,116.8 L728.0,115.7 L730.0,114.8 L732.0,113.9 L734.0,113.1 L736.0,112.3 L738.0,111.5 L740.0,110.8 L742.0,110.2 L744.0,109.6 L746.0,109.0 L748.0,108.5 L750.0,108.0 L752.0,107.5 L754.0,107.1 L756.0,106.7 L758.0,106.4 L760.0,106.0 L762.0,105.7 L764.0,105.4 L766.0,105.1 L768.0,104.9 L770.0,104.7 L772.0,104.5 L774.0,104.3 L776.0,104.1 L778.0,103.9 L780.0,103.8 L782.0,103.6 L784.0,103.5 L786.0,103.4 L788.0,103.3 L790.0,103.2 L792.0,103.1 L794.0,103.0 L796.0,102.9 L798.0,102.9 L800.0,102.8 L802.0,102.7 L804.0,102.7 L806.0,102.6 L808.0,102.6 L810.0,102.6 L812.0,102.5 L814.0,102.5 L816.0,102.5 L818.0,102.4 L820.0,102.4 L822.0,102.4 L824.0,102.4 L826.0,102.3 L828.0,102.3 L830.0,102.3 L832.0,102.3 L834.0,102.3 L836.0,102.3 L838.0,102.3 L840.0,102.3 L842.0,102.3 L844.0,102.3 L846.0,102.2 L848.0,102.2 L850.0,102.2 L852.0,102.2 L854.0,102.2 L856.0,102.2 L858.0,102.2 L860.0,102.2 L862.0,102.2 L864.0,102.2 L866.0,102.2 L868.0,102.2 L870.0,102.2 L872.0,102.2" stroke="#D39B98"/>
<path d="M240.0,392.7 L242.0,393.2 L244.0,393.8 L246.0,394.4 L248.0,395.1 L250.0,395.8 L252.0,396.5 L254.0,397.2 L256.0,398.0 L258.0,398.8 L260.0,399.7 L262.0,400.6 L264.0,401.5 L266.0,402.5 L268.0,403.5 L270.0,404.5 L272.0,405.6 L274.0,406.7 L276.0,407.8 L278.0,408.9 L280.0,410.1 L282.0,411.2 L284.0,412.4 L286.0,413.6 L288.0,414.8 L290.0,416.0 L292.0,417.2 L294.0,418.4 L296.0,419.6 L298.0,420.7 L300.0,421.9 L302.0,423.0 L304.0,424.1 L306.0,425.2 L308.0,426.2 L310.0,427.2 L312.0,428.2 L314.0,429.1 L316.0,430.0 L318.0,430.9 L320.0,431.7 L322.0,432.5 L324.0,433.3 L326.0,434.0 L328.0,434.7 L330.0,435.4 L332.0,436.0 L334.0,436.5 L336.0,437.0 L338.0,437.4 L340.0,437.7 L342.0,438.0 L344.0,438.2 L346.0,438.3 L348.0,438.4 L350.0,438.3 L352.0,438.2 L354.0,438.1 L356.0,437.8 L358.0,437.5 L360.0,437.1 L362.0,436.6 L364.0,436.0 L366.0,435.4 L368.0,434.7 L370.0,433.8 L372.0,432.9 L374.0,431.9 L376.0,430.8 L378.0,429.6 L380.0,428.3 L382.0,426.9 L384.0,425.4 L386.0,423.8 L388.0,422.2 L390.0,420.4 L392.0,418.6 L394.0,416.7 L396.0,414.7 L398.0,412.7 L400.0,410.6 L402.0,408.5 L404.0,406.3 L406.0,404.2 L408.0,402.0 L410.0,399.9 L412.0,397.9 L414.0,395.9 L416.0,394.0 L418.0,392.3 L420.0,390.6 L422.0,389.1 L424.0,387.7 L426.0,386.5 L428.0,385.4 L430.0,384.5 L432.0,383.8 L434.0,383.2 L436.0,382.9 L438.0,382.7 L440.0,382.8 L442.0,383.1 L444.0,383.6 L446.0,384.3 L448.0,385.3 L450.0,386.6 L452.0,388.0 L454.0,389.8 L456.0,391.8 L458.0,394.0 L460.0,396.5 L462.0,399.3 L464.0,402.3 L466.0,405.6 L468.0,409.1 L470.0,412.8 L472.0,416.7 L474.0,420.8 L476.0,425.1 L478.0,429.6 L480.0,434.2 L482.0,439.1 L484.0,444.1 L486.0,449.2 L488.0,454.4 L490.0,459.8 L492.0,465.2 L494.0,470.7 L496.0,476.3 L498.0,481.8 L500.0,487.2 L502.0,492.6 L504.0,497.9 L506.0,503.1 L508.0,508.1 L510.0,512.9 L512.0,517.4 L514.0,521.7 L516.0,525.7 L518.0,529.4 L520.0,532.8 L522.0,535.8 L524.0,538.4 L526.0,540.7 L528.0,542.6 L530.0,544.1 L532.0,545.2 L534.0,545.9 L536.0,546.2 L538.0,546.2 L540.0,545.8 L542.0,545.0 L544.0,543.8 L546.0,542.2 L548.0,540.4 L550.0,538.1 L552.0,535.6 L554.0,532.7 L556.0,529.6 L558.0,526.1 L560.0,522.4 L562.0,518.5 L564.0,514.3 L566.0,509.8 L568.0,505.2 L570.0,500.3 L572.0,495.3 L574.0,490.0 L576.0,484.5 L578.0,478.9 L580.0,473.1 L582.0,467.1 L584.0,461.0 L586.0,454.7 L588.0,448.2 L590.0,441.6 L592.0,434.9 L594.0,428.1 L596.0,421.1 L598.0,414.1 L600.0,407.1 L602.0,399.9 L604.0,392.8 L606.0,385.6 L608.0,378.5 L610.0,371.3 L612.0,364.1 L614.0,356.9 L616.0,349.7 L618.0,342.5 L620.0,335.4 L622.0,328.3 L624.0,321.2 L626.0,314.2 L628.0,307.3 L630.0,300.4 L632.0,293.7 L634.0,287.0 L636.0,280.4 L638.0,273.9 L640.0,267.5 L642.0,261.2 L644.0,255.0 L646.0,248.9 L648.0,243.0 L650.0,237.2 L652.0,231.5 L654.0,226.0 L656.0,220.6 L658.0,215.3 L660.0,210.2 L662.0,205.3 L664.0,200.5 L666.0,195.8 L668.0,191.3 L670.0,187.0 L672.0,182.8 L674.0,178.8 L676.0,174.9 L678.0,171.1 L680.0,167.5 L682.0,164.0 L684.0,160.7 L686.0,157.5 L688.0,154.4 L690.0,151.5 L692.0,148.7 L694.0,146.0 L696.0,143.4 L698.0,140.9 L700.0,138.6 L702.0,136.4 L704.0,134.3 L706.0,132.3 L708.0,130.4 L710.0,128.6 L712.0,126.9 L714.0,125.3 L716.0,123.7 L718.0,122.3 L720.0,120.9 L722.0,119.7 L724.0,118.5 L726.0,117.3 L728.0,116.3 L730.0,115.3 L732.0,114.3 L734.0,113.4 L736.0,112.6 L738.0,111.8 L740.0,111.1 L742.0,110.4 L744.0,109.8 L746.0,109.2 L748.0,108.7 L750.0,108.2 L752.0,107.7 L754.0,107.3 L756.0,106.8 L758.0,106.5 L760.0,106.1 L762.0,105.8 L764.0,105.5 L766.0,105.2 L768.0,105.0 L770.0,104.7 L772.0,104.5 L774.0,104.3 L776.0,104.1 L778.0,103.9 L780.0,103.8 L782.0,103.6 L784.0,103.5 L786.0,103.4 L788.0,103.3 L790.0,103.2 L792.0,103.1 L794.0,103.0 L796.0,102.9 L798.0,102.9 L800.0,102.8 L802.0,102.7 L804.0,102.7 L806.0,102.6 L808.0,102.6 L810.0,102.6 L812.0,102.5 L814.0,102.5 L816.0,102.5 L818.0,102.4 L820.0,102.4 L822.0,102.4 L824.0,102.4 L826.0,102.3 L828.0,102.3 L830.0,102.3 L832.0,102.3 L834.0,102.3 L836.0,102.3 L838.0,102.3 L840.0,102.3 L842.0,102.3 L844.0,102.3 L846.0,102.2 L848.0,102.2 L850.0,102.2 L852.0,102.2 L854.0,102.2 L856.0,102.2 L858.0,102.2 L860.0,102.2 L862.0,102.2 L864.0,102.2 L866.0,102.2 L868.0,102.2 L870.0,102.2 L872.0,102.2" stroke="#B7CD96"/>
<path d="M240.0,400.7 L242.0,401.3 L244.0,401.9 L246.0,402.5 L248.0,403.2 L250.0,403.9 L252.0,404.6 L254.0,405.4 L256.0,406.2 L258.0,407.0 L260.0,407.9 L262.0,408.8 L264.0,409.8 L266.0,410.7 L268.0,411.7 L270.0,412.8 L272.0,413.9 L274.0,415.0 L276.0,416.1 L278.0,417.2 L280.0,418.4 L282.0,419.6 L284.0,420.8 L286.0,422.0 L288.0,423.2 L290.0,424.4 L292.0,425.6 L294.0,426.8 L296.0,428.0 L298.0,429.2 L300.0,430.3 L302.0,431.5 L304.0,432.6 L306.0,433.7 L308.0,434.7 L310.0,435.7 L312.0,436.7 L314.0,437.6 L316.0,438.5 L318.0,439.4 L320.0,440.3 L322.0,441.1 L324.0,441.8 L326.0,442.6 L328.0,443.3 L330.0,443.9 L332.0,444.5 L334.0,445.1 L336.0,445.5 L338.0,445.9 L340.0,446.3 L342.0,446.5 L344.0,446.7 L346.0,446.8 L348.0,446.8 L350.0,446.8 L352.0,446.7 L354.0,446.5 L356.0,446.2 L358.0,445.9 L360.0,445.4 L362.0,444.9 L364.0,444.3 L366.0,443.7 L368.0,442.9 L370.0,442.0 L372.0,441.1 L374.0,440.0 L376.0,438.8 L378.0,437.6 L380.0,436.2 L382.0,434.8 L384.0,433.2 L386.0,431.6 L388.0,429.9 L390.0,428.1 L392.0,426.2 L394.0,424.2 L396.0,422.2 L398.0,420.1 L400.0,417.9 L402.0,415.7 L404.0,413.5 L406.0,411.2 L408.0,409.0 L410.0,406.8 L412.0,404.7 L414.0,402.6 L416.0,400.7 L418.0,398.8 L420.0,397.1 L422.0,395.5 L424.0,394.0 L426.0,392.7 L428.0,391.5 L430.0,390.5 L432.0,389.7 L434.0,389.0 L436.0,388.6 L438.0,388.4 L440.0,388.4 L442.0,388.6 L444.0,389.0 L446.0,389.6 L448.0,390.5 L450.0,391.7 L452.0,393.0 L454.0,394.7 L456.0,396.6 L458.0,398.8 L460.0,401.2 L462.0,403.8 L464.0,406.8 L466.0,409.9 L468.0,413.3 L470.0,416.9 L472.0,420.8 L474.0,424.8 L476.0,429.0 L478.0,433.4 L480.0,438.0 L482.0,442.8 L484.0,447.7 L486.0,452.8 L488.0,458.0 L490.0,463.4 L492.0,468.8 L494.0,474.3 L496.0,479.9 L498.0,485.4 L500.0,491.0 L502.0,496.5 L504.0,501.9 L506.0,507.2 L508.0,512.3 L510.0,517.3 L512.0,522.1 L514.0,526.6 L516.0,530.9 L518.0,534.9 L520.0,538.6 L522.0,541.9 L524.0,544.9 L526.0,547.6 L528.0,549.9 L530.0,551.9 L532.0,553.4 L534.0,554.6 L536.0,555.4 L538.0,555.8 L540.0,555.9 L542.0,555.5 L544.0,554.8 L546.0,553.7 L548.0,552.2 L550.0,550.4 L552.0,548.2 L554.0,545.7 L556.0,542.9 L558.0,539.7 L560.0,536.3 L562.0,532.6 L564.0,528.7 L566.0,524.5 L568.0,520.0 L570.0,515.3 L572.0,510.4 L574.0,505.3 L576.0,500.0 L578.0,494.5 L580.0,488.8 L582.0,482.9 L584.0,476.8 L586.0,470.6 L588.0,464.1 L590.0,457.5 L592.0,450.8 L594.0,444.0 L596.0,437.0 L598.0,429.9 L600.0,422.8 L602.0,415.6 L604.0,408.3 L606.0,401.1 L608.0,393.8 L610.0,386.5 L612.0,379.1 L614.0,371.8 L616.0,364.4 L618.0,357.0 L620.0,349.7 L622.0,342.4 L624.0,335.1 L626.0,327.9 L628.0,320.7 L630.0,313.6 L632.0,306.6 L634.0,299.6 L636.0,292.8 L638.0,286.0 L640.0,279.3 L642.0,272.7 L644.0,266.2 L646.0,259.9 L648.0,253.6 L650.0,247.5 L652.0,241.6 L654.0,235.7 L656.0,230.0 L658.0,224.5 L660.0,219.1 L662.0,213.9 L664.0,208.8 L666.0,203.8 L668.0,199.1 L670.0,194.4 L672.0,190.0 L674.0,185.6 L676.0,181.5 L678.0,177.5 L680.0,173.6 L682.0,169.8 L684.0,166.3 L686.0,162.8 L688.0,159.5 L690.0,156.3 L692.0,153.3 L694.0,150.4 L696.0,147.6 L698.0,144.9 L700.0,142.4 L702.0,140.0 L704.0,137.7 L706.0,135.5 L708.0,133.4 L710.0,131.5 L712.0,129.6 L714.0,127.8 L716.0,126.2 L718.0,124.6 L720.0,123.1 L722.0,121.7 L724.0,120.4 L726.0,119.1 L728.0,117.9 L730.0,116.8 L732.0,115.8 L734.0,114.8 L736.0,113.9 L738.0,113.0 L740.0,112.2 L742.0,111.5 L744.0,110.8 L746.0,110.1 L748.0,109.5 L750.0,109.0 L752.0,108.4 L754.0,107.9 L756.0,107.5 L758.0,107.1 L760.0,106.7 L762.0,106.3 L764.0,106.0 L766.0,105.6 L768.0,105.3 L770.0,105.1 L772.0,104.8 L774.0,104.6 L776.0,104.4 L778.0,104.2 L780.0,104.0 L782.0,103.9 L784.0,103.7 L786.0,103.6 L788.0,103.4 L790.0,103.3 L792.0,103.2 L794.0,103.1 L796.0,103.0 L798.0,103.0 L800.0,102.9 L802.0,102.8 L804.0,102.8 L806.0,102.7 L808.0,102.7 L810.0,102.6 L812.0,102.6 L814.0,102.5 L816.0,102.5 L818.0,102.5 L820.0,102.4 L822.0,102.4 L824.0,102.4 L826.0,102.4 L828.0,102.4 L830.0,102.3 L832.0,102.3 L834.0,102.3 L836.0,102.3 L838.0,102.3 L840.0,102.3 L842.0,102.3 L844.0,102.3 L846.0,102.3 L848.0,102.2 L850.0,102.2 L852.0,102.2 L854.0,102.2 L856.0,102.2 L858.0,102.2 L860.0,102.2 L862.0,102.2 L864.0,102.2 L866.0,102.2 L868.0,102.2 L870.0,102.2 L872.0,102.2" stroke="#AFA0C3"/>
<path d="M240.0,413.5 L242.0,414.0 L244.0,414.6 L246.0,415.3 L248.0,415.9 L250.0,416.6 L252.0,417.3 L254.0,418.1 L256.0,418.9 L258.0,419.7 L260.0,420.5 L262.0,421.4 L264.0,422.4 L266.0,423.3 L268.0,424.3 L270.0,425.4 L272.0,426.4 L274.0,427.5 L276.0,428.6 L278.0,429.7 L280.0,430.9 L282.0,432.0 L284.0,433.2 L286.0,434.4 L288.0,435.6 L290.0,436.8 L292.0,437.9 L294.0,439.1 L296.0,440.3 L298.0,441.4 L300.0,442.6 L302.0,443.7 L304.0,444.8 L306.0,445.8 L308.0,446.8 L310.0,447.8 L312.0,448.7 L314.0,449.6 L316.0,450.5 L318.0,451.3 L320.0,452.1 L322.0,452.9 L324.0,453.6 L326.0,454.3 L328.0,455.0 L330.0,455.6 L332.0,456.1 L334.0,456.6 L336.0,457.0 L338.0,457.4 L340.0,457.6 L342.0,457.8 L344.0,457.9 L346.0,458.0 L348.0,457.9 L350.0,457.8 L352.0,457.6 L354.0,457.3 L356.0,457.0 L358.0,456.5 L360.0,456.0 L362.0,455.4 L364.0,454.7 L366.0,453.9 L368.0,453.0 L370.0,452.0 L372.0,450.9 L374.0,449.7 L376.0,448.4 L378.0,447.1 L380.0,445.6 L382.0,444.0 L384.0,442.3 L386.0,440.5 L388.0,438.6 L390.0,436.6 L392.0,434.6 L394.0,432.5 L396.0,430.3 L398.0,428.0 L400.0,425.7 L402.0,423.3 L404.0,420.9 L406.0,418.5 L408.0,416.1 L410.0,413.7 L412.0,411.4 L414.0,409.2 L416.0,407.1 L418.0,405.0 L420.0,403.1 L422.0,401.4 L424.0,399.7 L426.0,398.2 L428.0,396.9 L430.0,395.8 L432.0,394.8 L434.0,394.1 L436.0,393.5 L438.0,393.2 L440.0,393.1 L442.0,393.1 L444.0,393.5 L446.0,394.0 L448.0,394.8 L450.0,395.9 L452.0,397.2 L454.0,398.8 L456.0,400.7 L458.0,402.8 L460.0,405.2 L462.0,407.8 L464.0,410.7 L466.0,413.9 L468.0,417.3 L470.0,420.9 L472.0,424.8 L474.0,428.8 L476.0,433.1 L478.0,437.5 L480.0,442.2 L482.0,447.0 L484.0,452.1 L486.0,457.2 L488.0,462.6 L490.0,468.0 L492.0,473.6 L494.0,479.2 L496.0,484.9 L498.0,490.6 L500.0,496.3 L502.0,502.0 L504.0,507.6 L506.0,513.2 L508.0,518.6 L510.0,523.8 L512.0,528.9 L514.0,533.7 L516.0,538.3 L518.0,542.6 L520.0,546.6 L522.0,550.3 L524.0,553.7 L526.0,556.8 L528.0,559.5 L530.0,561.8 L532.0,563.8 L534.0,565.4 L536.0,566.6 L538.0,567.5 L540.0,567.9 L542.0,567.9 L544.0,567.5 L546.0,566.8 L548.0,565.6 L550.0,564.1 L552.0,562.2 L554.0,560.0 L556.0,557.4 L558.0,554.5 L560.0,551.2 L562.0,547.7 L564.0,543.8 L566.0,539.7 L568.0,535.3 L570.0,530.7 L572.0,525.8 L574.0,520.6 L576.0,515.3 L578.0,509.7 L580.0,503.9 L582.0,497.9 L584.0,491.7 L586.0,485.3 L588.0,478.7 L590.0,471.9 L592.0,465.0 L594.0,457.9 L596.0,450.7 L598.0,443.4 L600.0,436.0 L602.0,428.5 L604.0,421.0 L606.0,413.4 L608.0,405.8 L610.0,398.2 L612.0,390.5 L614.0,382.8 L616.0,375.1 L618.0,367.4 L620.0,359.8 L622.0,352.1 L624.0,344.5 L626.0,336.9 L628.0,329.4 L630.0,322.0 L632.0,314.6 L634.0,307.3 L636.0,300.1 L638.0,293.0 L640.0,286.0 L642.0,279.1 L644.0,272.3 L646.0,265.6 L648.0,259.1 L650.0,252.7 L652.0,246.4 L654.0,240.3 L656.0,234.3 L658.0,228.5 L660.0,222.9 L662.0,217.4 L664.0,212.1 L666.0,206.9 L668.0,201.9 L670.0,197.1 L672.0,192.4 L674.0,187.9 L676.0,183.6 L678.0,179.4 L680.0,175.3 L682.0,171.4 L684.0,167.7 L686.0,164.1 L688.0,160.7 L690.0,157.4 L692.0,154.2 L694.0,151.2 L696.0,148.3 L698.0,145.6 L700.0,143.0 L702.0,140.5 L704.0,138.1 L706.0,135.9 L708.0,133.7 L710.0,131.7 L712.0,129.8 L714.0,128.0 L716.0,126.3 L718.0,124.7 L720.0,123.1 L722.0,121.7 L724.0,120.3 L726.0,119.1 L728.0,117.9 L730.0,116.8 L732.0,115.7 L734.0,114.7 L736.0,113.8 L738.0,112.9 L740.0,112.1 L742.0,111.4 L744.0,110.7 L746.0,110.0 L748.0,109.4 L750.0,108.8 L752.0,108.3 L754.0,107.8 L756.0,107.3 L758.0,106.9 L760.0,106.5 L762.0,106.2 L764.0,105.8 L766.0,105.5 L768.0,105.2 L770.0,105.0 L772.0,104.7 L774.0,104.5 L776.0,104.3 L778.0,104.1 L780.0,103.9 L782.0,103.8 L784.0,103.6 L786.0,103.5 L788.0,103.4 L790.0,103.3 L792.0,103.2 L794.0,103.1 L796.0,103.0 L798.0,102.9 L800.0,102.8 L802.0,102.8 L804.0,102.7 L806.0,102.7 L808.0,102.6 L810.0,102.6 L812.0,102.5 L814.0,102.5 L816.0,102.5 L818.0,102.4 L820.0,102.4 L822.0,102.4 L824.0,102.4 L826.0,102.4 L828.0,102.3 L830.0,102.3 L832.0,102.3 L834.0,102.3 L836.0,102.3 L838.0,102.3 L840.0,102.3 L842.0,102.3 L844.0,102.3 L846.0,102.2 L848.0,102.2 L850.0,102.2 L852.0,102.2 L854.0,102.2 L856.0,102.2 L858.0,102.2 L860.0,102.2 L862.0,102.2 L864.0,102.2 L866.0,102.2 L868.0,102.2 L870.0,102.2 L872.0,102.2" stroke="#91C4D5"/>
<path d="M240.0,424.8 L242.0,425.3 L244.0,425.9 L246.0,426.5 L248.0,427.1 L250.0,427.8 L252.0,428.5 L254.0,429.2 L256.0,429.9 L258.0,430.7 L260.0,431.5 L262.0,432.4 L264.0,433.3 L266.0,434.2 L268.0,435.2 L270.0,436.2 L272.0,437.2 L274.0,438.2 L276.0,439.3 L278.0,440.4 L280.0,441.5 L282.0,442.6 L284.0,443.7 L286.0,444.8 L288.0,446.0 L290.0,447.1 L292.0,448.2 L294.0,449.4 L296.0,450.5 L298.0,451.6 L300.0,452.7 L302.0,453.7 L304.0,454.7 L306.0,455.7 L308.0,456.7 L310.0,457.6 L312.0,458.5 L314.0,459.3 L316.0,460.1 L318.0,460.9 L320.0,461.6 L322.0,462.3 L324.0,463.0 L326.0,463.6 L328.0,464.1 L330.0,464.7 L332.0,465.2 L334.0,465.6 L336.0,465.9 L338.0,466.2 L340.0,466.3 L342.0,466.5 L344.0,466.5 L346.0,466.4 L348.0,466.3 L350.0,466.1 L352.0,465.8 L354.0,465.5 L356.0,465.0 L358.0,464.5 L360.0,463.9 L362.0,463.2 L364.0,462.4 L366.0,461.5 L368.0,460.5 L370.0,459.4 L372.0,458.2 L374.0,456.9 L376.0,455.6 L378.0,454.1 L380.0,452.5 L382.0,450.8 L384.0,449.0 L386.0,447.1 L388.0,445.1 L390.0,443.0 L392.0,440.9 L394.0,438.7 L396.0,436.4 L398.0,434.0 L400.0,431.5 L402.0,429.1 L404.0,426.6 L406.0,424.1 L408.0,421.6 L410.0,419.1 L412.0,416.7 L414.0,414.4 L416.0,412.2 L418.0,410.1 L420.0,408.1 L422.0,406.2 L424.0,404.5 L426.0,403.0 L428.0,401.6 L430.0,400.4 L432.0,399.3 L434.0,398.5 L436.0,397.9 L438.0,397.5 L440.0,397.2 L442.0,397.3 L444.0,397.5 L446.0,398.0 L448.0,398.7 L450.0,399.7 L452.0,401.0 L454.0,402.5 L456.0,404.2 L458.0,406.3 L460.0,408.6 L462.0,411.1 L464.0,413.9 L466.0,417.0 L468.0,420.3 L470.0,423.8 L472.0,427.5 L474.0,431.4 L476.0,435.6 L478.0,439.9 L480.0,444.5 L482.0,449.2 L484.0,454.1 L486.0,459.1 L488.0,464.3 L490.0,469.7 L492.0,475.2 L494.0,480.7 L496.0,486.4 L498.0,492.0 L500.0,497.7 L502.0,503.4 L504.0,509.0 L506.0,514.5 L508.0,520.0 L510.0,525.3 L512.0,530.5 L514.0,535.5 L516.0,540.3 L518.0,544.8 L520.0,549.1 L522.0,553.1 L524.0,556.9 L526.0,560.3 L528.0,563.5 L530.0,566.3 L532.0,568.8 L534.0,570.9 L536.0,572.7 L538.0,574.1 L540.0,575.1 L542.0,575.7 L544.0,576.0 L546.0,575.8 L548.0,575.3 L550.0,574.4 L552.0,573.1 L554.0,571.4 L556.0,569.4 L558.0,567.0 L560.0,564.2 L562.0,561.1 L564.0,557.7 L566.0,554.0 L568.0,550.0 L570.0,545.6 L572.0,541.0 L574.0,536.2 L576.0,531.0 L578.0,525.7 L580.0,520.0 L582.0,514.1 L584.0,508.0 L586.0,501.7 L588.0,495.2 L590.0,488.4 L592.0,481.5 L594.0,474.4 L596.0,467.1 L598.0,459.7 L600.0,452.2 L602.0,444.6 L604.0,436.9 L606.0,429.2 L608.0,421.4 L610.0,413.6 L612.0,405.7 L614.0,397.8 L616.0,389.8 L618.0,381.9 L620.0,373.9 L622.0,366.0 L624.0,358.1 L626.0,350.2 L628.0,342.3 L630.0,334.6 L632.0,326.9 L634.0,319.2 L636.0,311.7 L638.0,304.2 L640.0,296.9 L642.0,289.6 L644.0,282.5 L646.0,275.5 L648.0,268.6 L650.0,261.8 L652.0,255.2 L654.0,248.8 L656.0,242.5 L658.0,236.3 L660.0,230.3 L662.0,224.5 L664.0,218.9 L666.0,213.4 L668.0,208.1 L670.0,203.0 L672.0,198.0 L674.0,193.3 L676.0,188.6 L678.0,184.2 L680.0,179.9 L682.0,175.7 L684.0,171.8 L686.0,168.0 L688.0,164.3 L690.0,160.8 L692.0,157.4 L694.0,154.2 L696.0,151.2 L698.0,148.2 L700.0,145.4 L702.0,142.8 L704.0,140.3 L706.0,137.9 L708.0,135.6 L710.0,133.4 L712.0,131.4 L714.0,129.5 L716.0,127.7 L718.0,125.9 L720.0,124.3 L722.0,122.8 L724.0,121.4 L726.0,120.0 L728.0,118.7 L730.0,117.5 L732.0,116.4 L734.0,115.4 L736.0,114.4 L738.0,113.5 L740.0,112.6 L742.0,111.8 L744.0,111.1 L746.0,110.4 L748.0,109.7 L750.0,109.1 L752.0,108.6 L754.0,108.1 L756.0,107.6 L758.0,107.1 L760.0,106.7 L762.0,106.3 L764.0,106.0 L766.0,105.7 L768.0,105.4 L770.0,105.1 L772.0,104.8 L774.0,104.6 L776.0,104.4 L778.0,104.2 L780.0,104.0 L782.0,103.8 L784.0,103.7 L786.0,103.5 L788.0,103.4 L790.0,103.3 L792.0,103.2 L794.0,103.1 L796.0,103.0 L798.0,102.9 L800.0,102.9 L802.0,102.8 L804.0,102.7 L806.0,102.7 L808.0,102.6 L810.0,102.6 L812.0,102.5 L814.0,102.5 L816.0,102.5 L818.0,102.4 L820.0,102.4 L822.0,102.4 L824.0,102.4 L826.0,102.4 L828.0,102.3 L830.0,102.3 L832.0,102.3 L834.0,102.3 L836.0,102.3 L838.0,102.3 L840.0,102.3 L842.0,102.3 L844.0,102.3 L846.0,102.2 L848.0,102.2 L850.0,102.2 L852.0,102.2 L854.0,102.2 L856.0,102.2 L858.0,102.2 L860.0,102.2 L862.0,102.2 L864.0,102.2 L866.0,102.2 L868.0,102.2 L870.0,102.2 L872.0,102.2" stroke="#F5B991"/>
<path d="M240.0,431.7 L242.0,432.2 L244.0,432.8 L246.0,433.4 L248.0,434.0 L250.0,434.7 L252.0,435.4 L254.0,436.1 L256.0,436.9 L258.0,437.7 L260.0,438.5 L262.0,439.4 L264.0,440.3 L266.0,441.2 L268.0,442.2 L270.0,443.2 L272.0,444.2 L274.0,445.3 L276.0,446.3 L278.0,447.4 L280.0,448.5 L282.0,449.6 L284.0,450.8 L286.0,451.9 L288.0,453.1 L290.0,454.2 L292.0,455.3 L294.0,456.5 L296.0,457.6 L298.0,458.7 L300.0,459.8 L302.0,460.9 L304.0,461.9 L306.0,462.9 L308.0,463.8 L310.0,464.7 L312.0,465.6 L314.0,466.5 L316.0,467.3 L318.0,468.0 L320.0,468.8 L322.0,469.5 L324.0,470.1 L326.0,470.7 L328.0,471.3 L330.0,471.8 L332.0,472.3 L334.0,472.7 L336.0,473.0 L338.0,473.3 L340.0,473.5 L342.0,473.6 L344.0,473.6 L346.0,473.5 L348.0,473.4 L350.0,473.1 L352.0,472.8 L354.0,472.4 L356.0,472.0 L358.0,471.4 L360.0,470.8 L362.0,470.0 L364.0,469.2 L366.0,468.3 L368.0,467.3 L370.0,466.1 L372.0,464.9 L374.0,463.6 L376.0,462.1 L378.0,460.6 L380.0,459.0 L382.0,457.2 L384.0,455.4 L386.0,453.4 L388.0,451.4 L390.0,449.2 L392.0,447.0 L394.0,444.7 L396.0,442.3 L398.0,439.9 L400.0,437.4 L402.0,434.8 L404.0,432.2 L406.0,429.7 L408.0,427.1 L410.0,424.6 L412.0,422.1 L414.0,419.7 L416.0,417.4 L418.0,415.2 L420.0,413.1 L422.0,411.2 L424.0,409.4 L426.0,407.7 L428.0,406.3 L430.0,405.0 L432.0,403.9 L434.0,403.0 L436.0,402.2 L438.0,401.8 L440.0,401.5 L442.0,401.4 L444.0,401.6 L446.0,402.0 L448.0,402.7 L450.0,403.6 L452.0,404.8 L454.0,406.3 L456.0,408.0 L458.0,410.0 L460.0,412.2 L462.0,414.7 L464.0,417.5 L466.0,420.5 L468.0,423.8 L470.0,427.3 L472.0,431.0 L474.0,434.9 L476.0,439.1 L478.0,443.4 L480.0,448.0 L482.0,452.7 L484.0,457.6 L486.0,462.7 L488.0,468.0 L490.0,473.4 L492.0,478.9 L494.0,484.6 L496.0,490.3 L498.0,496.0 L500.0,501.8 L502.0,507.6 L504.0,513.4 L506.0,519.1 L508.0,524.7 L510.0,530.3 L512.0,535.6 L514.0,540.9 L516.0,545.9 L518.0,550.7 L520.0,555.3 L522.0,559.6 L524.0,563.7 L526.0,567.5 L528.0,571.0 L530.0,574.2 L532.0,577.0 L534.0,579.5 L536.0,581.7 L538.0,583.6 L540.0,585.0 L542.0,586.1 L544.0,586.7 L546.0,587.0 L548.0,586.9 L550.0,586.4 L552.0,585.4 L554.0,584.1 L556.0,582.4 L558.0,580.4 L560.0,577.9 L562.0,575.1 L564.0,572.0 L566.0,568.5 L568.0,564.7 L570.0,560.6 L572.0,556.2 L574.0,551.4 L576.0,546.4 L578.0,541.1 L580.0,535.6 L582.0,529.7 L584.0,523.7 L586.0,517.4 L588.0,510.8 L590.0,504.0 L592.0,497.0 L594.0,489.8 L596.0,482.5 L598.0,475.0 L600.0,467.3 L602.0,459.6 L604.0,451.7 L606.0,443.8 L608.0,435.8 L610.0,427.8 L612.0,419.7 L614.0,411.5 L616.0,403.3 L618.0,395.1 L620.0,386.9 L622.0,378.7 L624.0,370.5 L626.0,362.3 L628.0,354.2 L630.0,346.1 L632.0,338.1 L634.0,330.1 L636.0,322.3 L638.0,314.5 L640.0,306.8 L642.0,299.2 L644.0,291.8 L646.0,284.5 L648.0,277.3 L650.0,270.2 L652.0,263.3 L654.0,256.5 L656.0,249.9 L658.0,243.5 L660.0,237.2 L662.0,231.1 L664.0,225.1 L666.0,219.4 L668.0,213.8 L670.0,208.4 L672.0,203.2 L674.0,198.2 L676.0,193.3 L678.0,188.6 L680.0,184.1 L682.0,179.7 L684.0,175.5 L686.0,171.5 L688.0,167.7 L690.0,164.0 L692.0,160.4 L694.0,157.0 L696.0,153.8 L698.0,150.7 L700.0,147.8 L702.0,145.0 L704.0,142.3 L706.0,139.8 L708.0,137.4 L710.0,135.1 L712.0,133.0 L714.0,130.9 L716.0,129.0 L718.0,127.2 L720.0,125.5 L722.0,123.9 L724.0,122.3 L726.0,120.9 L728.0,119.6 L730.0,118.3 L732.0,117.1 L734.0,116.0 L736.0,115.0 L738.0,114.0 L740.0,113.1 L742.0,112.3 L744.0,111.5 L746.0,110.8 L748.0,110.1 L750.0,109.5 L752.0,108.9 L754.0,108.3 L756.0,107.8 L758.0,107.3 L760.0,106.9 L762.0,106.5 L764.0,106.1 L766.0,105.8 L768.0,105.5 L770.0,105.2 L772.0,104.9 L774.0,104.7 L776.0,104.5 L778.0,104.3 L780.0,104.1 L782.0,103.9 L784.0,103.7 L786.0,103.6 L788.0,103.5 L790.0,103.3 L792.0,103.2 L794.0,103.1 L796.0,103.0 L798.0,103.0 L800.0,102.9 L802.0,102.8 L804.0,102.7 L806.0,102.7 L808.0,102.6 L810.0,102.6 L812.0,102.6 L814.0,102.5 L816.0,102.5 L818.0,102.5 L820.0,102.4 L822.0,102.4 L824.0,102.4 L826.0,102.4 L828.0,102.3 L830.0,102.3 L832.0,102.3 L834.0,102.3 L836.0,102.3 L838.0,102.3 L840.0,102.3 L842.0,102.3 L844.0,102.3 L846.0,102.2 L848.0,102.2 L850.0,102.2 L852.0,102.2 L854.0,102.2 L856.0,102.2 L858.0,102.2 L860.0,102.2 L862.0,102.2 L864.0,102.2 L866.0,102.2 L868.0,102.2 L870.0,102.2 L872.0,102.2" stroke="#B9C5DE"/>
<path d="M240.0,437.0 L242.0,437.6 L244.0,438.2 L246.0,438.8 L248.0,439.4 L250.0,440.1 L252.0,440.9 L254.0,441.6 L256.0,442.4 L258.0,443.2 L260.0,444.1 L262.0,445.0 L264.0,445.9 L266.0,446.9 L268.0,447.9 L270.0,448.9 L272.0,450.0 L274.0,451.1 L276.0,452.2 L278.0,453.3 L280.0,454.4 L282.0,455.6 L284.0,456.7 L286.0,457.9 L288.0,459.1 L290.0,460.3 L292.0,461.5 L294.0,462.6 L296.0,463.8 L298.0,464.9 L300.0,466.1 L302.0,467.2 L304.0,468.2 L306.0,469.2 L308.0,470.2 L310.0,471.2 L312.0,472.1 L314.0,473.0 L316.0,473.8 L318.0,474.6 L320.0,475.4 L322.0,476.1 L324.0,476.8 L326.0,477.5 L328.0,478.1 L330.0,478.6 L332.0,479.1 L334.0,479.5 L336.0,479.9 L338.0,480.2 L340.0,480.4 L342.0,480.5 L344.0,480.5 L346.0,480.5 L348.0,480.3 L350.0,480.1 L352.0,479.8 L354.0,479.4 L356.0,479.0 L358.0,478.4 L360.0,477.8 L362.0,477.0 L364.0,476.2 L366.0,475.3 L368.0,474.2 L370.0,473.1 L372.0,471.8 L374.0,470.5 L376.0,469.0 L378.0,467.4 L380.0,465.7 L382.0,463.9 L384.0,462.0 L386.0,460.0 L388.0,457.9 L390.0,455.7 L392.0,453.5 L394.0,451.1 L396.0,448.7 L398.0,446.1 L400.0,443.6 L402.0,440.9 L404.0,438.3 L406.0,435.6 L408.0,432.9 L410.0,430.3 L412.0,427.7 L414.0,425.2 L416.0,422.8 L418.0,420.5 L420.0,418.4 L422.0,416.3 L424.0,414.4 L426.0,412.7 L428.0,411.1 L430.0,409.7 L432.0,408.5 L434.0,407.5 L436.0,406.7 L438.0,406.1 L440.0,405.8 L442.0,405.6 L444.0,405.7 L446.0,406.1 L448.0,406.7 L450.0,407.5 L452.0,408.6 L454.0,410.0 L456.0,411.7 L458.0,413.6 L460.0,415.8 L462.0,418.3 L464.0,421.0 L466.0,424.0 L468.0,427.2 L470.0,430.7 L472.0,434.4 L474.0,438.3 L476.0,442.5 L478.0,446.8 L480.0,451.4 L482.0,456.2 L484.0,461.1 L486.0,466.3 L488.0,471.6 L490.0,477.1 L492.0,482.7 L494.0,488.4 L496.0,494.2 L498.0,500.1 L500.0,506.0 L502.0,511.9 L504.0,517.8 L506.0,523.7 L508.0,529.5 L510.0,535.2 L512.0,540.7 L514.0,546.1 L516.0,551.3 L518.0,556.4 L520.0,561.2 L522.0,565.7 L524.0,570.0 L526.0,574.0 L528.0,577.7 L530.0,581.2 L532.0,584.3 L534.0,587.0 L536.0,589.5 L538.0,591.5 L540.0,593.2 L542.0,594.5 L544.0,595.4 L546.0,595.9 L548.0,596.0 L550.0,595.7 L552.0,595.0 L554.0,593.9 L556.0,592.4 L558.0,590.5 L560.0,588.2 L562.0,585.5 L564.0,582.5 L566.0,579.2 L568.0,575.5 L570.0,571.5 L572.0,567.2 L574.0,562.5 L576.0,557.6 L578.0,552.3 L580.0,546.8 L582.0,541.0 L584.0,535.0 L586.0,528.7 L588.0,522.1 L590.0,515.4 L592.0,508.4 L594.0,501.1 L596.0,493.8 L598.0,486.2 L600.0,478.5 L602.0,470.7 L604.0,462.8 L606.0,454.8 L608.0,446.8 L610.0,438.6 L612.0,430.4 L614.0,422.1 L616.0,413.8 L618.0,405.5 L620.0,397.1 L622.0,388.7 L624.0,380.4 L626.0,372.1 L628.0,363.8 L630.0,355.5 L632.0,347.3 L634.0,339.2 L636.0,331.1 L638.0,323.2 L640.0,315.3 L642.0,307.5 L644.0,299.8 L646.0,292.3 L648.0,284.9 L650.0,277.6 L652.0,270.5 L654.0,263.5 L656.0,256.7 L658.0,250.1 L660.0,243.6 L662.0,237.2 L664.0,231.1 L666.0,225.2 L668.0,219.4 L670.0,213.8 L672.0,208.4 L674.0,203.1 L676.0,198.1 L678.0,193.2 L680.0,188.5 L682.0,183.9 L684.0,179.6 L686.0,175.4 L688.0,171.3 L690.0,167.5 L692.0,163.8 L694.0,160.2 L696.0,156.8 L698.0,153.6 L700.0,150.5 L702.0,147.6 L704.0,144.8 L706.0,142.1 L708.0,139.6 L710.0,137.2 L712.0,134.9 L714.0,132.8 L716.0,130.7 L718.0,128.8 L720.0,127.0 L722.0,125.3 L724.0,123.7 L726.0,122.2 L728.0,120.8 L730.0,119.5 L732.0,118.2 L734.0,117.0 L736.0,115.9 L738.0,114.9 L740.0,113.9 L742.0,113.0 L744.0,112.2 L746.0,111.4 L748.0,110.7 L750.0,110.0 L752.0,109.4 L754.0,108.8 L756.0,108.3 L758.0,107.8 L760.0,107.3 L762.0,106.9 L764.0,106.5 L766.0,106.1 L768.0,105.8 L770.0,105.5 L772.0,105.2 L774.0,104.9 L776.0,104.7 L778.0,104.4 L780.0,104.2 L782.0,104.0 L784.0,103.9 L786.0,103.7 L788.0,103.6 L790.0,103.4 L792.0,103.3 L794.0,103.2 L796.0,103.1 L798.0,103.0 L800.0,102.9 L802.0,102.9 L804.0,102.8 L806.0,102.7 L808.0,102.7 L810.0,102.6 L812.0,102.6 L814.0,102.5 L816.0,102.5 L818.0,102.5 L820.0,102.4 L822.0,102.4 L824.0,102.4 L826.0,102.4 L828.0,102.4 L830.0,102.3 L832.0,102.3 L834.0,102.3 L836.0,102.3 L838.0,102.3 L840.0,102.3 L842.0,102.3 L844.0,102.3 L846.0,102.3 L848.0,102.2 L850.0,102.2 L852.0,102.2 L854.0,102.2 L856.0,102.2 L858.0,102.2 L860.0,102.2 L862.0,102.2 L864.0,102.2 L866.0,102.2 L868.0,102.2 L870.0,102.2 L872.0,102.2" stroke="#E1BEBC"/>
<path d="M240.0,442.4 L242.0,443.0 L244.0,443.6 L246.0,444.3 L248.0,444.9 L250.0,445.6 L252.0,446.4 L254.0,447.2 L256.0,448.0 L258.0,448.8 L260.0,449.7 L262.0,450.7 L264.0,451.6 L266.0,452.6 L268.0,453.6 L270.0,454.7 L272.0,455.8 L274.0,456.9 L276.0,458.0 L278.0,459.2 L280.0,460.3 L282.0,461.5 L284.0,462.7 L286.0,463.9 L288.0,465.1 L290.0,466.3 L292.0,467.6 L294.0,468.8 L296.0,469.9 L298.0,471.1 L300.0,472.3 L302.0,473.4 L304.0,474.5 L306.0,475.6 L308.0,476.6 L310.0,477.6 L312.0,478.5 L314.0,479.4 L316.0,480.3 L318.0,481.1 L320.0,481.9 L322.0,482.7 L324.0,483.4 L326.0,484.1 L328.0,484.7 L330.0,485.3 L332.0,485.8 L334.0,486.3 L336.0,486.6 L338.0,486.9 L340.0,487.2 L342.0,487.3 L344.0,487.4 L346.0,487.3 L348.0,487.2 L350.0,487.0 L352.0,486.7 L354.0,486.3 L356.0,485.9 L358.0,485.3 L360.0,484.7 L362.0,483.9 L364.0,483.1 L366.0,482.2 L368.0,481.1 L370.0,480.0 L372.0,478.7 L374.0,477.3 L376.0,475.9 L378.0,474.3 L380.0,472.6 L382.0,470.7 L384.0,468.8 L386.0,466.8 L388.0,464.7 L390.0,462.4 L392.0,460.1 L394.0,457.7 L396.0,455.2 L398.0,452.6 L400.0,450.0 L402.0,447.3 L404.0,444.6 L406.0,441.9 L408.0,439.2 L410.0,436.5 L412.0,433.9 L414.0,431.3 L416.0,428.8 L418.0,426.5 L420.0,424.2 L422.0,422.1 L424.0,420.2 L426.0,418.3 L428.0,416.7 L430.0,415.2 L432.0,414.0 L434.0,412.9 L436.0,412.0 L438.0,411.3 L440.0,410.9 L442.0,410.7 L444.0,410.7 L446.0,411.0 L448.0,411.5 L450.0,412.3 L452.0,413.3 L454.0,414.6 L456.0,416.2 L458.0,418.1 L460.0,420.2 L462.0,422.6 L464.0,425.2 L466.0,428.2 L468.0,431.4 L470.0,434.8 L472.0,438.4 L474.0,442.3 L476.0,446.4 L478.0,450.7 L480.0,455.2 L482.0,460.0 L484.0,464.9 L486.0,470.0 L488.0,475.3 L490.0,480.8 L492.0,486.4 L494.0,492.2 L496.0,498.0 L498.0,503.9 L500.0,509.9 L502.0,515.8 L504.0,521.8 L506.0,527.8 L508.0,533.7 L510.0,539.5 L512.0,545.2 L514.0,550.8 L516.0,556.2 L518.0,561.4 L520.0,566.4 L522.0,571.2 L524.0,575.7 L526.0,580.0 L528.0,584.1 L530.0,587.8 L532.0,591.2 L534.0,594.3 L536.0,597.1 L538.0,599.6 L540.0,601.7 L542.0,603.3 L544.0,604.7 L546.0,605.6 L548.0,606.1 L550.0,606.2 L552.0,605.8 L554.0,605.1 L556.0,604.0 L558.0,602.5 L560.0,600.5 L562.0,598.2 L564.0,595.5 L566.0,592.5 L568.0,589.0 L570.0,585.3 L572.0,581.2 L574.0,576.7 L576.0,572.0 L578.0,566.9 L580.0,561.5 L582.0,555.8 L584.0,549.9 L586.0,543.6 L588.0,537.1 L590.0,530.3 L592.0,523.3 L594.0,516.1 L596.0,508.7 L598.0,501.1 L600.0,493.3 L602.0,485.4 L604.0,477.4 L606.0,469.2 L608.0,461.0 L610.0,452.7 L612.0,444.3 L614.0,435.9 L616.0,427.3 L618.0,418.8 L620.0,410.2 L622.0,401.6 L624.0,393.0 L626.0,384.4 L628.0,375.8 L630.0,367.3 L632.0,358.8 L634.0,350.4 L636.0,342.0 L638.0,333.8 L640.0,325.6 L642.0,317.5 L644.0,309.5 L646.0,301.7 L648.0,294.0 L650.0,286.4 L652.0,279.0 L654.0,271.7 L656.0,264.5 L658.0,257.6 L660.0,250.8 L662.0,244.2 L664.0,237.8 L666.0,231.5 L668.0,225.5 L670.0,219.6 L672.0,213.9 L674.0,208.4 L676.0,203.1 L678.0,198.0 L680.0,193.0 L682.0,188.3 L684.0,183.7 L686.0,179.3 L688.0,175.0 L690.0,170.9 L692.0,167.0 L694.0,163.3 L696.0,159.8 L698.0,156.3 L700.0,153.1 L702.0,150.0 L704.0,147.1 L706.0,144.3 L708.0,141.6 L710.0,139.1 L712.0,136.7 L714.0,134.4 L716.0,132.3 L718.0,130.3 L720.0,128.3 L722.0,126.6 L724.0,124.9 L726.0,123.3 L728.0,121.8 L730.0,120.4 L732.0,119.0 L734.0,117.8 L736.0,116.6 L738.0,115.6 L740.0,114.5 L742.0,113.6 L744.0,112.7 L746.0,111.9 L748.0,111.1 L750.0,110.4 L752.0,109.7 L754.0,109.1 L756.0,108.6 L758.0,108.0 L760.0,107.5 L762.0,107.1 L764.0,106.7 L766.0,106.3 L768.0,105.9 L770.0,105.6 L772.0,105.3 L774.0,105.0 L776.0,104.8 L778.0,104.5 L780.0,104.3 L782.0,104.1 L784.0,103.9 L786.0,103.8 L788.0,103.6 L790.0,103.5 L792.0,103.4 L794.0,103.3 L796.0,103.2 L798.0,103.1 L800.0,103.0 L802.0,102.9 L804.0,102.8 L806.0,102.8 L808.0,102.7 L810.0,102.7 L812.0,102.6 L814.0,102.6 L816.0,102.5 L818.0,102.5 L820.0,102.5 L822.0,102.4 L824.0,102.4 L826.0,102.4 L828.0,102.4 L830.0,102.3 L832.0,102.3 L834.0,102.3 L836.0,102.3 L838.0,102.3 L840.0,102.3 L842.0,102.3 L844.0,102.3 L846.0,102.3 L848.0,102.2 L850.0,102.2 L852.0,102.2 L854.0,102.2 L856.0,102.2 L858.0,102.2 L860.0,102.2 L862.0,102.2 L864.0,102.2 L866.0,102.2 L868.0,102.2 L870.0,102.2 L872.0,102.2" stroke="#CBDAB4"/>
<path d="M240.0,449.2 L242.0,449.8 L244.0,450.4 L246.0,451.1 L248.0,451.7 L250.0,452.5 L252.0,453.2 L254.0,454.0 L256.0,454.8 L258.0,455.7 L260.0,456.6 L262.0,457.5 L264.0,458.5 L266.0,459.5 L268.0,460.5 L270.0,461.6 L272.0,462.7 L274.0,463.8 L276.0,465.0 L278.0,466.1 L280.0,467.3 L282.0,468.5 L284.0,469.7 L286.0,470.9 L288.0,472.2 L290.0,473.4 L292.0,474.6 L294.0,475.8 L296.0,477.0 L298.0,478.2 L300.0,479.4 L302.0,480.5 L304.0,481.6 L306.0,482.7 L308.0,483.7 L310.0,484.7 L312.0,485.7 L314.0,486.6 L316.0,487.5 L318.0,488.3 L320.0,489.1 L322.0,489.9 L324.0,490.6 L326.0,491.3 L328.0,491.9 L330.0,492.5 L332.0,493.0 L334.0,493.5 L336.0,493.9 L338.0,494.2 L340.0,494.4 L342.0,494.5 L344.0,494.6 L346.0,494.5 L348.0,494.4 L350.0,494.2 L352.0,493.9 L354.0,493.5 L356.0,493.0 L358.0,492.5 L360.0,491.8 L362.0,491.1 L364.0,490.2 L366.0,489.2 L368.0,488.2 L370.0,487.0 L372.0,485.7 L374.0,484.3 L376.0,482.8 L378.0,481.2 L380.0,479.5 L382.0,477.6 L384.0,475.7 L386.0,473.6 L388.0,471.4 L390.0,469.2 L392.0,466.8 L394.0,464.4 L396.0,461.8 L398.0,459.2 L400.0,456.6 L402.0,453.8 L404.0,451.1 L406.0,448.3 L408.0,445.6 L410.0,442.9 L412.0,440.2 L414.0,437.6 L416.0,435.1 L418.0,432.7 L420.0,430.5 L422.0,428.3 L424.0,426.3 L426.0,424.5 L428.0,422.8 L430.0,421.4 L432.0,420.1 L434.0,419.0 L436.0,418.1 L438.0,417.4 L440.0,417.0 L442.0,416.8 L444.0,416.8 L446.0,417.1 L448.0,417.6 L450.0,418.4 L452.0,419.5 L454.0,420.8 L456.0,422.4 L458.0,424.3 L460.0,426.4 L462.0,428.8 L464.0,431.5 L466.0,434.5 L468.0,437.7 L470.0,441.1 L472.0,444.8 L474.0,448.7 L476.0,452.8 L478.0,457.1 L480.0,461.7 L482.0,466.5 L484.0,471.4 L486.0,476.6 L488.0,481.9 L490.0,487.4 L492.0,493.0 L494.0,498.8 L496.0,504.7 L498.0,510.6 L500.0,516.6 L502.0,522.6 L504.0,528.7 L506.0,534.7 L508.0,540.6 L510.0,546.5 L512.0,552.2 L514.0,557.8 L516.0,563.3 L518.0,568.6 L520.0,573.7 L522.0,578.5 L524.0,583.2 L526.0,587.6 L528.0,591.7 L530.0,595.5 L532.0,599.1 L534.0,602.3 L536.0,605.2 L538.0,607.8 L540.0,610.0 L542.0,611.9 L544.0,613.3 L546.0,614.4 L548.0,615.0 L550.0,615.3 L552.0,615.1 L554.0,614.5 L556.0,613.5 L558.0,612.1 L560.0,610.4 L562.0,608.2 L564.0,605.6 L566.0,602.7 L568.0,599.4 L570.0,595.7 L572.0,591.7 L574.0,587.3 L576.0,582.7 L578.0,577.7 L580.0,572.3 L582.0,566.7 L584.0,560.8 L586.0,554.6 L588.0,548.1 L590.0,541.3 L592.0,534.3 L594.0,527.1 L596.0,519.7 L598.0,512.0 L600.0,504.2 L602.0,496.3 L604.0,488.2 L606.0,480.0 L608.0,471.7 L610.0,463.3 L612.0,454.9 L614.0,446.3 L616.0,437.7 L618.0,429.0 L620.0,420.3 L622.0,411.6 L624.0,402.8 L626.0,394.1 L628.0,385.4 L630.0,376.7 L632.0,368.0 L634.0,359.5 L636.0,350.9 L638.0,342.5 L640.0,334.1 L642.0,325.9 L644.0,317.7 L646.0,309.7 L648.0,301.8 L650.0,294.0 L652.0,286.4 L654.0,278.9 L656.0,271.6 L658.0,264.4 L660.0,257.5 L662.0,250.6 L664.0,244.0 L666.0,237.6 L668.0,231.3 L670.0,225.3 L672.0,219.4 L674.0,213.7 L676.0,208.2 L678.0,202.9 L680.0,197.7 L682.0,192.8 L684.0,188.0 L686.0,183.4 L688.0,179.0 L690.0,174.8 L692.0,170.7 L694.0,166.8 L696.0,163.1 L698.0,159.5 L700.0,156.1 L702.0,152.9 L704.0,149.8 L706.0,146.9 L708.0,144.1 L710.0,141.4 L712.0,138.9 L714.0,136.5 L716.0,134.3 L718.0,132.1 L720.0,130.1 L722.0,128.2 L724.0,126.4 L726.0,124.8 L728.0,123.2 L730.0,121.7 L732.0,120.3 L734.0,119.0 L736.0,117.7 L738.0,116.6 L740.0,115.5 L742.0,114.5 L744.0,113.5 L746.0,112.7 L748.0,111.8 L750.0,111.1 L752.0,110.4 L754.0,109.7 L756.0,109.1 L758.0,108.5 L760.0,108.0 L762.0,107.5 L764.0,107.1 L766.0,106.7 L768.0,106.3 L770.0,105.9 L772.0,105.6 L774.0,105.3 L776.0,105.0 L778.0,104.8 L780.0,104.5 L782.0,104.3 L784.0,104.1 L786.0,103.9 L788.0,103.8 L790.0,103.6 L792.0,103.5 L794.0,103.4 L796.0,103.3 L798.0,103.1 L800.0,103.1 L802.0,103.0 L804.0,102.9 L806.0,102.8 L808.0,102.8 L810.0,102.7 L812.0,102.6 L814.0,102.6 L816.0,102.6 L818.0,102.5 L820.0,102.5 L822.0,102.5 L824.0,102.4 L826.0,102.4 L828.0,102.4 L830.0,102.4 L832.0,102.3 L834.0,102.3 L836.0,102.3 L838.0,102.3 L840.0,102.3 L842.0,102.3 L844.0,102.3 L846.0,102.3 L848.0,102.3 L850.0,102.2 L852.0,102.2 L854.0,102.2 L856.0,102.2 L858.0,102.2 L860.0,102.2 L862.0,102.2 L864.0,102.2 L866.0,102.2 L868.0,102.2 L870.0,102.2 L872.0,102.2" stroke="#C8BED7"/>
<path d="M240.0,459.4 L242.0,460.0 L244.0,460.6 L246.0,461.3 L248.0,462.0 L250.0,462.7 L252.0,463.5 L254.0,464.2 L256.0,465.1 L258.0,465.9 L260.0,466.8 L262.0,467.8 L264.0,468.7 L266.0,469.7 L268.0,470.8 L270.0,471.8 L272.0,472.9 L274.0,474.0 L276.0,475.2 L278.0,476.4 L280.0,477.5 L282.0,478.7 L284.0,479.9 L286.0,481.1 L288.0,482.4 L290.0,483.6 L292.0,484.8 L294.0,486.0 L296.0,487.2 L298.0,488.4 L300.0,489.5 L302.0,490.7 L304.0,491.8 L306.0,492.8 L308.0,493.9 L310.0,494.9 L312.0,495.8 L314.0,496.7 L316.0,497.6 L318.0,498.4 L320.0,499.2 L322.0,500.0 L324.0,500.7 L326.0,501.3 L328.0,501.9 L330.0,502.5 L332.0,503.0 L334.0,503.5 L336.0,503.8 L338.0,504.1 L340.0,504.3 L342.0,504.4 L344.0,504.4 L346.0,504.4 L348.0,504.2 L350.0,504.0 L352.0,503.7 L354.0,503.3 L356.0,502.8 L358.0,502.2 L360.0,501.5 L362.0,500.7 L364.0,499.8 L366.0,498.8 L368.0,497.7 L370.0,496.5 L372.0,495.2 L374.0,493.8 L376.0,492.2 L378.0,490.6 L380.0,488.8 L382.0,486.9 L384.0,484.9 L386.0,482.8 L388.0,480.6 L390.0,478.3 L392.0,475.9 L394.0,473.4 L396.0,470.8 L398.0,468.2 L400.0,465.5 L402.0,462.7 L404.0,459.9 L406.0,457.1 L408.0,454.3 L410.0,451.5 L412.0,448.8 L414.0,446.2 L416.0,443.7 L418.0,441.2 L420.0,438.9 L422.0,436.8 L424.0,434.7 L426.0,432.9 L428.0,431.2 L430.0,429.7 L432.0,428.3 L434.0,427.2 L436.0,426.3 L438.0,425.6 L440.0,425.1 L442.0,424.9 L444.0,424.9 L446.0,425.1 L448.0,425.6 L450.0,426.3 L452.0,427.3 L454.0,428.6 L456.0,430.2 L458.0,432.0 L460.0,434.1 L462.0,436.4 L464.0,439.1 L466.0,441.9 L468.0,445.1 L470.0,448.4 L472.0,452.0 L474.0,455.8 L476.0,459.8 L478.0,464.1 L480.0,468.5 L482.0,473.2 L484.0,478.0 L486.0,483.1 L488.0,488.3 L490.0,493.7 L492.0,499.2 L494.0,504.9 L496.0,510.7 L498.0,516.5 L500.0,522.4 L502.0,528.3 L504.0,534.3 L506.0,540.2 L508.0,546.1 L510.0,551.9 L512.0,557.7 L514.0,563.3 L516.0,568.8 L518.0,574.1 L520.0,579.3 L522.0,584.2 L524.0,589.0 L526.0,593.5 L528.0,597.8 L530.0,601.9 L532.0,605.7 L534.0,609.2 L536.0,612.4 L538.0,615.4 L540.0,617.9 L542.0,620.2 L544.0,622.1 L546.0,623.6 L548.0,624.7 L550.0,625.4 L552.0,625.7 L554.0,625.7 L556.0,625.2 L558.0,624.3 L560.0,623.0 L562.0,621.3 L564.0,619.2 L566.0,616.8 L568.0,613.9 L570.0,610.6 L572.0,607.0 L574.0,603.0 L576.0,598.7 L578.0,594.0 L580.0,588.9 L582.0,583.6 L584.0,577.9 L586.0,571.8 L588.0,565.5 L590.0,558.8 L592.0,551.9 L594.0,544.7 L596.0,537.3 L598.0,529.7 L600.0,521.8 L602.0,513.8 L604.0,505.6 L606.0,497.3 L608.0,488.9 L610.0,480.3 L612.0,471.7 L614.0,462.9 L616.0,454.1 L618.0,445.1 L620.0,436.2 L622.0,427.2 L624.0,418.1 L626.0,409.1 L628.0,400.1 L630.0,391.1 L632.0,382.1 L634.0,373.1 L636.0,364.3 L638.0,355.5 L640.0,346.8 L642.0,338.1 L644.0,329.6 L646.0,321.2 L648.0,312.9 L650.0,304.8 L652.0,296.7 L654.0,288.9 L656.0,281.2 L658.0,273.7 L660.0,266.3 L662.0,259.2 L664.0,252.2 L666.0,245.4 L668.0,238.8 L670.0,232.4 L672.0,226.2 L674.0,220.2 L676.0,214.4 L678.0,208.7 L680.0,203.3 L682.0,198.1 L684.0,193.0 L686.0,188.2 L688.0,183.5 L690.0,179.0 L692.0,174.7 L694.0,170.6 L696.0,166.6 L698.0,162.8 L700.0,159.2 L702.0,155.8 L704.0,152.5 L706.0,149.4 L708.0,146.5 L710.0,143.6 L712.0,141.0 L714.0,138.5 L716.0,136.1 L718.0,133.8 L720.0,131.7 L722.0,129.7 L724.0,127.8 L726.0,126.0 L728.0,124.3 L730.0,122.7 L732.0,121.2 L734.0,119.9 L736.0,118.5 L738.0,117.3 L740.0,116.2 L742.0,115.1 L744.0,114.1 L746.0,113.2 L748.0,112.3 L750.0,111.5 L752.0,110.8 L754.0,110.1 L756.0,109.4 L758.0,108.8 L760.0,108.3 L762.0,107.8 L764.0,107.3 L766.0,106.8 L768.0,106.4 L770.0,106.1 L772.0,105.7 L774.0,105.4 L776.0,105.1 L778.0,104.9 L780.0,104.6 L782.0,104.4 L784.0,104.2 L786.0,104.0 L788.0,103.8 L790.0,103.7 L792.0,103.5 L794.0,103.4 L796.0,103.3 L798.0,103.2 L800.0,103.1 L802.0,103.0 L804.0,102.9 L806.0,102.8 L808.0,102.8 L810.0,102.7 L812.0,102.7 L814.0,102.6 L816.0,102.6 L818.0,102.5 L820.0,102.5 L822.0,102.5 L824.0,102.4 L826.0,102.4 L828.0,102.4 L830.0,102.4 L832.0,102.3 L834.0,102.3 L836.0,102.3 L838.0,102.3 L840.0,102.3 L842.0,102.3 L844.0,102.3 L846.0,102.3 L848.0,102.3 L850.0,102.2 L852.0,102.2 L854.0,102.2 L856.0,102.2 L858.0,102.2 L860.0,102.2 L862.0,102.2 L864.0,102.2 L866.0,102.2 L868.0,102.2 L870.0,102.2 L872.0,102.2" stroke="#BED6E2" stroke-width="13.8"/>
</g>
<g fill="#000">
<text transform="translate(20.2,66.1) scale(1,1)" font-size="55.8" text-anchor="start" font-family="'Liberation Sans', sans-serif" font-weight="bold">(a)</text>
<text transform="translate(217.8,104.9) scale(0.955,1)" font-size="45.3" text-anchor="end" font-family="'Liberation Sans', sans-serif" >0.0</text>
<text transform="translate(217.8,210.3) scale(0.955,1)" font-size="45.3" text-anchor="end" font-family="'Liberation Sans', sans-serif" >-20.0</text>
<text transform="translate(217.8,318.0) scale(0.955,1)" font-size="45.3" text-anchor="end" font-family="'Liberation Sans', sans-serif" >-40.0</text>
<text transform="translate(217.8,423.3) scale(0.955,1)" font-size="45.3" text-anchor="end" font-family="'Liberation Sans', sans-serif" >-60.0</text>
<text transform="translate(217.8,530.5) scale(0.955,1)" font-size="45.3" text-anchor="end" font-family="'Liberation Sans', sans-serif" >-80.0</text>
<text transform="translate(217.8,637.6) scale(0.955,1)" font-size="45.3" text-anchor="end" font-family="'Liberation Sans', sans-serif" >-100.0</text>
<text transform="translate(217.8,743.6) scale(0.955,1)" font-size="45.3" text-anchor="end" font-family="'Liberation Sans', sans-serif" >-120.0</text>
<text transform="translate(261.1,804) scale(0.955,1)" font-size="45.3" text-anchor="middle" font-family="'Liberation Sans', sans-serif" >-1.40</text>
<text transform="translate(410.57500000000005,804) scale(0.955,1)" font-size="45.3" text-anchor="middle" font-family="'Liberation Sans', sans-serif" >-1.20</text>
<text transform="translate(560.05,804) scale(0.955,1)" font-size="45.3" text-anchor="middle" font-family="'Liberation Sans', sans-serif" >-1.00</text>
<text transform="translate(709.525,804) scale(0.955,1)" font-size="45.3" text-anchor="middle" font-family="'Liberation Sans', sans-serif" >-0.80</text>
<text transform="translate(859.0,804) scale(0.955,1)" font-size="45.3" text-anchor="middle" font-family="'Liberation Sans', sans-serif" >-0.60</text>
<text transform="translate(559.9,858.5) scale(1.003,1)" font-size="45" text-anchor="middle" font-family="'Liberation Sans', sans-serif"><tspan font-style="italic">E</tspan> [V] vs. Ag/AgCl</text>
<text transform="translate(64.1,438.4) rotate(-90) scale(1.058,1)" font-size="45" text-anchor="middle" font-family="'Liberation Sans', sans-serif">Δ<tspan font-style="italic">i</tspan><tspan font-size="30" dy="9">p</tspan><tspan dy="-9"> [µA]</tspan></text>
</g>
</g>
<g id="chartB">
<g stroke="#000" stroke-width="6" fill="none">
<path d="M1171,38.8 V728.6 H1720.4" stroke-linejoin="round"/>
<path d="M1171,41.80 H1186.2"/>
<path d="M1171,76.14 H1182"/>
<path d="M1171,110.48 H1182"/>
<path d="M1171,144.82 H1182"/>
<path d="M1171,179.16 H1186.2"/>
<path d="M1171,213.50 H1182"/>
<path d="M1171,247.84 H1182"/>
<path d="M1171,282.18 H1182"/>
<path d="M1171,316.52 H1186.2"/>
<path d="M1171,350.86 H1182"/>
<path d="M1171,385.20 H1182"/>
<path d="M1171,419.54 H1182"/>
<path d="M1171,453.88 H1186.2"/>
<path d="M1171,488.22 H1182"/>
<path d="M1171,522.56 H1182"/>
<path d="M1171,556.90 H1182"/>
<path d="M1171,591.24 H1186.2"/>
<path d="M1171,625.58 H1182"/>
<path d="M1171,659.92 H1182"/>
<path d="M1171,694.26 H1182"/>
<path d="M1239.30,728.6 V717.6"/>
<path d="M1307.60,728.6 V713.4"/>
<path d="M1375.90,728.6 V717.6"/>
<path d="M1444.20,728.6 V713.4"/>
<path d="M1512.50,728.6 V717.6"/>
<path d="M1580.80,728.6 V713.4"/>
<path d="M1649.10,728.6 V717.6"/>
<path d="M1717.40,728.6 V713.4"/>
</g>
<g stroke="#505050" stroke-width="3.7" fill="none">
<path d="M1239.9,236.6 V275.8 M1230.5,236.6 H1249.3 M1230.5,275.8 H1249.3"/>
<path d="M1264.9,277.3 V306.3 M1255.5,277.3 H1274.3 M1255.5,306.3 H1274.3"/>
<path d="M1289.7,294.4 V324.6 M1280.3,294.4 H1299.1 M1280.3,324.6 H1299.1"/>
<path d="M1314.1,308.2 V343.6 M1304.7,308.2 H1323.5 M1304.7,343.6 H1323.5"/>
<path d="M1338.9,323.1 V357.8 M1329.5,323.1 H1348.3 M1329.5,357.8 H1348.3"/>
<path d="M1363.9,335.1 V374.4 M1354.5,335.1 H1373.3 M1354.5,374.4 H1373.3"/>
<path d="M1386.7,348 V391 M1377.3,348 H1396.1 M1377.3,391 H1396.1"/>
<path d="M1409.3,362.3 V405.3 M1399.9,362.3 H1418.7 M1399.9,405.3 H1418.7"/>
<path d="M1431.9,374.5 V422 M1422.5,374.5 H1441.3 M1422.5,422 H1441.3"/>
<path d="M1454.7,389.6 V436.5 M1445.3,389.6 H1464.1 M1445.3,436.5 H1464.1"/>
<path d="M1477.0,401.1 V453.2 M1467.6,401.1 H1486.4 M1467.6,453.2 H1486.4"/>
<path d="M1498.0,411.9 V464.9 M1488.6,411.9 H1507.4 M1488.6,464.9 H1507.4"/>
<path d="M1518.9,423.3 V475.3 M1509.5,423.3 H1528.3 M1509.5,475.3 H1528.3"/>
<path d="M1539.6,434.1 V490.5 M1530.2,434.1 H1549.0 M1530.2,490.5 H1549.0"/>
<path d="M1560.2,443 V504.3 M1550.8,443 H1569.6 M1550.8,504.3 H1569.6"/>
<path d="M1580.5,450.3 V523.1 M1571.1,450.3 H1589.9 M1571.1,523.1 H1589.9"/>
<path d="M1599.4,455 V533.5 M1590.0,455 H1608.8 M1590.0,533.5 H1608.8"/>
<path d="M1618.8,465.4 V545.8 M1609.4,465.4 H1628.2 M1609.4,545.8 H1628.2"/>
<path d="M1637.8,475.4 V555.9 M1628.4,475.4 H1647.2 M1628.4,555.9 H1647.2"/>
<path d="M1656.6,485.8 V566.3 M1647.2,485.8 H1666.0 M1647.2,566.3 H1666.0"/>
<path d="M1675.2,496.3 V579 M1665.8,496.3 H1684.6 M1665.8,579 H1684.6"/>
<path d="M1693.3,504.4 V591.3 M1683.9,504.4 H1702.7 M1683.9,591.3 H1702.7"/>
</g>
<g fill="#4472C4">
<rect x="1227.8" y="245.2" width="24.2" height="24.2" rx="2.5"/>
<rect x="1252.8" y="280.4" width="24.2" height="24.2" rx="2.5"/>
<rect x="1277.6" y="298.7" width="24.2" height="24.2" rx="2.5"/>
<rect x="1302.0" y="313.3" width="24.2" height="24.2" rx="2.5"/>
<rect x="1326.8" y="329.8" width="24.2" height="24.2" rx="2.5"/>
<rect x="1351.8" y="344.0" width="24.2" height="24.2" rx="2.5"/>
<rect x="1374.6" y="356.3" width="24.2" height="24.2" rx="2.5"/>
<rect x="1397.2" y="372.6" width="24.2" height="24.2" rx="2.5"/>
<rect x="1419.8" y="387.3" width="24.2" height="24.2" rx="2.5"/>
<rect x="1442.6" y="399.6" width="24.2" height="24.2" rx="2.5"/>
<rect x="1464.9" y="414.2" width="24.2" height="24.2" rx="2.5"/>
<rect x="1485.9" y="426.1" width="24.2" height="24.2" rx="2.5"/>
<rect x="1506.8" y="438.4" width="24.2" height="24.2" rx="2.5"/>
<rect x="1527.5" y="449.2" width="24.2" height="24.2" rx="2.5"/>
<rect x="1548.1" y="461.4" width="24.2" height="24.2" rx="2.5"/>
<rect x="1568.4" y="473.9" width="24.2" height="24.2" rx="2.5"/>
<rect x="1587.3" y="482.1" width="24.2" height="24.2" rx="2.5"/>
<rect x="1606.7" y="492.5" width="24.2" height="24.2" rx="2.5"/>
<rect x="1625.7" y="504.8" width="24.2" height="24.2" rx="2.5"/>
<rect x="1644.5" y="515.2" width="24.2" height="24.2" rx="2.5"/>
<rect x="1663.1" y="525.6" width="24.2" height="24.2" rx="2.5"/>
<rect x="1681.2" y="535.8" width="24.2" height="24.2" rx="2.5"/>
</g>
<path d="M1238,276.4 L1692.8,553.3" stroke="#000" stroke-width="6.6" stroke-linecap="round" fill="none"/>
<g fill="#000">
<text transform="translate(948.4,66.1) scale(1,1)" font-size="56" text-anchor="start" font-family="'Liberation Sans', sans-serif" font-weight="bold">(b)</text>
<text transform="translate(1126.3,55.1) scale(0.955,1)" font-size="45.3" text-anchor="end" font-family="'Liberation Sans', sans-serif" >0.0</text>
<text transform="translate(1126.3,193.2) scale(0.955,1)" font-size="45.3" text-anchor="end" font-family="'Liberation Sans', sans-serif" >-20.0</text>
<text transform="translate(1126.3,331.4) scale(0.955,1)" font-size="45.3" text-anchor="end" font-family="'Liberation Sans', sans-serif" >-40.0</text>
<text transform="translate(1126.3,468.0) scale(0.955,1)" font-size="45.3" text-anchor="end" font-family="'Liberation Sans', sans-serif" >-60.0</text>
<text transform="translate(1126.3,606.4) scale(0.955,1)" font-size="45.3" text-anchor="end" font-family="'Liberation Sans', sans-serif" >-80.0</text>
<text transform="translate(1126.3,744.4) scale(0.955,1)" font-size="45.3" text-anchor="end" font-family="'Liberation Sans', sans-serif" >-100.0</text>
<text transform="translate(1171.0,806) scale(0.955,1)" font-size="45.3" text-anchor="middle" font-family="'Liberation Sans', sans-serif" >0.0</text>
<text transform="translate(1307.6,806) scale(0.955,1)" font-size="45.3" text-anchor="middle" font-family="'Liberation Sans', sans-serif" >0.5</text>
<text transform="translate(1444.2,806) scale(0.955,1)" font-size="45.3" text-anchor="middle" font-family="'Liberation Sans', sans-serif" >1.0</text>
<text transform="translate(1580.8000000000002,806) scale(0.955,1)" font-size="45.3" text-anchor="middle" font-family="'Liberation Sans', sans-serif" >1.5</text>
<text transform="translate(1717.4,806) scale(0.955,1)" font-size="45.3" text-anchor="middle" font-family="'Liberation Sans', sans-serif" >2.0</text>
<text x="1363" y="858.1" font-size="54" text-anchor="start" font-family="'Liberation Serif', serif" font-style="italic">γ</text>
<text x="1398.5" y="858.1" font-size="45" text-anchor="start" letter-spacing="2.6" font-family="'Liberation Sans', sans-serif">[µg/L]</text>
<text transform="translate(994.8,401.5) rotate(-90) scale(1.045,1)" font-size="45" text-anchor="middle" font-family="'Liberation Sans', sans-serif">Δ<tspan font-style="italic">i</tspan><tspan font-size="30" dy="9">p</tspan><tspan dy="-9"> [µA]</tspan></text>
</g>
<g fill="#0c0c0c">
<text transform="translate(1522.2,179) scale(0.957,1)" font-size="42.6" text-anchor="middle" font-family="'Liberation Sans', sans-serif">Δ<tspan font-style="italic">i</tspan><tspan font-size="28.5" dy="8.5">p</tspan><tspan dy="-8.5"> = -23.076 · </tspan><tspan font-family="'Liberation Serif', serif" font-style="italic" font-size="48">γ</tspan> - 27.972</text>
<text transform="translate(1524,233.6) scale(0.94,1)" font-size="42.6" text-anchor="middle" font-family="'Liberation Sans', sans-serif"><tspan font-style="italic">R</tspan>² = 0.9971</text>
</g>
</g>
</g>
</svg>
</body></html>
